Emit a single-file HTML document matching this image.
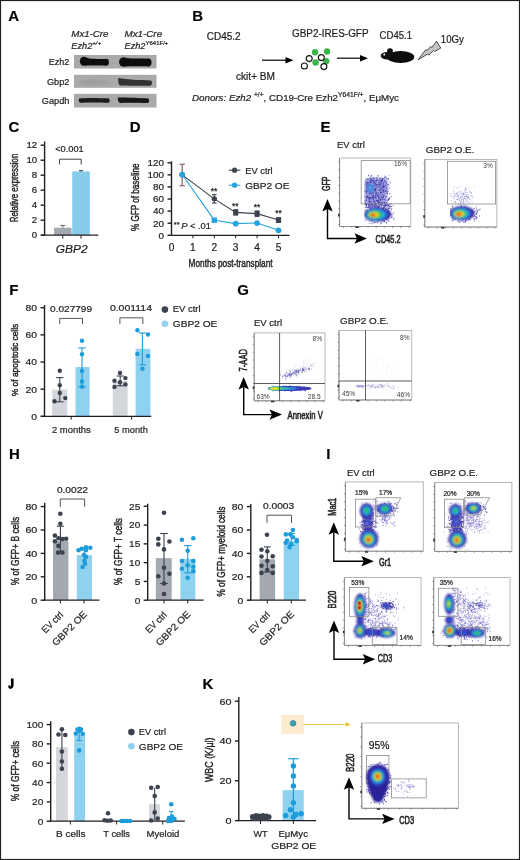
<!DOCTYPE html><html><head><meta charset="utf-8"><title>Figure</title><style>html,body{margin:0;padding:0;background:#fff;overflow:hidden}svg{display:block;font-family:"Liberation Sans", sans-serif;will-change:transform}text{stroke:#231f20;stroke-width:0.22px}text.c{stroke-width:0.42px}text.c2{stroke-width:0.6px}text.n{stroke:none}</style></head><body><svg width="520" height="860" viewBox="0 0 520 860" font-family='"Liberation Sans", sans-serif' fill="#231f20"><defs><clipPath id="cp0"><rect x="364.2" y="150" width="55.80000000000001" height="85"/></clipPath><clipPath id="cp1"><rect x="450" y="150" width="50" height="85"/></clipPath><clipPath id="cp2"><rect x="268.3" y="380" width="61.69999999999999" height="16"/></clipPath><filter id="bl1" x="-50%" y="-50%" width="200%" height="200%"><feGaussianBlur stdDeviation="0.1"/></filter><filter id="bl2" x="-50%" y="-50%" width="200%" height="200%"><feGaussianBlur stdDeviation="0.2"/></filter><filter id="bl3" x="-50%" y="-50%" width="200%" height="200%"><feGaussianBlur stdDeviation="0.3"/></filter><filter id="bl4" x="-50%" y="-50%" width="200%" height="200%"><feGaussianBlur stdDeviation="0.4"/></filter><filter id="bl5" x="-50%" y="-50%" width="200%" height="200%"><feGaussianBlur stdDeviation="0.5"/></filter><filter id="bl6" x="-50%" y="-50%" width="200%" height="200%"><feGaussianBlur stdDeviation="0.6"/></filter><filter id="bl7" x="-50%" y="-50%" width="200%" height="200%"><feGaussianBlur stdDeviation="0.7"/></filter><filter id="bl8" x="-50%" y="-50%" width="200%" height="200%"><feGaussianBlur stdDeviation="0.8"/></filter><filter id="bl9" x="-50%" y="-50%" width="200%" height="200%"><feGaussianBlur stdDeviation="0.9"/></filter><filter id="bl10" x="-50%" y="-50%" width="200%" height="200%"><feGaussianBlur stdDeviation="1.0"/></filter><filter id="bl11" x="-50%" y="-50%" width="200%" height="200%"><feGaussianBlur stdDeviation="1.1"/></filter><filter id="bl12" x="-50%" y="-50%" width="200%" height="200%"><feGaussianBlur stdDeviation="1.2"/></filter><filter id="bl13" x="-50%" y="-50%" width="200%" height="200%"><feGaussianBlur stdDeviation="1.3"/></filter><filter id="bl14" x="-50%" y="-50%" width="200%" height="200%"><feGaussianBlur stdDeviation="1.4"/></filter><filter id="bl15" x="-50%" y="-50%" width="200%" height="200%"><feGaussianBlur stdDeviation="1.5"/></filter><filter id="bl16" x="-50%" y="-50%" width="200%" height="200%"><feGaussianBlur stdDeviation="1.6"/></filter><filter id="bl17" x="-50%" y="-50%" width="200%" height="200%"><feGaussianBlur stdDeviation="1.7"/></filter><filter id="bl18" x="-50%" y="-50%" width="200%" height="200%"><feGaussianBlur stdDeviation="1.8"/></filter><filter id="bl19" x="-50%" y="-50%" width="200%" height="200%"><feGaussianBlur stdDeviation="1.9"/></filter><filter id="bl20" x="-50%" y="-50%" width="200%" height="200%"><feGaussianBlur stdDeviation="2.0"/></filter></defs><filter id="soft" x="0" y="0" width="520" height="860" filterUnits="userSpaceOnUse"><feGaussianBlur stdDeviation="0.25"/></filter><g filter="url(#soft)"><rect x="0" y="0" width="520" height="860" fill="#fff"/>
<text x="8.30" y="20.80" font-size="15" font-weight="bold" fill="#000">A</text>
<text x="71.30" y="37.00" font-size="9.4" font-style="italic" textLength="37.2" lengthAdjust="spacingAndGlyphs">Mx1-Cre</text>
<text x="71.3" y="48.5" font-size="9.2" font-style="italic" fill="#231f20">Ezh2<tspan font-size="6" dy="-3.6">+/+</tspan></text>
<text x="124.50" y="37.00" font-size="9.4" font-style="italic" textLength="37.6" lengthAdjust="spacingAndGlyphs">Mx1-Cre</text>
<text x="124.5" y="48.5" font-size="9.2" font-style="italic" fill="#231f20">Ezh2<tspan font-size="6" font-style="normal" dy="-3.6">Y641F/+</tspan></text>
<text x="69.40" y="64.80" font-size="9.2" text-anchor="end" textLength="20.6" lengthAdjust="spacingAndGlyphs">Ezh2</text>
<text x="69.40" y="84.50" font-size="9.2" text-anchor="end">Gbp2</text>
<text x="69.40" y="104.00" font-size="9.2" text-anchor="end">Gapdh</text>
<rect x="74.00" y="55.00" width="82.50" height="13.50" fill="#a9a9a9"/>
<rect x="74.00" y="74.80" width="82.50" height="13.00" fill="#a9a9a9"/>
<rect x="74.00" y="93.80" width="82.50" height="13.70" fill="#a9a9a9"/>
<g filter="url(#bl6)">
<g fill="#0e0e0e"><ellipse cx="84" cy="61.3" rx="4.2" ry="4.5"/><path d="M84,57.2 C89,58.6 92,59 106,59 L106,65.4 C95,65.4 90,65.5 84,65.6 Z"/><ellipse cx="106.3" cy="62.2" rx="2.6" ry="3.4"/></g>
<g fill="#0a0a0a"><ellipse cx="123.3" cy="62" rx="4.3" ry="4.6"/><path d="M123,57.6 C128,58.6 132,58.7 148,58.7 L148,66.2 C135,66.2 130,66 123,66.5 Z"/><ellipse cx="148.3" cy="62.5" rx="3.2" ry="4.1"/></g>
<ellipse cx="94" cy="82.5" rx="15" ry="3" fill="#a0a0a0"/>
<path d="M118.5,78 C125,79.5 140,80 151,80.5 C152.5,82 152.5,85 150,85.8 C140,86 128,85.5 120,85.5 C118,84 118,80 118.5,78 Z" fill="#333"/>
<path d="M79,98.5 C88,97.5 100,98 109,98.5 C110,100 110,102 108.5,102.8 C100,102.5 88,102.5 80,102.8 C78.5,101.5 78.5,99.5 79,98.5 Z" fill="#1a1a1a"/>
<path d="M118,97.5 C128,97.5 140,98 148.5,98.5 C149.5,100 149.5,102 148,103 C140,103 128,102.5 120,103 C118,102 117.5,99 118,97.5 Z" fill="#151515"/>
</g>
<text x="192.20" y="21.00" font-size="15" font-weight="bold" fill="#000">B</text>
<text x="206.70" y="40.00" font-size="10" textLength="34" lengthAdjust="spacingAndGlyphs">CD45.2</text>
<text x="292.00" y="36.60" font-size="10" textLength="76.5" lengthAdjust="spacingAndGlyphs">GBP2-IRES-GFP</text>
<text x="379.60" y="38.80" font-size="10" textLength="32.4" lengthAdjust="spacingAndGlyphs">CD45.1</text>
<text x="440.80" y="43.00" font-size="10" textLength="23" lengthAdjust="spacingAndGlyphs">10Gy</text>
<text x="236.00" y="80.00" font-size="10" textLength="39" lengthAdjust="spacingAndGlyphs">ckit+ BM</text>
<text x="192" y="100.6" font-size="9.5" fill="#231f20" textLength="207" lengthAdjust="spacingAndGlyphs"><tspan font-style="italic">Donors: Ezh2 </tspan><tspan font-size="6.5" dy="-3.8">+/+</tspan><tspan dy="3.8">, CD19-Cre Ezh2</tspan><tspan font-size="6.5" dy="-3.8">Y641F/+</tspan><tspan dy="3.8">, E&#956;Myc</tspan></text>
<line x1="262.00" y1="60.20" x2="286.50" y2="60.20" stroke="#000" stroke-width="1.2"/>
<polygon points="293.50,60.20 285.50,57.00 285.50,63.40" fill="#000"/>
<line x1="337.00" y1="58.20" x2="361.00" y2="58.20" stroke="#000" stroke-width="1.2"/>
<polygon points="368.00,58.20 360.00,55.00 360.00,61.40" fill="#000"/>
<circle cx="315.10" cy="52.30" r="3.2" fill="#3cb44a"/>
<circle cx="327.00" cy="51.50" r="3.2" fill="#3cb44a"/>
<circle cx="315.60" cy="62.50" r="3.2" fill="#3cb44a"/>
<circle cx="326.20" cy="61.20" r="3.2" fill="#3cb44a"/>
<circle cx="309.20" cy="58.60" r="3.0" fill="#fff" stroke="#111" stroke-width="1.1"/>
<circle cx="321.30" cy="57.60" r="3.0" fill="#fff" stroke="#111" stroke-width="1.1"/>
<circle cx="304.40" cy="66.00" r="3.0" fill="#fff" stroke="#111" stroke-width="1.1"/>
<circle cx="323.90" cy="66.60" r="3.0" fill="#fff" stroke="#111" stroke-width="1.1"/>
<g fill="#0a0a0a"><ellipse cx="400.6" cy="57" rx="13.7" ry="6.1"/><ellipse cx="387.2" cy="55.7" rx="6.5" ry="3.8"/><ellipse cx="390" cy="51" rx="2.9" ry="2.8"/></g>
<circle cx="384.30" cy="54.50" r="1.0" fill="#fff"/>
<polygon points="418.10,59.80 425.80,49.60 427.00,50.60 430.60,46.50 431.80,47.50 436.50,41.20 440.80,48.10 434.50,51.50 433.50,50.50 428.80,55.20 427.80,54.00" fill="#c4c4c4" stroke="#2a2a2a" stroke-width="0.8"/>
<text x="8.60" y="132.20" font-size="15" font-weight="bold" fill="#000">C</text>
<line x1="44.60" y1="141.50" x2="44.60" y2="235.20" stroke="#231f20" stroke-width="1.4"/>
<line x1="40.60" y1="235.20" x2="44.60" y2="235.20" stroke="#231f20" stroke-width="1.4"/>
<text x="37.20" y="238.46" font-size="8.8" text-anchor="end" textLength="5.4" lengthAdjust="spacingAndGlyphs">0</text>
<line x1="40.60" y1="220.20" x2="44.60" y2="220.20" stroke="#231f20" stroke-width="1.4"/>
<text x="37.20" y="223.46" font-size="8.8" text-anchor="end" textLength="5.4" lengthAdjust="spacingAndGlyphs">2</text>
<line x1="40.60" y1="205.20" x2="44.60" y2="205.20" stroke="#231f20" stroke-width="1.4"/>
<text x="37.20" y="208.46" font-size="8.8" text-anchor="end" textLength="5.4" lengthAdjust="spacingAndGlyphs">4</text>
<line x1="40.60" y1="190.20" x2="44.60" y2="190.20" stroke="#231f20" stroke-width="1.4"/>
<text x="37.20" y="193.46" font-size="8.8" text-anchor="end" textLength="5.4" lengthAdjust="spacingAndGlyphs">6</text>
<line x1="40.60" y1="175.20" x2="44.60" y2="175.20" stroke="#231f20" stroke-width="1.4"/>
<text x="37.20" y="178.46" font-size="8.8" text-anchor="end" textLength="5.4" lengthAdjust="spacingAndGlyphs">8</text>
<line x1="40.60" y1="160.20" x2="44.60" y2="160.20" stroke="#231f20" stroke-width="1.4"/>
<text x="37.20" y="163.46" font-size="8.8" text-anchor="end" textLength="10.8" lengthAdjust="spacingAndGlyphs">10</text>
<line x1="40.60" y1="145.20" x2="44.60" y2="145.20" stroke="#231f20" stroke-width="1.4"/>
<text x="37.20" y="148.46" font-size="8.8" text-anchor="end" textLength="10.8" lengthAdjust="spacingAndGlyphs">12</text>
<rect x="54.00" y="227.70" width="17.60" height="7.50" fill="#a3a8b1"/>
<rect x="72.20" y="171.45" width="17.60" height="63.75" fill="#86cbea"/>
<line x1="41.20" y1="235.20" x2="98.30" y2="235.20" stroke="#231f20" stroke-width="1.2"/>
<line x1="62.80" y1="235.20" x2="62.80" y2="238.60" stroke="#231f20" stroke-width="1"/>
<line x1="81.00" y1="235.20" x2="81.00" y2="238.60" stroke="#231f20" stroke-width="1"/>
<line x1="62.80" y1="225.45" x2="62.80" y2="227.70" stroke="#666" stroke-width="1"/>
<line x1="60.40" y1="225.45" x2="65.20" y2="225.45" stroke="#666" stroke-width="1"/>
<line x1="81.00" y1="170.70" x2="81.00" y2="171.45" stroke="#245" stroke-width="1"/>
<line x1="78.90" y1="170.70" x2="83.10" y2="170.70" stroke="#245" stroke-width="1"/>
<polyline points="59.50,164.40 59.50,159.20 81.20,159.20 81.20,164.40" fill="none" stroke="#444" stroke-width="1"/>
<text x="55.20" y="152.30" font-size="9.3" textLength="28.5" lengthAdjust="spacingAndGlyphs">&lt;0.001</text>
<text x="17.80" y="222.20" font-size="10.3" class="c" textLength="68.5" lengthAdjust="spacingAndGlyphs" transform="rotate(-90 17.80 222.20)">Relative expression</text>
<text x="55.80" y="252.50" font-size="11.2" font-style="italic" textLength="31.7" lengthAdjust="spacingAndGlyphs">GBP2</text>
<text x="129.70" y="132.00" font-size="15" font-weight="bold" fill="#000">D</text>
<line x1="171.50" y1="161.30" x2="171.50" y2="235.30" stroke="#231f20" stroke-width="1.4"/>
<line x1="167.50" y1="235.30" x2="171.50" y2="235.30" stroke="#231f20" stroke-width="1.4"/>
<text x="164.10" y="238.59" font-size="8.9" text-anchor="end" textLength="5.5" lengthAdjust="spacingAndGlyphs">0</text>
<line x1="167.50" y1="223.21" x2="171.50" y2="223.21" stroke="#231f20" stroke-width="1.4"/>
<text x="164.10" y="226.50" font-size="8.9" text-anchor="end" textLength="11.0" lengthAdjust="spacingAndGlyphs">20</text>
<line x1="167.50" y1="211.12" x2="171.50" y2="211.12" stroke="#231f20" stroke-width="1.4"/>
<text x="164.10" y="214.41" font-size="8.9" text-anchor="end" textLength="11.0" lengthAdjust="spacingAndGlyphs">40</text>
<line x1="167.50" y1="199.03" x2="171.50" y2="199.03" stroke="#231f20" stroke-width="1.4"/>
<text x="164.10" y="202.32" font-size="8.9" text-anchor="end" textLength="11.0" lengthAdjust="spacingAndGlyphs">60</text>
<line x1="167.50" y1="186.94" x2="171.50" y2="186.94" stroke="#231f20" stroke-width="1.4"/>
<text x="164.10" y="190.23" font-size="8.9" text-anchor="end" textLength="11.0" lengthAdjust="spacingAndGlyphs">80</text>
<line x1="167.50" y1="174.85" x2="171.50" y2="174.85" stroke="#231f20" stroke-width="1.4"/>
<text x="164.10" y="178.14" font-size="8.9" text-anchor="end" textLength="16.5" lengthAdjust="spacingAndGlyphs">100</text>
<line x1="167.50" y1="162.76" x2="171.50" y2="162.76" stroke="#231f20" stroke-width="1.4"/>
<text x="164.10" y="166.05" font-size="8.9" text-anchor="end" textLength="16.5" lengthAdjust="spacingAndGlyphs">120</text>
<line x1="171.50" y1="235.30" x2="289.50" y2="235.30" stroke="#231f20" stroke-width="1.2"/>
<line x1="192.90" y1="235.30" x2="192.90" y2="238.30" stroke="#231f20" stroke-width="1"/>
<line x1="214.30" y1="235.30" x2="214.30" y2="238.30" stroke="#231f20" stroke-width="1"/>
<line x1="235.70" y1="235.30" x2="235.70" y2="238.30" stroke="#231f20" stroke-width="1"/>
<line x1="257.10" y1="235.30" x2="257.10" y2="238.30" stroke="#231f20" stroke-width="1"/>
<line x1="278.50" y1="235.30" x2="278.50" y2="238.30" stroke="#231f20" stroke-width="1"/>
<text x="171.50" y="251.40" font-size="10.2" text-anchor="middle">0</text>
<text x="192.90" y="251.40" font-size="10.2" text-anchor="middle">1</text>
<text x="214.30" y="251.40" font-size="10.2" text-anchor="middle">2</text>
<text x="235.70" y="251.40" font-size="10.2" text-anchor="middle">3</text>
<text x="257.10" y="251.40" font-size="10.2" text-anchor="middle">4</text>
<text x="278.50" y="251.40" font-size="10.2" text-anchor="middle">5</text>
<text x="138.80" y="231.00" font-size="10.5" class="c" textLength="67.6" lengthAdjust="spacingAndGlyphs" transform="rotate(-90 138.80 231.00)">% GFP of baseline</text>
<text x="188.60" y="267.20" font-size="10.7" class="c" textLength="84" lengthAdjust="spacingAndGlyphs">Months post-transplant</text>
<line x1="182.20" y1="164.27" x2="182.20" y2="185.73" stroke="#8a6466" stroke-width="1.2"/>
<line x1="179.55" y1="164.27" x2="184.85" y2="164.27" stroke="#8a6466" stroke-width="1.2"/>
<line x1="179.55" y1="185.73" x2="184.85" y2="185.73" stroke="#8a6466" stroke-width="1.2"/>
<line x1="214.30" y1="194.62" x2="214.30" y2="203.08" stroke="#3c4350" stroke-width="1.1"/>
<line x1="212.00" y1="194.62" x2="216.60" y2="194.62" stroke="#3c4350" stroke-width="1.1"/>
<line x1="212.00" y1="203.08" x2="216.60" y2="203.08" stroke="#3c4350" stroke-width="1.1"/>
<line x1="235.70" y1="209.67" x2="235.70" y2="215.11" stroke="#3c4350" stroke-width="1.1"/>
<line x1="233.40" y1="209.67" x2="238.00" y2="209.67" stroke="#3c4350" stroke-width="1.1"/>
<line x1="233.40" y1="215.11" x2="238.00" y2="215.11" stroke="#3c4350" stroke-width="1.1"/>
<line x1="257.10" y1="210.94" x2="257.10" y2="216.38" stroke="#3c4350" stroke-width="1.1"/>
<line x1="254.80" y1="210.94" x2="259.40" y2="210.94" stroke="#3c4350" stroke-width="1.1"/>
<line x1="254.80" y1="216.38" x2="259.40" y2="216.38" stroke="#3c4350" stroke-width="1.1"/>
<line x1="278.50" y1="217.65" x2="278.50" y2="222.48" stroke="#3c4350" stroke-width="1.1"/>
<line x1="276.20" y1="217.65" x2="280.80" y2="217.65" stroke="#3c4350" stroke-width="1.1"/>
<line x1="276.20" y1="222.48" x2="280.80" y2="222.48" stroke="#3c4350" stroke-width="1.1"/>
<polyline points="182.20,174.85 214.30,198.85 235.70,212.39 257.10,213.66 278.50,220.07" fill="none" stroke="#3c4350" stroke-width="1.1"/>
<circle cx="182.20" cy="174.85" r="2.7" fill="#3c4350"/>
<circle cx="214.30" cy="198.85" r="2.7" fill="#3c4350"/>
<rect x="233.10" y="209.79" width="5.20" height="5.20" fill="#3c4350"/>
<rect x="254.50" y="211.06" width="5.20" height="5.20" fill="#3c4350"/>
<rect x="275.90" y="217.47" width="5.20" height="5.20" fill="#3c4350"/>
<polyline points="182.20,174.55 214.30,220.19 235.70,223.63 257.10,223.03 278.50,230.34" fill="none" stroke="#27a2dc" stroke-width="1.1"/>
<circle cx="182.20" cy="174.55" r="2.9" fill="#27a2dc"/>
<rect x="211.60" y="217.49" width="5.40" height="5.40" fill="#27a2dc"/>
<circle cx="235.70" cy="223.63" r="2.9" fill="#27a2dc"/>
<circle cx="257.10" cy="223.03" r="2.9" fill="#27a2dc"/>
<circle cx="278.50" cy="230.34" r="2.9" fill="#27a2dc"/>
<text x="214.00" y="193.70" font-size="8.5" text-anchor="middle">**</text>
<text x="235.20" y="209.10" font-size="8.5" text-anchor="middle">**</text>
<text x="257.10" y="210.10" font-size="8.5" text-anchor="middle">**</text>
<text x="278.50" y="216.30" font-size="8.5" text-anchor="middle">**</text>
<text x="173.8" y="229.4" font-size="9.3" fill="#231f20"><tspan font-size="7.5" dy="-2">**</tspan><tspan dy="2" dx="1.5" font-style="italic">P</tspan> &lt; .01</text>
<line x1="228.80" y1="170.20" x2="240.40" y2="170.20" stroke="#3c4350" stroke-width="1.1"/>
<circle cx="234.60" cy="170.20" r="2.6" fill="#3c4350"/>
<text x="245.20" y="173.60" font-size="9.5" textLength="27.5" lengthAdjust="spacingAndGlyphs">EV ctrl</text>
<line x1="228.80" y1="185.20" x2="240.40" y2="185.20" stroke="#27a2dc" stroke-width="1.1"/>
<circle cx="234.60" cy="185.20" r="2.6" fill="#27a2dc"/>
<text x="245.20" y="188.70" font-size="9.5" textLength="44.2" lengthAdjust="spacingAndGlyphs">GBP2 OE</text>
<text x="320.40" y="132.30" font-size="15" font-weight="bold" fill="#000">E</text>
<text x="337.00" y="148.10" font-size="9.7" textLength="27.8" lengthAdjust="spacingAndGlyphs">EV ctrl</text>
<text x="425.80" y="153.10" font-size="9.7" textLength="48.6" lengthAdjust="spacingAndGlyphs">GBP2 O.E.</text>
<rect x="339.60" y="158.00" width="71.20" height="68.50" fill="none" stroke="#b0b0b0" stroke-width="0.9"/>
<line x1="339.60" y1="158.00" x2="339.60" y2="226.50" stroke="#888" stroke-width="0.9"/>
<line x1="339.60" y1="226.50" x2="410.80" y2="226.50" stroke="#888" stroke-width="0.9"/>
<rect x="338.10" y="213.60" width="1.60" height="2.80" fill="#333"/>
<rect x="355.40" y="226.40" width="3.20" height="1.60" fill="#333"/>
<line x1="338.10" y1="162.00" x2="339.60" y2="162.00" stroke="#666" stroke-width="0.6"/>
<line x1="338.10" y1="169.81" x2="339.60" y2="169.81" stroke="#666" stroke-width="0.6"/>
<line x1="338.10" y1="177.62" x2="339.60" y2="177.62" stroke="#666" stroke-width="0.6"/>
<line x1="338.10" y1="185.44" x2="339.60" y2="185.44" stroke="#666" stroke-width="0.6"/>
<line x1="338.10" y1="193.25" x2="339.60" y2="193.25" stroke="#666" stroke-width="0.6"/>
<line x1="338.10" y1="201.06" x2="339.60" y2="201.06" stroke="#666" stroke-width="0.6"/>
<line x1="338.10" y1="208.88" x2="339.60" y2="208.88" stroke="#666" stroke-width="0.6"/>
<line x1="338.10" y1="216.69" x2="339.60" y2="216.69" stroke="#666" stroke-width="0.6"/>
<line x1="338.10" y1="224.50" x2="339.60" y2="224.50" stroke="#666" stroke-width="0.6"/>
<line x1="343.60" y1="226.50" x2="343.60" y2="228.00" stroke="#666" stroke-width="0.6"/>
<line x1="351.75" y1="226.50" x2="351.75" y2="228.00" stroke="#666" stroke-width="0.6"/>
<line x1="359.90" y1="226.50" x2="359.90" y2="228.00" stroke="#666" stroke-width="0.6"/>
<line x1="368.05" y1="226.50" x2="368.05" y2="228.00" stroke="#666" stroke-width="0.6"/>
<line x1="376.20" y1="226.50" x2="376.20" y2="228.00" stroke="#666" stroke-width="0.6"/>
<line x1="384.35" y1="226.50" x2="384.35" y2="228.00" stroke="#666" stroke-width="0.6"/>
<line x1="392.50" y1="226.50" x2="392.50" y2="228.00" stroke="#666" stroke-width="0.6"/>
<line x1="400.65" y1="226.50" x2="400.65" y2="228.00" stroke="#666" stroke-width="0.6"/>
<line x1="408.80" y1="226.50" x2="408.80" y2="228.00" stroke="#666" stroke-width="0.6"/>
<g clip-path="url(#cp0)"><g filter="url(#bl15)" opacity="0.55"><rect x="364" y="178" width="23" height="27" rx="6" fill="#5256cc"/></g></g>
<path d="M371.1 188.5h1.0M375.2 190.7h1.0M379.1 184.7h1.0M368.0 175.6h1.0M389.2 193.7h1.0M370.7 178.9h1.0M369.2 190.4h1.0M375.9 193.1h1.0M375.0 183.1h1.0M390.4 196.7h1.0M372.1 180.4h1.0M379.0 189.9h1.0M386.1 182.8h1.0M380.1 189.1h1.0M364.6 202.3h1.0M367.6 179.5h1.0M383.5 191.6h1.0M369.1 194.1h1.0M366.5 185.1h1.0M386.9 200.3h1.0M366.9 197.1h1.0M368.5 184.1h1.0M381.3 180.4h1.0M365.8 193.2h1.0M368.8 191.9h1.0M378.4 180.5h1.0M385.5 181.1h1.0M382.4 203.2h1.0M382.9 178.8h1.0M367.1 196.4h1.0M371.7 183.0h1.0M368.7 182.7h1.0M378.8 182.9h1.0M385.3 184.9h1.0M375.8 187.7h1.0M378.7 203.2h1.0M385.0 191.1h1.0M368.4 202.6h1.0M380.8 194.7h1.0M375.4 203.4h1.0M380.3 199.6h1.0M371.2 197.8h1.0M375.1 189.6h1.0M377.0 195.7h1.0M378.8 195.2h1.0M375.1 197.4h1.0M377.9 202.8h1.0M372.1 196.1h1.0M371.3 198.9h1.0M376.0 194.6h1.0M366.4 204.0h1.0M382.6 187.4h1.0M364.6 200.8h1.0M382.0 181.3h1.0M374.7 189.8h1.0M377.2 200.6h1.0M385.9 178.1h1.0M386.9 193.7h1.0M371.9 180.5h1.0M378.4 184.2h1.0M370.5 190.2h1.0M377.0 201.1h1.0M380.7 183.9h1.0M369.4 193.9h1.0M378.6 197.4h1.0M388.5 199.4h1.0M365.4 203.2h1.0M369.9 197.8h1.0M383.2 183.3h1.0M382.0 194.8h1.0M373.8 201.4h1.0M377.2 200.9h1.0M383.4 190.0h1.0M377.3 175.7h1.0M385.8 183.1h1.0M372.6 180.2h1.0M375.8 192.9h1.0M381.4 179.6h1.0M368.4 197.2h1.0M375.6 192.2h1.0M369.3 204.6h1.0M372.4 187.9h1.0M378.3 193.2h1.0M383.0 192.3h1.0M374.5 188.6h1.0M382.3 189.5h1.0M387.3 189.6h1.0M364.8 203.6h1.0M375.0 195.4h1.0M387.5 179.9h1.0M369.7 188.7h1.0M372.2 196.9h1.0M366.3 182.4h1.0M375.1 189.3h1.0M377.3 195.7h1.0M375.6 193.5h1.0M384.2 202.6h1.0M384.2 204.3h1.0M373.6 180.7h1.0M370.1 178.3h1.0M380.5 182.0h1.0M373.7 182.3h1.0M384.0 177.7h1.0M376.2 194.1h1.0M369.9 178.4h1.0M374.8 180.9h1.0M385.9 204.0h1.0M375.3 188.5h1.0M374.1 178.4h1.0M381.1 188.8h1.0M380.3 182.3h1.0M380.1 199.8h1.0M382.1 186.4h1.0M373.1 199.4h1.0M373.2 197.2h1.0M379.7 203.8h1.0M380.6 185.3h1.0M382.4 190.8h1.0M372.6 185.6h1.0M377.5 187.0h1.0M385.2 196.1h1.0M389.0 198.0h1.0M370.2 182.8h1.0M374.4 203.2h1.0M372.4 192.7h1.0M384.8 176.6h1.0M378.2 202.5h1.0M367.4 191.1h1.0M382.5 190.3h1.0M375.2 184.0h1.0M378.0 196.5h1.0M372.9 178.3h1.0M368.5 200.3h1.0M386.6 205.1h1.0M368.2 189.3h1.0M386.5 205.4h1.0M376.0 200.9h1.0M380.2 191.4h1.0M371.6 181.2h1.0M373.8 182.6h1.0M375.1 193.4h1.0M389.7 182.8h1.0M370.0 192.5h1.0M372.5 195.5h1.0M376.0 180.1h1.0M374.4 201.1h1.0M367.2 189.4h1.0M380.5 180.4h1.0M365.9 192.6h1.0M372.0 186.8h1.0M381.8 179.8h1.0M380.6 180.8h1.0M374.2 190.6h1.0M381.0 192.3h1.0M383.1 186.4h1.0M367.6 178.8h1.0M374.7 185.6h1.0M383.2 196.1h1.0M365.8 199.2h1.0M372.3 198.7h1.0M375.2 194.8h1.0M388.9 187.8h1.0M382.1 189.7h1.0M386.6 186.3h1.0M371.9 189.2h1.0M366.3 190.9h1.0M382.4 197.8h1.0M384.3 191.8h1.0M372.7 193.3h1.0M384.8 200.0h1.0M369.4 203.6h1.0M366.2 197.1h1.0M379.3 199.7h1.0M376.6 184.7h1.0M385.3 190.2h1.0M379.8 184.6h1.0M381.4 196.5h1.0M386.8 192.0h1.0M375.7 185.7h1.0M373.9 190.0h1.0M372.0 185.5h1.0M365.7 179.5h1.0M366.7 183.8h1.0M369.7 180.9h1.0M368.9 199.3h1.0M368.7 189.4h1.0M373.8 184.0h1.0M379.0 182.6h1.0M369.2 186.7h1.0M375.2 204.6h1.0M379.5 190.5h1.0M374.0 191.2h1.0M369.3 185.6h1.0M381.6 204.5h1.0M369.9 198.3h1.0M366.5 196.9h1.0M366.5 182.6h1.0M371.2 194.3h1.0M382.8 191.7h1.0M388.0 184.7h1.0M375.9 200.1h1.0M371.6 186.2h1.0M374.9 194.6h1.0M365.7 205.3h1.0M383.1 187.3h1.0M380.8 192.1h1.0M368.5 182.6h1.0M378.1 193.8h1.0M370.6 197.2h1.0M371.5 189.0h1.0M383.1 185.2h1.0M384.0 180.2h1.0M379.6 187.2h1.0M382.8 182.9h1.0M369.8 180.3h1.0M383.3 196.1h1.0M382.6 184.7h1.0M375.9 196.8h1.0M387.3 191.5h1.0M364.6 196.7h1.0M365.8 200.6h1.0M382.3 197.8h1.0M383.3 190.5h1.0M366.9 186.3h1.0M381.3 202.4h1.0M379.0 184.6h1.0M377.2 201.5h1.0M372.0 204.5h1.0M369.8 191.4h1.0M382.2 199.5h1.0M372.4 192.3h1.0M384.2 181.2h1.0M378.5 200.2h1.0M370.7 175.7h1.0M368.4 188.0h1.0M378.5 186.3h1.0M376.2 180.3h1.0M382.6 197.4h1.0M373.2 197.6h1.0M381.7 202.8h1.0M384.6 187.7h1.0M379.3 190.5h1.0M375.8 177.6h1.0M383.3 192.0h1.0M380.7 181.2h1.0M365.7 188.8h1.0M365.4 181.6h1.0M370.7 179.7h1.0M387.7 200.7h1.0M374.7 196.7h1.0M378.1 198.7h1.0M369.9 180.3h1.0M385.4 185.3h1.0M378.3 202.3h1.0M367.6 204.4h1.0M375.8 204.3h1.0M385.9 190.2h1.0M368.7 200.8h1.0M368.4 187.6h1.0M386.7 178.7h1.0M382.1 178.5h1.0M368.9 185.2h1.0M369.2 201.8h1.0M371.2 190.3h1.0M368.7 199.6h1.0M370.6 203.9h1.0M372.5 177.9h1.0M377.9 200.8h1.0M366.3 186.8h1.0M370.0 201.8h1.0M388.7 198.4h1.0M375.4 181.1h1.0M376.2 194.1h1.0M380.1 200.4h1.0M375.7 181.3h1.0M383.4 185.7h1.0M375.1 196.0h1.0M368.9 193.3h1.0M378.3 197.5h1.0M378.4 180.4h1.0M371.0 201.7h1.0M374.4 182.8h1.0M368.0 186.3h1.0M377.3 193.3h1.0M367.4 183.1h1.0M367.3 195.9h1.0M364.9 184.0h1.0M388.4 198.9h1.0M387.9 199.4h1.0M366.1 184.7h1.0M373.1 180.9h1.0M368.8 197.5h1.0M370.0 186.0h1.0M376.7 185.7h1.0M386.2 188.0h1.0M380.8 197.0h1.0M380.9 187.9h1.0M374.6 197.4h1.0M369.1 193.3h1.0M369.0 191.3h1.0M366.4 197.9h1.0M384.5 180.7h1.0M379.3 178.6h1.0M368.9 204.7h1.0M380.5 183.0h1.0M383.7 199.6h1.0M386.5 188.0h1.0M368.0 197.5h1.0M378.1 184.3h1.0M367.3 179.9h1.0M369.9 181.8h1.0M380.4 198.5h1.0M368.6 198.4h1.0M371.2 185.7h1.0M370.7 179.2h1.0M385.7 205.3h1.0M368.8 201.3h1.0M384.4 182.1h1.0M373.9 188.1h1.0M370.8 181.5h1.0M372.8 195.8h1.0M371.6 189.7h1.0M365.9 191.1h1.0M382.2 187.5h1.0M365.9 191.2h1.0M376.3 184.4h1.0M370.2 189.1h1.0M380.2 192.7h1.0M386.1 191.9h1.0M372.8 201.0h1.0M381.4 180.7h1.0M366.4 187.0h1.0M387.2 184.3h1.0M380.0 192.3h1.0M373.8 197.3h1.0M375.4 198.6h1.0M385.5 203.3h1.0M371.3 193.5h1.0M386.7 193.5h1.0M374.2 184.3h1.0M380.2 183.7h1.0M373.1 182.5h1.0M367.2 197.1h1.0M364.5 191.4h1.0M371.0 175.8h1.0M367.4 187.8h1.0M380.7 189.0h1.0M372.5 196.7h1.0M375.0 195.8h1.0M383.6 186.7h1.0M379.9 178.5h1.0M382.3 179.0h1.0M377.9 189.3h1.0M386.1 196.9h1.0M369.0 197.9h1.0M388.0 178.8h1.0M375.2 185.8h1.0M383.4 186.7h1.0M379.1 182.9h1.0M377.2 180.2h1.0M372.1 186.7h1.0M376.9 178.6h1.0M379.0 186.7h1.0M368.3 184.5h1.0" stroke="#2c2396" stroke-width="1.0" opacity="0.75" fill="none"/>
<path d="M389.2 181.6h1.0M390.4 196.5h1.0M385.2 186.5h1.0M380.3 184.8h1.0M386.1 181.0h1.0M384.0 189.7h1.0M376.3 188.2h1.0M379.9 187.2h1.0M386.1 203.4h1.0M366.1 204.1h1.0M379.9 189.4h1.0M385.2 178.9h1.0M376.5 186.3h1.0M377.9 190.9h1.0M368.9 189.0h1.0M383.9 180.7h1.0M385.5 178.3h1.0M373.4 205.4h1.0M381.2 202.5h1.0M386.9 192.2h1.0M387.1 200.8h1.0M374.5 194.3h1.0M380.2 178.0h1.0M371.3 185.3h1.0M377.9 183.4h1.0M384.3 198.4h1.0M364.5 186.4h1.0M377.2 205.7h1.0M374.6 184.4h1.0M369.8 184.8h1.0M368.0 200.6h1.0M368.6 184.3h1.0M385.2 187.2h1.0M379.3 201.8h1.0M373.7 198.8h1.0M366.5 192.5h1.0M374.9 186.4h1.0M368.1 179.5h1.0M375.6 197.0h1.0M378.4 181.4h1.0M371.6 202.6h1.0M380.5 194.3h1.0M368.1 194.3h1.0M377.7 180.5h1.0M385.8 189.4h1.0M382.7 192.7h1.0M373.5 194.0h1.0M370.8 186.2h1.0M378.0 189.7h1.0M375.6 197.8h1.0M371.9 179.4h1.0M384.0 204.9h1.0M376.3 183.0h1.0M379.1 196.4h1.0M378.4 192.8h1.0M371.5 177.5h1.0M383.9 191.8h1.0M386.8 185.9h1.0M373.9 193.5h1.0M380.9 195.4h1.0M382.3 192.6h1.0M375.2 195.3h1.0M368.4 191.0h1.0M380.4 183.9h1.0M380.2 181.6h1.0M379.8 182.4h1.0M369.4 183.6h1.0M383.7 191.1h1.0M381.7 191.2h1.0M382.7 191.7h1.0M385.8 184.0h1.0M371.1 194.9h1.0M377.2 196.9h1.0M385.3 201.1h1.0M385.9 186.5h1.0M368.1 179.5h1.0M380.5 194.4h1.0M381.9 187.5h1.0M383.9 187.3h1.0M389.4 175.2h1.0M377.5 201.1h1.0M374.6 188.7h1.0M389.4 193.8h1.0M378.2 184.4h1.0M386.4 201.2h1.0M382.0 183.8h1.0M369.7 188.9h1.0M379.5 196.0h1.0M375.8 196.5h1.0M380.3 201.9h1.0M387.1 183.3h1.0M366.2 179.8h1.0M375.3 194.2h1.0M382.8 195.9h1.0M374.6 182.5h1.0M382.2 199.1h1.0M377.8 193.7h1.0M368.8 192.1h1.0M379.7 198.6h1.0M374.4 202.9h1.0M370.8 205.5h1.0M371.1 179.0h1.0M380.4 195.6h1.0M366.1 195.6h1.0M373.1 188.9h1.0M369.2 189.6h1.0M379.7 187.0h1.0M385.1 190.5h1.0M371.0 202.0h1.0M378.4 181.9h1.0M371.2 188.4h1.0M375.0 187.3h1.0M371.3 185.4h1.0M379.0 204.4h1.0M366.5 184.9h1.0M379.0 183.5h1.0M365.2 200.1h1.0M366.7 199.4h1.0M384.0 175.8h1.0M383.7 178.9h1.0M379.9 191.1h1.0M385.5 184.3h1.0M383.8 200.8h1.0M379.0 201.1h1.0M387.3 200.0h1.0M369.3 203.7h1.0M367.0 178.5h1.0M369.2 199.9h1.0M370.1 194.6h1.0M384.8 202.6h1.0M367.3 197.9h1.0M375.8 193.0h1.0M365.5 196.3h1.0M372.1 185.1h1.0M367.3 203.2h1.0M379.4 190.0h1.0M372.1 190.1h1.0M380.0 187.6h1.0M374.6 181.4h1.0M371.9 181.6h1.0M375.4 181.8h1.0M374.7 195.6h1.0M383.4 184.7h1.0M378.0 180.7h1.0M383.6 201.5h1.0M380.6 191.5h1.0M377.8 203.8h1.0M367.6 196.4h1.0M384.8 201.1h1.0M369.6 205.8h1.0M369.3 193.4h1.0M384.0 181.1h1.0M368.5 185.6h1.0M385.6 200.6h1.0M385.4 177.6h1.0M379.3 196.5h1.0M381.9 189.9h1.0M384.6 194.0h1.0M381.0 202.6h1.0M387.6 175.6h1.0M375.2 191.6h1.0M380.7 182.9h1.0M368.2 187.6h1.0M369.2 187.1h1.0M377.5 176.9h1.0M372.2 178.8h1.0M368.4 205.4h1.0M368.4 180.2h1.0M368.1 187.3h1.0M386.2 199.8h1.0M373.0 194.6h1.0M380.4 196.2h1.0M382.2 182.1h1.0M376.6 199.3h1.0M370.4 176.3h1.0M369.1 197.9h1.0M375.2 197.0h1.0M373.3 184.6h1.0M369.2 178.1h1.0M386.4 201.9h1.0M369.4 178.7h1.0M370.5 193.2h1.0M372.1 196.6h1.0M378.7 192.9h1.0M376.1 194.7h1.0M388.7 184.7h1.0M375.3 201.3h1.0M385.1 197.9h1.0M375.4 193.4h1.0M375.2 204.5h1.0M371.7 191.0h1.0M383.9 179.6h1.0M376.5 193.7h1.0M380.3 197.5h1.0" stroke="#8a8fe0" stroke-width="1.0" opacity="0.6" fill="none"/>
<g>
<g filter="url(#bl10)" opacity="0.9">
<ellipse cx="370.50" cy="188.30" rx="3.80" ry="4.30" fill="#3d7fdc"/>
<ellipse cx="370.41" cy="188.17" rx="2.09" ry="2.37" fill="#58a6e6"/>
</g></g>
<path d="M378.8 202.5h1.0M383.8 202.4h1.0M364.7 205.1h1.0M376.9 209.1h1.0M375.3 207.1h1.0M387.6 206.8h1.0M389.1 208.4h1.0M380.8 208.0h1.0M377.3 207.1h1.0M385.5 204.8h1.0M366.3 207.0h1.0M374.6 202.6h1.0M379.9 204.5h1.0M371.8 205.5h1.0M378.5 206.2h1.0M387.6 208.2h1.0M379.4 206.9h1.0M373.1 206.3h1.0M383.1 208.2h1.0M388.8 206.6h1.0M374.8 203.9h1.0M375.0 204.3h1.0M368.1 207.2h1.0M386.4 202.5h1.0M389.3 208.0h1.0M381.2 203.6h1.0M381.0 205.3h1.0M368.7 206.7h1.0M373.8 205.7h1.0M377.4 203.9h1.0M373.2 203.8h1.0M382.8 207.1h1.0M371.6 204.9h1.0M378.4 208.9h1.0M371.9 206.4h1.0M378.5 207.5h1.0M383.3 205.8h1.0M378.3 204.3h1.0M390.1 206.0h1.0M370.2 207.5h1.0M391.3 208.2h1.0M382.1 204.0h1.0M366.0 205.6h1.0M371.2 207.9h1.0M389.3 206.8h1.0M373.6 201.7h1.0M383.1 205.4h1.0M378.5 205.4h1.0M368.1 205.8h1.0M369.6 208.3h1.0M385.1 205.7h1.0M377.5 207.4h1.0M368.4 205.5h1.0M373.5 206.2h1.0M374.8 206.2h1.0M383.8 207.1h1.0M384.0 203.6h1.0M371.3 203.7h1.0M375.8 205.6h1.0M369.5 204.6h1.0M383.2 208.6h1.0M373.9 204.2h1.0M369.8 208.3h1.0M381.6 202.8h1.0M371.4 204.1h1.0M372.5 207.9h1.0M370.0 206.0h1.0M366.1 204.3h1.0M370.9 209.3h1.0M383.9 205.3h1.0M387.4 206.0h1.0M374.0 206.8h1.0M385.4 204.9h1.0M382.3 208.0h1.0M369.9 207.8h1.0M382.5 209.6h1.0M385.5 205.1h1.0M387.4 204.2h1.0M365.2 204.4h1.0M366.5 204.0h1.0M371.9 204.2h1.0M374.4 207.9h1.0M364.8 207.4h1.0M382.4 208.6h1.0M388.8 204.5h1.0M376.3 206.6h1.0M390.9 203.6h1.0M378.4 206.7h1.0M389.7 203.8h1.0M383.9 207.5h1.0M366.7 207.6h1.0M368.4 205.1h1.0M380.9 203.8h1.0M368.1 207.4h1.0M378.0 207.6h1.0M387.7 205.1h1.0M388.1 205.3h1.0M384.7 203.5h1.0M369.8 203.5h1.0M372.1 207.2h1.0M375.4 205.4h1.0M384.0 206.1h1.0M376.0 208.3h1.0M385.3 206.2h1.0M370.7 206.0h1.0M368.9 206.7h1.0M370.0 203.3h1.0M371.2 203.5h1.0M381.4 206.0h1.0M385.0 206.5h1.0M379.1 206.2h1.0M379.6 202.9h1.0M367.2 207.5h1.0M366.0 206.3h1.0M374.9 207.1h1.0M380.8 205.2h1.0M388.9 206.1h1.0" stroke="#3a2ea8" stroke-width="1.0" opacity="0.8" fill="none"/>
<path d="M365.4 215.9h0.9M374.8 213.1h0.9M384.7 215.3h0.9M374.8 222.2h0.9M373.0 209.9h0.9M366.0 212.9h0.9M382.3 218.4h0.9M386.1 222.4h0.9M390.8 217.7h0.9M387.9 217.8h0.9M372.8 218.5h0.9M377.9 214.4h0.9M393.5 218.3h0.9M373.5 214.9h0.9M383.4 217.7h0.9M381.6 217.6h0.9M373.5 213.3h0.9M376.1 213.8h0.9M384.0 221.5h0.9M370.2 217.4h0.9M369.5 212.4h0.9M375.5 215.7h0.9M388.7 214.1h0.9M372.3 218.0h0.9M372.6 209.4h0.9M381.4 216.9h0.9M370.7 218.6h0.9M380.5 210.6h0.9M391.6 216.3h0.9M368.2 217.1h0.9M378.5 219.2h0.9M366.5 219.4h0.9M385.1 218.0h0.9M382.4 220.6h0.9M383.3 215.7h0.9M370.6 219.7h0.9M385.4 216.4h0.9M378.7 218.1h0.9M386.0 222.9h0.9M373.6 217.0h0.9M376.8 206.2h0.9M383.3 215.1h0.9M377.9 211.4h0.9M377.1 215.5h0.9M387.8 216.4h0.9M375.2 215.0h0.9M370.8 221.3h0.9M382.6 210.0h0.9M378.3 219.9h0.9M365.9 215.8h0.9M380.7 213.5h0.9M372.8 222.9h0.9M364.7 214.4h0.9M375.4 212.3h0.9M375.7 218.0h0.9M372.0 209.4h0.9M388.3 221.1h0.9M371.8 216.4h0.9M366.6 212.9h0.9M377.5 210.8h0.9M379.6 209.9h0.9M372.6 218.1h0.9M376.1 209.9h0.9M389.5 215.7h0.9M388.8 210.9h0.9M391.1 209.7h0.9M374.4 216.2h0.9M372.8 217.8h0.9M388.2 212.5h0.9M366.2 213.6h0.9M384.0 218.5h0.9M374.6 211.2h0.9M377.2 219.1h0.9M371.6 220.4h0.9M379.2 216.4h0.9M372.3 220.7h0.9M377.7 209.1h0.9M384.0 213.5h0.9M386.1 215.9h0.9M372.3 215.9h0.9M373.4 211.8h0.9M377.5 218.6h0.9M377.9 214.8h0.9M372.9 217.5h0.9M379.6 219.1h0.9M380.3 223.8h0.9M364.6 215.0h0.9M381.7 218.8h0.9M364.9 210.2h0.9M377.0 219.4h0.9M386.2 209.0h0.9M378.4 219.9h0.9M377.6 211.0h0.9M371.5 209.8h0.9M387.0 214.1h0.9M373.9 211.6h0.9M376.2 211.5h0.9M369.4 215.0h0.9M375.5 217.0h0.9M378.5 220.0h0.9M377.0 216.2h0.9M379.2 211.9h0.9M387.0 212.9h0.9M364.5 220.2h0.9M382.6 212.9h0.9M385.1 219.1h0.9M383.0 210.4h0.9M378.8 211.0h0.9M372.4 212.9h0.9M370.5 217.2h0.9M371.0 217.7h0.9M378.7 212.7h0.9M378.7 217.9h0.9M386.6 214.1h0.9M391.4 217.5h0.9M387.4 209.7h0.9M368.8 220.1h0.9M375.5 217.0h0.9M387.0 209.3h0.9M381.0 223.0h0.9M383.8 215.5h0.9M381.9 215.2h0.9M383.6 220.4h0.9M375.5 217.5h0.9M379.8 218.2h0.9M384.1 210.8h0.9M386.7 218.6h0.9M368.5 214.0h0.9M365.6 214.0h0.9M380.0 210.5h0.9M371.1 211.6h0.9M371.7 212.0h0.9M368.7 217.5h0.9M375.6 211.8h0.9M385.3 212.9h0.9M384.5 210.2h0.9M388.7 213.4h0.9M369.7 216.8h0.9M366.6 210.8h0.9M379.2 213.2h0.9M380.5 215.7h0.9M379.4 215.7h0.9M383.1 215.2h0.9M386.2 219.0h0.9M389.9 213.4h0.9M378.8 214.7h0.9M371.6 215.4h0.9M377.4 210.8h0.9M370.3 214.1h0.9M377.2 216.7h0.9M390.6 214.4h0.9M383.9 213.5h0.9M371.6 223.7h0.9M367.4 211.5h0.9M382.7 215.2h0.9M383.2 209.0h0.9M372.8 218.3h0.9M392.7 205.8h0.9M371.8 215.2h0.9M370.0 211.5h0.9M373.3 217.2h0.9M368.7 218.6h0.9M384.0 218.6h0.9M389.6 213.0h0.9M376.9 219.2h0.9M387.5 218.9h0.9M373.7 213.2h0.9M366.7 213.4h0.9M370.1 213.2h0.9M374.2 218.5h0.9M384.2 214.9h0.9M368.1 214.9h0.9M380.8 218.6h0.9M379.0 218.4h0.9M372.0 217.8h0.9M383.2 213.7h0.9M371.2 220.1h0.9M369.3 217.9h0.9M375.1 213.7h0.9M375.3 213.4h0.9M377.0 222.3h0.9M388.9 214.6h0.9M381.1 218.8h0.9M373.9 222.5h0.9M377.6 217.6h0.9M369.6 210.7h0.9M369.3 212.6h0.9M385.6 213.9h0.9M384.4 213.5h0.9M369.6 215.8h0.9M374.1 208.5h0.9M377.7 219.9h0.9M375.6 210.3h0.9M371.2 210.3h0.9M375.3 211.3h0.9M376.4 215.8h0.9M387.9 210.5h0.9M380.8 213.7h0.9M381.3 211.4h0.9M374.6 217.8h0.9M374.8 215.7h0.9M380.8 215.6h0.9M375.3 217.2h0.9M387.9 220.2h0.9M370.2 218.2h0.9M380.5 217.3h0.9M388.2 208.3h0.9M385.9 213.0h0.9M373.5 216.9h0.9M388.5 211.4h0.9M376.3 219.9h0.9M380.2 213.9h0.9M373.2 213.3h0.9M385.0 208.5h0.9M371.7 211.6h0.9M386.3 215.6h0.9M371.9 218.1h0.9M392.9 219.2h0.9M366.8 214.3h0.9M386.3 207.9h0.9M367.5 213.5h0.9M381.4 211.8h0.9M378.4 214.5h0.9M379.8 210.3h0.9M378.5 219.0h0.9M381.1 208.7h0.9M369.9 207.8h0.9M372.5 211.9h0.9M376.2 216.6h0.9M378.7 215.8h0.9M381.4 214.7h0.9M373.6 213.7h0.9M386.6 214.0h0.9M383.6 221.7h0.9M391.1 206.5h0.9M378.4 219.0h0.9M373.5 212.2h0.9M365.7 212.4h0.9M377.1 207.5h0.9M377.0 211.7h0.9M377.3 210.7h0.9M377.8 215.7h0.9M371.6 212.4h0.9M384.7 217.6h0.9M370.9 216.8h0.9M367.9 213.0h0.9M382.6 213.1h0.9M381.8 212.5h0.9M379.5 214.5h0.9M369.3 223.4h0.9M370.4 209.7h0.9M378.2 217.0h0.9M379.9 214.6h0.9M380.8 218.8h0.9M382.1 209.5h0.9M390.9 214.9h0.9M375.9 216.2h0.9M393.0 212.9h0.9M372.1 211.1h0.9M378.6 217.7h0.9M380.2 215.7h0.9M385.8 213.0h0.9M372.8 211.0h0.9M379.1 208.8h0.9M392.4 214.3h0.9M372.3 210.2h0.9M381.4 218.9h0.9M372.6 215.7h0.9M379.5 218.9h0.9M382.0 220.0h0.9M373.1 210.6h0.9M369.7 216.6h0.9M386.9 212.0h0.9M374.4 213.2h0.9M372.3 214.4h0.9" stroke="#3a30aa" stroke-width="0.9" opacity="0.85" fill="none"/>
<g clip-path="url(#cp0)">
<g filter="url(#bl9)">
<ellipse cx="377.50" cy="214.50" rx="13.50" ry="7.30" fill="#3a2a9c"/>
<ellipse cx="376.70" cy="214.57" rx="11.61" ry="6.28" fill="#2f55d2"/>
<ellipse cx="375.85" cy="214.65" rx="9.58" ry="5.18" fill="#22aee0"/>
<ellipse cx="374.88" cy="214.73" rx="7.29" ry="3.94" fill="#2fbf55"/>
<ellipse cx="373.91" cy="214.81" rx="5.00" ry="2.70" fill="#d8e42a"/>
<ellipse cx="373.23" cy="214.88" rx="3.38" ry="1.82" fill="#f08a1c"/>
<ellipse cx="372.54" cy="214.94" rx="1.76" ry="0.95" fill="#e2231c"/>
</g></g>
<rect x="361.20" y="160.60" width="49.00" height="43.20" fill="none" stroke="#8c8c8c" stroke-width="0.8"/>
<text x="407.00" y="166.00" font-size="6.5" class="n" text-anchor="end" fill="#3a3a3a">16%</text>
<rect x="424.80" y="159.40" width="72.10" height="67.60" fill="none" stroke="#b0b0b0" stroke-width="0.9"/>
<line x1="424.80" y1="159.40" x2="424.80" y2="227.00" stroke="#888" stroke-width="0.9"/>
<line x1="424.80" y1="227.00" x2="496.90" y2="227.00" stroke="#888" stroke-width="0.9"/>
<rect x="423.30" y="215.10" width="1.60" height="2.80" fill="#333"/>
<rect x="441.10" y="226.90" width="3.20" height="1.60" fill="#333"/>
<line x1="423.30" y1="163.40" x2="424.80" y2="163.40" stroke="#666" stroke-width="0.6"/>
<line x1="423.30" y1="171.10" x2="424.80" y2="171.10" stroke="#666" stroke-width="0.6"/>
<line x1="423.30" y1="178.80" x2="424.80" y2="178.80" stroke="#666" stroke-width="0.6"/>
<line x1="423.30" y1="186.50" x2="424.80" y2="186.50" stroke="#666" stroke-width="0.6"/>
<line x1="423.30" y1="194.20" x2="424.80" y2="194.20" stroke="#666" stroke-width="0.6"/>
<line x1="423.30" y1="201.90" x2="424.80" y2="201.90" stroke="#666" stroke-width="0.6"/>
<line x1="423.30" y1="209.60" x2="424.80" y2="209.60" stroke="#666" stroke-width="0.6"/>
<line x1="423.30" y1="217.30" x2="424.80" y2="217.30" stroke="#666" stroke-width="0.6"/>
<line x1="423.30" y1="225.00" x2="424.80" y2="225.00" stroke="#666" stroke-width="0.6"/>
<line x1="428.80" y1="227.00" x2="428.80" y2="228.50" stroke="#666" stroke-width="0.6"/>
<line x1="437.06" y1="227.00" x2="437.06" y2="228.50" stroke="#666" stroke-width="0.6"/>
<line x1="445.32" y1="227.00" x2="445.32" y2="228.50" stroke="#666" stroke-width="0.6"/>
<line x1="453.59" y1="227.00" x2="453.59" y2="228.50" stroke="#666" stroke-width="0.6"/>
<line x1="461.85" y1="227.00" x2="461.85" y2="228.50" stroke="#666" stroke-width="0.6"/>
<line x1="470.11" y1="227.00" x2="470.11" y2="228.50" stroke="#666" stroke-width="0.6"/>
<line x1="478.38" y1="227.00" x2="478.38" y2="228.50" stroke="#666" stroke-width="0.6"/>
<line x1="486.64" y1="227.00" x2="486.64" y2="228.50" stroke="#666" stroke-width="0.6"/>
<line x1="494.90" y1="227.00" x2="494.90" y2="228.50" stroke="#666" stroke-width="0.6"/>
<path d="M460.5 202.8h0.9M456.3 188.0h0.9M462.7 199.0h0.9M463.6 198.6h0.9M460.7 193.6h0.9M456.9 195.4h0.9M459.2 200.6h0.9M465.3 190.7h0.9M465.8 196.3h0.9M468.3 203.3h0.9M465.0 188.4h0.9M465.6 189.4h0.9M471.1 193.5h0.9M460.5 204.8h0.9M451.0 196.6h0.9M455.2 194.1h0.9M456.8 199.6h0.9M459.8 198.1h0.9M465.5 188.7h0.9M470.2 195.4h0.9M451.6 193.5h0.9M467.0 201.1h0.9M457.5 197.0h0.9M463.1 201.2h0.9M460.9 201.0h0.9M456.3 193.2h0.9M465.7 199.8h0.9M461.4 199.3h0.9M463.0 200.0h0.9M468.8 198.9h0.9M466.7 194.7h0.9M464.2 196.7h0.9M465.0 187.9h0.9M458.7 194.0h0.9M450.7 200.7h0.9M469.2 190.7h0.9M464.4 204.4h0.9M454.3 201.1h0.9M453.4 191.6h0.9M463.0 202.1h0.9M454.0 193.1h0.9M454.9 201.6h0.9M458.3 199.2h0.9M465.7 201.9h0.9M464.3 198.1h0.9M468.8 198.7h0.9M454.0 194.1h0.9M467.3 197.2h0.9M459.5 197.7h0.9M464.7 198.6h0.9M460.0 202.0h0.9M467.0 198.4h0.9M453.4 202.3h0.9M466.4 196.1h0.9M454.2 195.5h0.9M458.6 192.7h0.9M467.9 197.1h0.9M469.3 192.1h0.9M460.5 202.8h0.9M463.7 193.2h0.9M456.2 193.8h0.9M461.2 199.7h0.9M462.6 200.0h0.9M466.9 197.1h0.9M469.6 199.9h0.9M460.6 195.8h0.9M461.6 193.1h0.9M453.4 196.7h0.9M458.5 199.2h0.9M458.0 197.0h0.9M462.9 194.3h0.9M462.9 193.2h0.9M459.0 200.2h0.9M464.1 196.5h0.9M456.8 199.7h0.9M474.0 186.4h0.9M468.1 197.5h0.9M468.4 201.9h0.9M455.4 204.5h0.9M458.0 195.3h0.9M465.5 196.1h0.9M463.3 194.1h0.9M455.3 196.6h0.9M454.9 202.7h0.9M463.2 203.0h0.9M454.0 186.9h0.9M453.7 198.1h0.9M452.7 190.1h0.9M463.4 194.7h0.9M465.8 200.2h0.9M463.8 190.9h0.9M460.2 197.8h0.9M462.4 196.4h0.9M460.6 193.9h0.9M458.5 187.2h0.9M471.9 196.0h0.9M453.6 198.9h0.9M465.8 189.8h0.9M458.4 203.4h0.9M465.0 198.5h0.9M467.8 195.9h0.9M459.8 203.8h0.9M460.5 196.1h0.9M465.6 196.6h0.9M461.2 204.8h0.9M464.8 192.3h0.9M471.2 195.7h0.9M456.4 196.4h0.9M457.2 195.3h0.9M456.2 199.6h0.9M463.8 201.5h0.9M471.9 197.8h0.9M462.2 197.9h0.9M456.6 194.0h0.9M466.3 192.5h0.9M449.7 194.9h0.9M463.2 203.3h0.9M457.2 192.2h0.9M462.2 195.8h0.9M463.2 194.1h0.9M462.9 193.8h0.9M467.7 197.8h0.9M465.1 194.4h0.9M452.8 196.5h0.9M461.3 201.5h0.9M467.5 196.3h0.9M461.3 191.9h0.9M461.4 197.4h0.9M459.1 191.5h0.9M469.5 192.2h0.9M471.7 201.9h0.9M471.1 192.6h0.9" stroke="#6260c4" stroke-width="0.9" opacity="0.55" fill="none"/>
<path d="M472.8 217.2h0.9M452.0 206.1h0.9M462.2 216.4h0.9M461.8 208.0h0.9M459.0 219.0h0.9M452.0 217.5h0.9M467.2 215.3h0.9M469.1 211.4h0.9M462.1 220.3h0.9M459.9 211.9h0.9M451.8 211.7h0.9M468.9 218.2h0.9M468.2 215.9h0.9M467.7 214.8h0.9M471.1 213.0h0.9M471.6 213.3h0.9M450.3 208.7h0.9M461.5 211.8h0.9M453.4 210.6h0.9M464.5 215.0h0.9M469.8 210.3h0.9M466.0 217.4h0.9M465.8 220.2h0.9M459.3 213.5h0.9M464.4 212.0h0.9M462.6 214.4h0.9M462.8 211.6h0.9M459.5 213.2h0.9M450.9 214.2h0.9M454.4 212.6h0.9M454.5 213.9h0.9M460.1 212.5h0.9M457.2 213.9h0.9M475.6 206.8h0.9M467.1 214.4h0.9M460.0 208.8h0.9M475.4 214.2h0.9M470.9 212.1h0.9M457.0 217.5h0.9M468.8 212.4h0.9M461.3 215.8h0.9M456.8 210.4h0.9M462.7 217.3h0.9M469.8 214.2h0.9M473.6 213.0h0.9M459.2 222.2h0.9M459.2 215.7h0.9M467.4 214.0h0.9M464.8 216.1h0.9M467.4 211.4h0.9M463.1 218.7h0.9M468.8 211.9h0.9M463.6 209.9h0.9M453.0 211.6h0.9M475.6 211.2h0.9M457.7 216.3h0.9M472.7 212.3h0.9M464.0 210.2h0.9M472.5 210.8h0.9M463.3 222.3h0.9M455.9 214.2h0.9M462.7 215.3h0.9M466.7 219.1h0.9M466.9 215.8h0.9M453.5 215.0h0.9M452.7 218.0h0.9M462.7 217.1h0.9M459.3 214.4h0.9M463.8 215.6h0.9M462.3 211.4h0.9M460.2 211.2h0.9M455.9 209.1h0.9M451.7 220.5h0.9M457.4 209.5h0.9M470.8 214.6h0.9M462.1 217.8h0.9M477.6 210.4h0.9M474.2 215.7h0.9M472.2 211.6h0.9M476.2 217.9h0.9M473.6 208.4h0.9M465.7 212.9h0.9M464.9 210.4h0.9M468.2 216.3h0.9M462.3 213.3h0.9M453.2 213.6h0.9M463.1 219.2h0.9M462.8 213.4h0.9M468.9 213.4h0.9M475.8 209.1h0.9M456.0 216.0h0.9M452.4 220.8h0.9M467.3 213.9h0.9M477.0 211.6h0.9M470.8 215.2h0.9M450.4 210.4h0.9M452.3 216.2h0.9M471.2 212.7h0.9M463.6 214.4h0.9M468.9 210.2h0.9M455.6 216.5h0.9M467.1 215.3h0.9M463.5 216.4h0.9M466.8 211.3h0.9M476.5 217.6h0.9M461.2 213.2h0.9M457.5 208.3h0.9M454.9 208.2h0.9M457.9 214.7h0.9M462.6 208.2h0.9M461.5 211.2h0.9M454.5 217.7h0.9M454.9 216.9h0.9M457.6 217.1h0.9M466.3 210.6h0.9M468.1 218.3h0.9M473.6 219.1h0.9M460.3 221.6h0.9M458.5 213.0h0.9M451.0 212.7h0.9M451.7 214.0h0.9M469.5 219.5h0.9M472.4 214.2h0.9M466.9 214.3h0.9M460.0 217.1h0.9M452.2 214.3h0.9M458.6 216.4h0.9M469.2 209.6h0.9M454.1 219.1h0.9M471.5 213.5h0.9M469.8 213.8h0.9M466.9 212.1h0.9M467.5 219.9h0.9M474.7 218.4h0.9M464.2 217.2h0.9M459.8 212.5h0.9M464.3 209.5h0.9M464.7 207.1h0.9M476.2 216.8h0.9M465.6 210.9h0.9M458.4 212.1h0.9M450.0 212.0h0.9M455.9 216.8h0.9M473.8 219.1h0.9M452.4 208.4h0.9M474.6 216.6h0.9M471.6 216.1h0.9M465.1 221.6h0.9M470.1 216.2h0.9M455.2 214.2h0.9M473.9 215.7h0.9M470.5 212.9h0.9M468.9 211.4h0.9M461.7 217.6h0.9M476.7 212.4h0.9M461.5 212.7h0.9M461.7 213.7h0.9M470.2 214.9h0.9M463.1 215.3h0.9M478.9 209.7h0.9M458.5 214.6h0.9M471.2 212.6h0.9M454.8 219.4h0.9M474.0 221.0h0.9M451.1 212.0h0.9M461.1 216.2h0.9M461.6 215.7h0.9M466.9 213.0h0.9M463.5 218.9h0.9M464.6 216.0h0.9M462.9 216.3h0.9M476.1 213.9h0.9M459.3 210.7h0.9M471.3 210.6h0.9M464.9 220.4h0.9M463.2 213.2h0.9M467.8 210.2h0.9M457.3 214.3h0.9M478.9 215.9h0.9M450.9 215.2h0.9M461.6 215.3h0.9M461.8 212.8h0.9M470.0 212.9h0.9M457.1 214.9h0.9M458.6 217.7h0.9M463.4 212.9h0.9M459.7 215.9h0.9M471.3 212.4h0.9M457.0 215.9h0.9M458.3 215.2h0.9M461.1 210.5h0.9M452.6 213.2h0.9M464.4 207.3h0.9M461.0 209.4h0.9M452.9 219.3h0.9M457.2 215.9h0.9M475.9 214.2h0.9M460.7 217.8h0.9M460.7 206.4h0.9M474.1 211.6h0.9M465.0 222.2h0.9M470.8 214.8h0.9M476.8 210.2h0.9M464.0 214.5h0.9M457.7 221.9h0.9M469.9 214.3h0.9M457.6 213.4h0.9M465.6 212.2h0.9M468.7 213.7h0.9M457.7 217.7h0.9M466.7 208.5h0.9M463.7 212.9h0.9M461.4 213.3h0.9M464.1 212.8h0.9M470.0 215.8h0.9M462.0 213.1h0.9M460.6 212.1h0.9M462.0 214.5h0.9M460.8 206.4h0.9M463.9 210.2h0.9M456.8 207.5h0.9M456.6 213.5h0.9M460.7 213.7h0.9M459.7 210.5h0.9M469.0 219.6h0.9M456.1 213.0h0.9M479.7 209.3h0.9M454.0 215.7h0.9M470.5 213.5h0.9M472.5 213.1h0.9M464.9 213.5h0.9M465.8 213.6h0.9M474.9 216.4h0.9M476.5 213.0h0.9M456.8 211.2h0.9M459.9 214.9h0.9M459.7 214.7h0.9M466.6 209.1h0.9M451.8 218.7h0.9M458.0 220.8h0.9M460.7 208.3h0.9M453.6 210.5h0.9M463.6 222.2h0.9M471.5 209.9h0.9M475.9 218.6h0.9M457.8 215.9h0.9M466.3 213.0h0.9M459.5 211.3h0.9M466.8 211.6h0.9M470.3 216.2h0.9M450.1 215.2h0.9M461.7 216.6h0.9M460.3 218.1h0.9M469.9 217.1h0.9M468.2 208.3h0.9M462.7 217.8h0.9M470.5 215.9h0.9M463.0 213.4h0.9M452.1 206.7h0.9M461.7 216.8h0.9M461.0 211.5h0.9M461.7 218.7h0.9M458.2 213.2h0.9M466.0 217.7h0.9M466.6 211.6h0.9M459.1 209.2h0.9M461.6 217.4h0.9M464.6 211.9h0.9" stroke="#3a30aa" stroke-width="0.9" opacity="0.85" fill="none"/>
<g clip-path="url(#cp1)">
<g filter="url(#bl9)">
<ellipse cx="462.00" cy="213.30" rx="12.50" ry="7.20" fill="#3a2a9c"/>
<ellipse cx="461.33" cy="213.51" rx="10.50" ry="6.05" fill="#2f55d2"/>
<ellipse cx="460.66" cy="213.72" rx="8.50" ry="4.90" fill="#22aee0"/>
<ellipse cx="460.03" cy="213.91" rx="6.62" ry="3.82" fill="#2fbf55"/>
<ellipse cx="459.48" cy="214.08" rx="5.00" ry="2.88" fill="#d8e42a"/>
<ellipse cx="458.93" cy="214.25" rx="3.38" ry="1.94" fill="#f08a1c"/>
<ellipse cx="458.43" cy="214.41" rx="1.88" ry="1.08" fill="#e2231c"/>
</g></g>
<rect x="447.50" y="161.30" width="48.10" height="42.70" fill="none" stroke="#8c8c8c" stroke-width="0.8"/>
<text x="492.70" y="167.50" font-size="6.5" class="n" text-anchor="end" fill="#3a3a3a">3%</text>
<polyline points="327.50,208.50 327.50,238.50 357.50,238.50" fill="none" stroke="#000" stroke-width="1.4"/>
<polygon points="327.50,199.00 322.30,211.50 327.50,209.00 332.70,211.50" fill="#000"/>
<polygon points="367.00,238.50 354.50,233.30 357.00,238.50 354.50,243.70" fill="#000"/>
<text x="329.70" y="191.00" font-size="11.6" class="c2" textLength="14.6" lengthAdjust="spacingAndGlyphs" transform="rotate(-90 329.70 191.00)">GFP</text>
<text x="375.60" y="242.60" font-size="11.5" class="c2" textLength="25" lengthAdjust="spacingAndGlyphs">CD45.2</text>
<text x="9.30" y="294.50" font-size="15" font-weight="bold" fill="#000">F</text>
<line x1="44.50" y1="305.00" x2="44.50" y2="416.30" stroke="#231f20" stroke-width="1.4"/>
<line x1="40.50" y1="416.30" x2="44.50" y2="416.30" stroke="#231f20" stroke-width="1.4"/>
<text x="37.10" y="419.70" font-size="9.2" text-anchor="end" textLength="5.75" lengthAdjust="spacingAndGlyphs">0</text>
<line x1="40.50" y1="389.16" x2="44.50" y2="389.16" stroke="#231f20" stroke-width="1.4"/>
<text x="37.10" y="392.56" font-size="9.2" text-anchor="end" textLength="11.5" lengthAdjust="spacingAndGlyphs">20</text>
<line x1="40.50" y1="362.02" x2="44.50" y2="362.02" stroke="#231f20" stroke-width="1.4"/>
<text x="37.10" y="365.42" font-size="9.2" text-anchor="end" textLength="11.5" lengthAdjust="spacingAndGlyphs">40</text>
<line x1="40.50" y1="334.88" x2="44.50" y2="334.88" stroke="#231f20" stroke-width="1.4"/>
<text x="37.10" y="338.28" font-size="9.2" text-anchor="end" textLength="11.5" lengthAdjust="spacingAndGlyphs">60</text>
<line x1="40.50" y1="307.74" x2="44.50" y2="307.74" stroke="#231f20" stroke-width="1.4"/>
<text x="37.10" y="311.14" font-size="9.2" text-anchor="end" textLength="11.5" lengthAdjust="spacingAndGlyphs">80</text>
<rect x="52.20" y="389.57" width="15.00" height="26.73" fill="#d3d6da"/>
<rect x="75.50" y="367.04" width="14.10" height="49.26" fill="#8fd2ef"/>
<rect x="112.80" y="381.02" width="14.80" height="35.28" fill="#d3d6da"/>
<rect x="135.60" y="348.86" width="14.80" height="67.44" fill="#8fd2ef"/>
<line x1="41.00" y1="416.30" x2="151.20" y2="416.30" stroke="#231f20" stroke-width="1.3"/>
<line x1="71.20" y1="416.30" x2="71.20" y2="419.60" stroke="#231f20" stroke-width="1"/>
<line x1="131.60" y1="416.30" x2="131.60" y2="419.60" stroke="#231f20" stroke-width="1"/>
<line x1="59.80" y1="377.60" x2="59.80" y2="401.80" stroke="#3c4350" stroke-width="1.1"/>
<line x1="56.10" y1="377.60" x2="63.50" y2="377.60" stroke="#3c4350" stroke-width="1.1"/>
<line x1="56.10" y1="401.80" x2="63.50" y2="401.80" stroke="#3c4350" stroke-width="1.1"/>
<line x1="82.00" y1="347.90" x2="82.00" y2="386.80" stroke="#1e9cd8" stroke-width="1.1"/>
<line x1="78.30" y1="347.90" x2="85.70" y2="347.90" stroke="#1e9cd8" stroke-width="1.1"/>
<line x1="78.30" y1="386.80" x2="85.70" y2="386.80" stroke="#1e9cd8" stroke-width="1.1"/>
<line x1="120.20" y1="376.00" x2="120.20" y2="385.80" stroke="#3c4350" stroke-width="1.1"/>
<line x1="116.70" y1="376.00" x2="123.70" y2="376.00" stroke="#3c4350" stroke-width="1.1"/>
<line x1="116.70" y1="385.80" x2="123.70" y2="385.80" stroke="#3c4350" stroke-width="1.1"/>
<line x1="142.40" y1="333.00" x2="142.40" y2="364.80" stroke="#1e9cd8" stroke-width="1.1"/>
<line x1="138.90" y1="333.00" x2="145.90" y2="333.00" stroke="#1e9cd8" stroke-width="1.1"/>
<line x1="138.90" y1="364.80" x2="145.90" y2="364.80" stroke="#1e9cd8" stroke-width="1.1"/>
<circle cx="59.80" cy="370.70" r="2.2" fill="#3c4350"/>
<circle cx="59.80" cy="385.20" r="2.2" fill="#3c4350"/>
<circle cx="59.80" cy="393.00" r="2.2" fill="#3c4350"/>
<circle cx="65.30" cy="398.10" r="2.2" fill="#3c4350"/>
<circle cx="54.50" cy="401.30" r="2.2" fill="#3c4350"/>
<circle cx="82.00" cy="340.80" r="2.2" fill="#1e9cd8"/>
<circle cx="82.00" cy="354.20" r="2.2" fill="#1e9cd8"/>
<circle cx="82.00" cy="371.00" r="2.2" fill="#1e9cd8"/>
<circle cx="82.00" cy="381.50" r="2.2" fill="#1e9cd8"/>
<circle cx="82.00" cy="386.80" r="2.2" fill="#1e9cd8"/>
<circle cx="120.00" cy="373.00" r="2.2" fill="#3c4350"/>
<circle cx="114.50" cy="380.80" r="2.2" fill="#3c4350"/>
<circle cx="125.40" cy="378.10" r="2.2" fill="#3c4350"/>
<circle cx="120.00" cy="382.20" r="2.2" fill="#3c4350"/>
<circle cx="125.40" cy="384.40" r="2.2" fill="#3c4350"/>
<circle cx="114.50" cy="386.90" r="2.2" fill="#3c4350"/>
<circle cx="137.40" cy="330.30" r="2.2" fill="#1e9cd8"/>
<circle cx="148.00" cy="334.50" r="2.2" fill="#1e9cd8"/>
<circle cx="137.40" cy="353.90" r="2.2" fill="#1e9cd8"/>
<circle cx="148.00" cy="356.00" r="2.2" fill="#1e9cd8"/>
<circle cx="142.40" cy="368.70" r="2.2" fill="#1e9cd8"/>
<polyline points="59.70,324.00 59.70,318.40 82.50,318.40 82.50,324.00" fill="none" stroke="#555" stroke-width="1"/>
<polyline points="119.90,324.00 119.90,317.80 142.90,317.80 142.90,324.00" fill="none" stroke="#555" stroke-width="1"/>
<text x="50.10" y="312.00" font-size="9.3" textLength="41.9" lengthAdjust="spacingAndGlyphs">0.027799</text>
<text x="109.90" y="311.40" font-size="9.3" textLength="42.1" lengthAdjust="spacingAndGlyphs">0.001114</text>
<text x="52.00" y="433.40" font-size="9.6" textLength="38.8" lengthAdjust="spacingAndGlyphs">2 months</text>
<text x="114.30" y="433.40" font-size="9.6" textLength="33.5" lengthAdjust="spacingAndGlyphs">5 month</text>
<text x="18.00" y="396.30" font-size="9.7" class="c" textLength="72.6" lengthAdjust="spacingAndGlyphs" transform="rotate(-90 18.00 396.30)">% of apoptotic cells</text>
<circle cx="164.90" cy="309.60" r="3.3" fill="#3c4350"/>
<circle cx="164.90" cy="323.80" r="3.3" fill="#8fd2ef"/>
<text x="172.80" y="312.40" font-size="9.5" textLength="27.7" lengthAdjust="spacingAndGlyphs">EV ctrl</text>
<text x="172.80" y="326.80" font-size="9.5" textLength="44.6" lengthAdjust="spacingAndGlyphs">GBP2 OE</text>
<text x="237.20" y="295.40" font-size="15" font-weight="bold" fill="#000">G</text>
<text x="254.00" y="326.20" font-size="9.7" textLength="28" lengthAdjust="spacingAndGlyphs">EV ctrl</text>
<text x="340.00" y="324.20" font-size="9.7" textLength="48.8" lengthAdjust="spacingAndGlyphs">GBP2 O.E.</text>
<rect x="254.20" y="332.90" width="70.80" height="67.90" fill="none" stroke="#b0b0b0" stroke-width="0.9"/>
<line x1="254.20" y1="332.90" x2="254.20" y2="400.80" stroke="#888" stroke-width="0.9"/>
<line x1="254.20" y1="400.80" x2="325.00" y2="400.80" stroke="#888" stroke-width="0.9"/>
<rect x="252.70" y="386.30" width="1.60" height="2.80" fill="#333"/>
<rect x="270.90" y="400.70" width="3.20" height="1.60" fill="#333"/>
<line x1="252.70" y1="336.90" x2="254.20" y2="336.90" stroke="#666" stroke-width="0.6"/>
<line x1="252.70" y1="344.64" x2="254.20" y2="344.64" stroke="#666" stroke-width="0.6"/>
<line x1="252.70" y1="352.38" x2="254.20" y2="352.38" stroke="#666" stroke-width="0.6"/>
<line x1="252.70" y1="360.11" x2="254.20" y2="360.11" stroke="#666" stroke-width="0.6"/>
<line x1="252.70" y1="367.85" x2="254.20" y2="367.85" stroke="#666" stroke-width="0.6"/>
<line x1="252.70" y1="375.59" x2="254.20" y2="375.59" stroke="#666" stroke-width="0.6"/>
<line x1="252.70" y1="383.32" x2="254.20" y2="383.32" stroke="#666" stroke-width="0.6"/>
<line x1="252.70" y1="391.06" x2="254.20" y2="391.06" stroke="#666" stroke-width="0.6"/>
<line x1="252.70" y1="398.80" x2="254.20" y2="398.80" stroke="#666" stroke-width="0.6"/>
<line x1="258.20" y1="400.80" x2="258.20" y2="402.30" stroke="#666" stroke-width="0.6"/>
<line x1="266.30" y1="400.80" x2="266.30" y2="402.30" stroke="#666" stroke-width="0.6"/>
<line x1="274.40" y1="400.80" x2="274.40" y2="402.30" stroke="#666" stroke-width="0.6"/>
<line x1="282.50" y1="400.80" x2="282.50" y2="402.30" stroke="#666" stroke-width="0.6"/>
<line x1="290.60" y1="400.80" x2="290.60" y2="402.30" stroke="#666" stroke-width="0.6"/>
<line x1="298.70" y1="400.80" x2="298.70" y2="402.30" stroke="#666" stroke-width="0.6"/>
<line x1="306.80" y1="400.80" x2="306.80" y2="402.30" stroke="#666" stroke-width="0.6"/>
<line x1="314.90" y1="400.80" x2="314.90" y2="402.30" stroke="#666" stroke-width="0.6"/>
<line x1="323.00" y1="400.80" x2="323.00" y2="402.30" stroke="#666" stroke-width="0.6"/>
<path d="M301.9 372.1h0.9M288.5 373.5h0.9M298.8 373.8h0.9M297.9 369.8h0.9M289.1 374.5h0.9M302.7 369.9h0.9M292.3 373.1h0.9M296.3 371.0h0.9M295.4 372.8h0.9M308.2 367.9h0.9M302.4 368.5h0.9M302.1 370.3h0.9M291.0 373.9h0.9M302.2 369.6h0.9M304.0 371.6h0.9M308.8 370.2h0.9M285.4 376.3h0.9M290.3 375.5h0.9M296.0 372.5h0.9M298.7 370.4h0.9M295.7 371.3h0.9M311.5 366.2h0.9M294.6 370.1h0.9M283.3 375.4h0.9M301.9 371.3h0.9M297.2 370.9h0.9M309.4 366.1h0.9M288.8 375.4h0.9M287.6 375.5h0.9M302.9 369.7h0.9M298.5 371.4h0.9M288.6 370.2h0.9M285.7 375.8h0.9M282.1 376.2h0.9M297.5 373.6h0.9M284.3 375.5h0.9M297.3 372.5h0.9M285.2 378.6h0.9M289.3 376.1h0.9M293.9 373.5h0.9M308.8 368.8h0.9M295.9 370.8h0.9M289.5 372.4h0.9M310.6 364.9h0.9M305.3 368.5h0.9M301.6 369.1h0.9M290.9 374.7h0.9M298.2 370.8h0.9M308.5 369.0h0.9M295.9 370.5h0.9M296.2 371.7h0.9M295.0 373.7h0.9M290.8 374.4h0.9M301.8 370.7h0.9M312.8 363.9h0.9M294.2 371.1h0.9M295.9 375.9h0.9M282.1 376.6h0.9M300.5 370.8h0.9M301.8 367.9h0.9M302.6 368.5h0.9M285.8 376.5h0.9M298.7 370.2h0.9M288.6 374.4h0.9M295.1 372.3h0.9M286.1 372.2h0.9M305.8 369.1h0.9M284.6 373.8h0.9M289.5 373.8h0.9M298.4 370.9h0.9M298.1 371.8h0.9M303.7 369.8h0.9M305.9 371.0h0.9M292.5 372.7h0.9M288.0 374.6h0.9M289.4 374.5h0.9M297.8 372.3h0.9M286.4 377.1h0.9M292.6 373.2h0.9M290.1 371.3h0.9M296.4 369.4h0.9M304.0 369.5h0.9M307.9 369.0h0.9M301.4 372.4h0.9M295.5 374.6h0.9M294.2 373.2h0.9M290.0 375.1h0.9M300.2 370.0h0.9M284.8 376.0h0.9M298.4 371.1h0.9M287.0 374.2h0.9M291.8 369.8h0.9M291.1 376.0h0.9M284.7 375.7h0.9M308.9 368.8h0.9M302.4 369.8h0.9M285.8 379.9h0.9M297.6 372.0h0.9M308.6 369.0h0.9M295.0 370.9h0.9M293.8 372.7h0.9M289.3 373.2h0.9M287.0 375.1h0.9M290.5 374.7h0.9M303.3 370.1h0.9M295.9 374.5h0.9M299.6 368.7h0.9M289.4 374.7h0.9M288.4 375.9h0.9M280.2 374.8h0.9M303.2 370.6h0.9M282.3 377.0h0.9M305.3 367.3h0.9M285.0 374.2h0.9M286.4 372.9h0.9M290.5 371.9h0.9M296.5 375.3h0.9M287.0 376.6h0.9M303.3 366.2h0.9M295.9 372.2h0.9M292.7 374.5h0.9M291.7 374.2h0.9M291.8 373.4h0.9M289.8 377.7h0.9M294.1 371.2h0.9M311.3 369.2h0.9M293.1 372.2h0.9M289.7 376.2h0.9" stroke="#3d3aa8" stroke-width="0.9" opacity="0.6" fill="none"/>
<path d="M292.0 376.1h0.9M304.1 363.0h0.9M308.0 359.7h0.9M302.9 368.9h0.9M294.0 371.5h0.9M311.4 366.2h0.9M305.0 360.8h0.9M303.1 360.5h0.9M303.4 363.3h0.9M297.9 371.0h0.9M299.3 365.8h0.9M294.7 367.0h0.9M304.4 367.1h0.9M299.4 367.4h0.9M293.2 367.8h0.9M314.5 366.5h0.9M306.6 364.7h0.9M303.3 363.0h0.9M294.3 371.3h0.9M294.6 370.7h0.9M293.4 369.3h0.9M315.6 363.0h0.9M301.9 367.2h0.9M291.9 373.9h0.9M295.3 365.7h0.9M297.0 368.4h0.9M296.1 366.0h0.9M305.9 365.2h0.9M312.5 364.9h0.9M309.7 358.6h0.9M303.5 367.5h0.9M308.4 362.3h0.9M308.3 367.7h0.9" stroke="#9a9ad4" stroke-width="0.9" opacity="0.35" fill="none"/>
<path d="M297.3 388.3h0.9M294.0 389.1h0.9M286.7 387.6h0.9M297.6 387.9h0.9M300.5 388.2h0.9M273.3 386.8h0.9M283.0 386.0h0.9M291.2 388.1h0.9M301.8 387.4h0.9M289.6 389.2h0.9M299.8 387.2h0.9M308.0 387.7h0.9M304.5 388.1h0.9M287.6 386.9h0.9M290.7 391.5h0.9M285.3 390.4h0.9M305.9 388.0h0.9M303.7 390.2h0.9M288.8 387.8h0.9M303.7 388.9h0.9M279.9 388.4h0.9M279.6 389.5h0.9M299.4 388.0h0.9M282.7 389.6h0.9M288.1 390.0h0.9M281.7 388.2h0.9M286.3 387.2h0.9M285.4 389.5h0.9M273.1 390.1h0.9M303.4 388.1h0.9M288.3 388.8h0.9M296.9 388.1h0.9M283.1 388.2h0.9M287.6 389.5h0.9M293.0 388.8h0.9M274.6 388.0h0.9M288.0 387.9h0.9M290.9 388.1h0.9M276.1 389.7h0.9M301.8 387.9h0.9M298.7 387.3h0.9M278.9 388.3h0.9M308.5 388.4h0.9M276.1 388.8h0.9M286.2 387.6h0.9M295.9 386.3h0.9M273.4 386.7h0.9M303.7 388.7h0.9M285.9 387.7h0.9M299.3 390.1h0.9M284.7 388.9h0.9M289.0 389.0h0.9M293.6 389.4h0.9M296.2 387.9h0.9M291.3 389.0h0.9M285.3 388.7h0.9M282.9 390.1h0.9M308.9 387.5h0.9M301.5 388.8h0.9M293.5 388.2h0.9M295.4 389.8h0.9M279.7 389.8h0.9M289.8 387.2h0.9M292.0 389.4h0.9M291.6 388.9h0.9M289.0 387.9h0.9M303.1 387.4h0.9M303.0 389.0h0.9M289.7 388.3h0.9M289.5 388.5h0.9M292.1 388.4h0.9M272.3 385.9h0.9M296.1 387.8h0.9M286.6 388.4h0.9M281.1 390.5h0.9M292.6 388.4h0.9M281.6 389.7h0.9M300.1 390.4h0.9M301.9 387.6h0.9M279.4 390.3h0.9M285.6 388.4h0.9M291.0 389.2h0.9M298.3 387.3h0.9M285.9 386.4h0.9M298.4 388.4h0.9M275.1 389.9h0.9M292.7 387.3h0.9M288.3 387.8h0.9M293.7 388.8h0.9M286.7 389.1h0.9M299.3 389.8h0.9M300.9 387.3h0.9M275.2 388.2h0.9M285.0 386.5h0.9M294.1 388.0h0.9M297.7 388.8h0.9M268.4 388.4h0.9M300.7 387.8h0.9M280.2 387.1h0.9M278.9 391.3h0.9M307.0 387.8h0.9M306.6 387.2h0.9M286.9 387.6h0.9M290.6 389.4h0.9M291.3 388.8h0.9M290.1 389.0h0.9M283.5 388.9h0.9M297.1 389.7h0.9M284.0 389.1h0.9M295.3 387.6h0.9M272.2 387.9h0.9M301.4 388.2h0.9M285.0 388.4h0.9M297.1 389.1h0.9M290.0 389.1h0.9M294.1 388.0h0.9M274.2 388.8h0.9M288.2 388.5h0.9M286.8 389.5h0.9M303.4 387.7h0.9M278.4 388.9h0.9M306.5 389.0h0.9M297.3 386.8h0.9M286.7 389.3h0.9M296.1 388.5h0.9M298.2 389.6h0.9M293.2 387.7h0.9M278.0 388.8h0.9M290.6 388.3h0.9M303.6 387.7h0.9M289.6 389.3h0.9M283.3 385.9h0.9M286.7 389.5h0.9M286.2 388.2h0.9M273.5 390.0h0.9M274.5 387.7h0.9M290.5 390.9h0.9M293.5 387.7h0.9M277.1 388.2h0.9M279.8 387.8h0.9M292.8 390.0h0.9M281.1 390.2h0.9M272.6 390.9h0.9M285.7 388.1h0.9M287.5 388.8h0.9M291.7 388.1h0.9M285.2 387.9h0.9M292.9 387.9h0.9M285.3 386.8h0.9M292.6 389.1h0.9M281.9 389.7h0.9M291.9 388.7h0.9M275.0 389.3h0.9M305.0 390.9h0.9M286.1 388.5h0.9M299.8 389.2h0.9M285.9 388.6h0.9M302.2 389.2h0.9M291.7 389.8h0.9M277.3 389.1h0.9M285.6 388.1h0.9M300.5 390.6h0.9M296.9 388.7h0.9M308.9 389.5h0.9M270.1 387.8h0.9M285.7 387.7h0.9M277.3 389.3h0.9M294.1 390.6h0.9M289.5 388.7h0.9M284.9 389.8h0.9M305.1 390.6h0.9M302.7 387.9h0.9M304.6 387.5h0.9M286.3 388.3h0.9M282.6 388.9h0.9M304.4 389.2h0.9M298.1 387.6h0.9M288.7 390.1h0.9M293.6 387.8h0.9M289.1 390.2h0.9M309.8 389.1h0.9M284.4 390.6h0.9M286.2 388.7h0.9M296.9 388.6h0.9M290.9 390.5h0.9M295.9 386.9h0.9M286.8 390.2h0.9M291.0 387.4h0.9M301.8 389.2h0.9M293.1 389.3h0.9M289.0 388.8h0.9M298.5 387.9h0.9M305.1 387.3h0.9M296.5 387.1h0.9M300.5 387.6h0.9M297.6 388.6h0.9M284.7 390.7h0.9M294.4 388.0h0.9M289.1 389.0h0.9M293.3 389.6h0.9M287.1 388.9h0.9M287.9 387.8h0.9M300.8 387.6h0.9M276.6 389.4h0.9M287.7 389.3h0.9M298.0 389.2h0.9M293.6 390.4h0.9M282.4 390.0h0.9M291.4 389.0h0.9M288.6 389.6h0.9M297.6 388.1h0.9M293.4 389.2h0.9M291.5 391.5h0.9M298.5 388.1h0.9M303.0 388.9h0.9M287.8 388.2h0.9M277.1 389.5h0.9M307.9 388.5h0.9M285.0 386.6h0.9M280.9 388.6h0.9M286.6 388.4h0.9M284.6 388.4h0.9M290.7 388.8h0.9M293.8 388.8h0.9M284.9 388.3h0.9M280.9 388.0h0.9M292.6 389.1h0.9M279.6 387.5h0.9M287.6 387.2h0.9M290.0 388.4h0.9M285.8 390.5h0.9M288.6 388.9h0.9M275.3 389.6h0.9M296.0 388.8h0.9M271.7 388.5h0.9M286.2 389.1h0.9M292.5 388.0h0.9M288.2 390.1h0.9M303.6 386.6h0.9M288.4 389.3h0.9M288.7 389.0h0.9M289.6 390.5h0.9M299.9 388.4h0.9M306.7 389.4h0.9M309.4 388.0h0.9M277.9 389.5h0.9M293.1 386.5h0.9M293.4 387.6h0.9M288.1 388.7h0.9M279.0 390.1h0.9M279.9 388.6h0.9M292.8 388.0h0.9M285.0 389.6h0.9M276.8 388.6h0.9M308.6 387.7h0.9M277.4 388.0h0.9M281.0 387.6h0.9M283.7 389.3h0.9M292.8 387.3h0.9M305.3 387.4h0.9M307.0 388.0h0.9M283.3 388.0h0.9M306.6 388.7h0.9M292.1 386.6h0.9M292.2 388.2h0.9M288.7 387.6h0.9M276.6 390.1h0.9M282.7 389.3h0.9M298.0 388.7h0.9M293.7 389.3h0.9M288.9 388.4h0.9M295.6 388.8h0.9M289.3 385.3h0.9M292.0 387.1h0.9M303.9 390.0h0.9M294.7 388.8h0.9M272.1 388.3h0.9M284.6 390.7h0.9M279.1 391.2h0.9M290.6 386.1h0.9M310.3 388.3h0.9M296.0 389.9h0.9M276.6 388.0h0.9M293.7 390.1h0.9M290.6 389.2h0.9M274.9 389.2h0.9M283.2 388.1h0.9M293.4 389.6h0.9M285.6 389.1h0.9M289.3 389.3h0.9M287.9 390.2h0.9M282.1 387.3h0.9M305.1 387.7h0.9M299.0 389.4h0.9M275.6 388.2h0.9M287.7 388.4h0.9M277.6 388.8h0.9M294.4 387.2h0.9M292.6 388.8h0.9M275.4 388.5h0.9M301.4 389.4h0.9M281.5 387.6h0.9M292.5 389.0h0.9M300.5 388.6h0.9M300.3 387.7h0.9M310.6 388.3h0.9M282.7 387.9h0.9M274.3 387.6h0.9M289.1 389.1h0.9M303.4 387.5h0.9M284.7 389.3h0.9M302.4 389.4h0.9M294.6 387.1h0.9M286.7 386.6h0.9M285.1 390.0h0.9M307.6 388.2h0.9M298.0 390.1h0.9M281.4 386.9h0.9M285.4 386.0h0.9M298.8 388.4h0.9M289.0 388.5h0.9M296.7 388.5h0.9M279.6 389.2h0.9M286.5 388.8h0.9M284.9 388.5h0.9M276.2 388.6h0.9M288.7 389.7h0.9M283.7 387.4h0.9M298.6 386.1h0.9M297.9 388.4h0.9M287.0 388.6h0.9M288.8 387.4h0.9M298.7 387.4h0.9M292.7 388.2h0.9M284.2 387.7h0.9M294.3 388.0h0.9M304.9 389.5h0.9" stroke="#3430a8" stroke-width="0.9" opacity="0.8" fill="none"/>
<g clip-path="url(#cp2)">
<g filter="url(#bl7)">
<ellipse cx="289.00" cy="388.50" rx="22.00" ry="2.60" fill="#3a3cb8"/>
<ellipse cx="283.30" cy="388.50" rx="13.64" ry="1.61" fill="#2a8fd4"/>
<ellipse cx="280.00" cy="388.50" rx="8.80" ry="1.04" fill="#3cc0b0"/>
</g></g>
<g clip-path="url(#cp2)">
<g filter="url(#bl6)">
<ellipse cx="276.00" cy="388.50" rx="8.00" ry="2.20" fill="#38c0a0"/>
<ellipse cx="275.25" cy="388.50" rx="5.60" ry="1.54" fill="#9cd43a"/>
<ellipse cx="274.62" cy="388.50" rx="3.60" ry="0.99" fill="#e4e030"/>
</g></g>
<line x1="279.60" y1="332.90" x2="279.60" y2="400.80" stroke="#333" stroke-width="0.8"/>
<line x1="254.20" y1="383.50" x2="325.00" y2="383.50" stroke="#333" stroke-width="0.8"/>
<text x="322.00" y="341.20" font-size="6.6" class="n" text-anchor="end" fill="#3a3a3a">8%</text>
<text x="256.50" y="398.80" font-size="6.6" class="n" fill="#3a3a3a">63%</text>
<text x="320.60" y="398.80" font-size="6.6" class="n" text-anchor="end" fill="#3a3a3a">28.5</text>
<rect x="339.00" y="330.40" width="72.70" height="69.60" fill="none" stroke="#b0b0b0" stroke-width="0.9"/>
<line x1="339.00" y1="330.40" x2="339.00" y2="400.00" stroke="#888" stroke-width="0.9"/>
<line x1="339.00" y1="400.00" x2="411.70" y2="400.00" stroke="#888" stroke-width="0.9"/>
<rect x="337.50" y="384.60" width="1.60" height="2.80" fill="#333"/>
<rect x="356.10" y="399.90" width="3.20" height="1.60" fill="#333"/>
<line x1="337.50" y1="334.40" x2="339.00" y2="334.40" stroke="#666" stroke-width="0.6"/>
<line x1="337.50" y1="342.35" x2="339.00" y2="342.35" stroke="#666" stroke-width="0.6"/>
<line x1="337.50" y1="350.30" x2="339.00" y2="350.30" stroke="#666" stroke-width="0.6"/>
<line x1="337.50" y1="358.25" x2="339.00" y2="358.25" stroke="#666" stroke-width="0.6"/>
<line x1="337.50" y1="366.20" x2="339.00" y2="366.20" stroke="#666" stroke-width="0.6"/>
<line x1="337.50" y1="374.15" x2="339.00" y2="374.15" stroke="#666" stroke-width="0.6"/>
<line x1="337.50" y1="382.10" x2="339.00" y2="382.10" stroke="#666" stroke-width="0.6"/>
<line x1="337.50" y1="390.05" x2="339.00" y2="390.05" stroke="#666" stroke-width="0.6"/>
<line x1="337.50" y1="398.00" x2="339.00" y2="398.00" stroke="#666" stroke-width="0.6"/>
<line x1="343.00" y1="400.00" x2="343.00" y2="401.50" stroke="#666" stroke-width="0.6"/>
<line x1="351.34" y1="400.00" x2="351.34" y2="401.50" stroke="#666" stroke-width="0.6"/>
<line x1="359.68" y1="400.00" x2="359.68" y2="401.50" stroke="#666" stroke-width="0.6"/>
<line x1="368.01" y1="400.00" x2="368.01" y2="401.50" stroke="#666" stroke-width="0.6"/>
<line x1="376.35" y1="400.00" x2="376.35" y2="401.50" stroke="#666" stroke-width="0.6"/>
<line x1="384.69" y1="400.00" x2="384.69" y2="401.50" stroke="#666" stroke-width="0.6"/>
<line x1="393.02" y1="400.00" x2="393.02" y2="401.50" stroke="#666" stroke-width="0.6"/>
<line x1="401.36" y1="400.00" x2="401.36" y2="401.50" stroke="#666" stroke-width="0.6"/>
<line x1="409.70" y1="400.00" x2="409.70" y2="401.50" stroke="#666" stroke-width="0.6"/>
<path d="M380.9 385.9h0.9M366.4 385.5h0.9M370.8 386.1h0.9M381.6 387.4h0.9M379.4 387.5h0.9M382.0 386.3h0.9M373.9 385.0h0.9M357.5 386.0h0.9M374.4 386.5h0.9M380.3 384.6h0.9M367.9 384.8h0.9M388.2 386.0h0.9M377.7 385.1h0.9M361.1 385.4h0.9M375.0 386.7h0.9M358.2 386.5h0.9M366.0 385.5h0.9M372.2 385.6h0.9M381.6 387.2h0.9M380.2 385.5h0.9M381.1 386.6h0.9M386.3 386.4h0.9M357.0 385.2h0.9M371.4 387.2h0.9M374.5 387.2h0.9M379.6 384.7h0.9M376.7 386.8h0.9M381.0 384.4h0.9M381.2 385.4h0.9M393.2 389.0h0.9M388.7 386.6h0.9M364.6 383.2h0.9M386.9 383.4h0.9M376.9 385.1h0.9M388.5 386.0h0.9M378.7 386.6h0.9M369.2 386.4h0.9M378.2 386.7h0.9M369.8 386.1h0.9M355.9 385.6h0.9M376.8 387.5h0.9M387.6 385.4h0.9M363.1 388.3h0.9M386.9 383.9h0.9M372.3 385.1h0.9M369.1 384.1h0.9M371.3 385.5h0.9M373.5 387.4h0.9M379.1 384.7h0.9M355.6 385.5h0.9M390.2 387.3h0.9M369.4 387.5h0.9M381.6 385.4h0.9M381.6 386.1h0.9M363.1 385.6h0.9M378.4 387.7h0.9M364.1 386.4h0.9M376.8 386.1h0.9M361.9 387.7h0.9M392.2 388.1h0.9M382.2 387.9h0.9M383.1 387.4h0.9M372.6 386.4h0.9M372.7 384.9h0.9M371.4 384.8h0.9M363.2 385.7h0.9M369.4 388.7h0.9M386.2 385.1h0.9M380.0 384.4h0.9M369.1 385.6h0.9M372.3 387.2h0.9M367.2 389.1h0.9M370.6 387.2h0.9M357.7 387.3h0.9M361.9 386.4h0.9M376.7 387.2h0.9M384.1 386.6h0.9M375.0 388.5h0.9M371.2 386.2h0.9M371.1 386.3h0.9M365.1 385.7h0.9M382.8 385.5h0.9M382.4 385.5h0.9M393.9 386.0h0.9M398.0 386.8h0.9M375.2 387.3h0.9M390.8 388.0h0.9M393.6 387.3h0.9M362.6 387.3h0.9M375.7 386.7h0.9M392.1 385.3h0.9M392.9 389.1h0.9M383.5 385.8h0.9M393.4 386.4h0.9M389.5 387.7h0.9M358.5 386.6h0.9M358.4 385.3h0.9M384.1 384.7h0.9M368.0 385.6h0.9M380.5 386.6h0.9M382.1 385.6h0.9M367.6 386.7h0.9M366.2 385.2h0.9" stroke="#7a78cc" stroke-width="0.9" opacity="0.45" fill="none"/>
<g>
<g filter="url(#bl6)" opacity="0.7">
<ellipse cx="360.00" cy="386.20" rx="4.00" ry="1.20" fill="#8c8ad8"/>
</g></g>
<path d="M379.4 358.7h0.9M387.1 375.0h0.9M394.3 372.6h0.9M390.3 374.4h0.9M380.8 359.6h0.9M368.0 371.6h0.9M387.0 367.8h0.9M382.4 362.6h0.9M394.6 372.3h0.9M385.6 365.6h0.9M379.8 371.8h0.9M375.6 366.8h0.9M397.3 361.0h0.9M376.1 377.7h0.9M386.3 369.0h0.9M375.7 360.3h0.9M387.0 365.0h0.9M390.8 371.2h0.9M385.5 370.3h0.9M371.2 369.0h0.9" stroke="#b0b0e0" stroke-width="0.9" opacity="0.35" fill="none"/>
<line x1="365.50" y1="330.40" x2="365.50" y2="400.00" stroke="#333" stroke-width="0.8"/>
<line x1="339.00" y1="381.00" x2="411.70" y2="381.00" stroke="#333" stroke-width="0.8"/>
<text x="409.60" y="339.80" font-size="6.6" class="n" text-anchor="end" fill="#3a3a3a">8%</text>
<text x="342.00" y="396.00" font-size="6.6" class="n" fill="#3a3a3a">45%</text>
<text x="410.00" y="396.50" font-size="6.6" class="n" text-anchor="end" fill="#3a3a3a">46%</text>
<polyline points="243.70,386.50 243.70,414.60 272.50,414.60" fill="none" stroke="#000" stroke-width="1.4"/>
<polygon points="243.70,377.00 238.50,389.50 243.70,387.00 248.90,389.50" fill="#000"/>
<polygon points="282.00,414.60 269.50,409.40 272.00,414.60 269.50,419.80" fill="#000"/>
<text x="247.30" y="371.40" font-size="11.2" class="c2" textLength="22.3" lengthAdjust="spacingAndGlyphs" transform="rotate(-90 247.30 371.40)">7-AAD</text>
<text x="287.50" y="418.70" font-size="11" class="c2" textLength="35.3" lengthAdjust="spacingAndGlyphs">Annexin V</text>
<text x="8.90" y="459.40" font-size="15" font-weight="bold" fill="#000">H</text>
<line x1="44.70" y1="502.80" x2="44.70" y2="600.20" stroke="#231f20" stroke-width="1.4"/>
<line x1="40.70" y1="600.20" x2="44.70" y2="600.20" stroke="#231f20" stroke-width="1.4"/>
<text x="37.30" y="603.60" font-size="9.2" text-anchor="end" textLength="5.95" lengthAdjust="spacingAndGlyphs">0</text>
<line x1="40.70" y1="576.80" x2="44.70" y2="576.80" stroke="#231f20" stroke-width="1.4"/>
<text x="37.30" y="580.20" font-size="9.2" text-anchor="end" textLength="11.9" lengthAdjust="spacingAndGlyphs">20</text>
<line x1="40.70" y1="553.40" x2="44.70" y2="553.40" stroke="#231f20" stroke-width="1.4"/>
<text x="37.30" y="556.80" font-size="9.2" text-anchor="end" textLength="11.9" lengthAdjust="spacingAndGlyphs">40</text>
<line x1="40.70" y1="530.00" x2="44.70" y2="530.00" stroke="#231f20" stroke-width="1.4"/>
<text x="37.30" y="533.40" font-size="9.2" text-anchor="end" textLength="11.9" lengthAdjust="spacingAndGlyphs">60</text>
<line x1="40.70" y1="506.60" x2="44.70" y2="506.60" stroke="#231f20" stroke-width="1.4"/>
<text x="37.30" y="510.00" font-size="9.2" text-anchor="end" textLength="11.9" lengthAdjust="spacingAndGlyphs">80</text>
<rect x="53.00" y="541.12" width="15.40" height="59.09" fill="#a3a8b1"/>
<rect x="76.80" y="555.16" width="15.20" height="45.04" fill="#8fd2ef"/>
<line x1="43.50" y1="600.20" x2="99.40" y2="600.20" stroke="#231f20" stroke-width="1.3"/>
<line x1="60.40" y1="600.20" x2="60.40" y2="603.50" stroke="#231f20" stroke-width="1"/>
<line x1="84.00" y1="600.20" x2="84.00" y2="603.50" stroke="#231f20" stroke-width="1"/>
<line x1="60.40" y1="526.20" x2="60.40" y2="552.00" stroke="#3c4350" stroke-width="1.1"/>
<line x1="56.80" y1="526.20" x2="64.00" y2="526.20" stroke="#3c4350" stroke-width="1.1"/>
<circle cx="60.30" cy="513.80" r="2.3" fill="#3c4350"/>
<circle cx="60.30" cy="523.80" r="2.3" fill="#3c4350"/>
<circle cx="54.90" cy="535.60" r="2.3" fill="#3c4350"/>
<circle cx="66.10" cy="538.70" r="2.3" fill="#3c4350"/>
<circle cx="54.90" cy="541.30" r="2.3" fill="#3c4350"/>
<circle cx="58.40" cy="538.20" r="2.3" fill="#3c4350"/>
<circle cx="62.40" cy="539.10" r="2.3" fill="#3c4350"/>
<circle cx="58.40" cy="545.90" r="2.3" fill="#3c4350"/>
<circle cx="58.10" cy="552.60" r="2.3" fill="#3c4350"/>
<circle cx="62.40" cy="552.60" r="2.3" fill="#3c4350"/>
<line x1="84.30" y1="548.80" x2="84.30" y2="562.00" stroke="#1e9cd8" stroke-width="1.1"/>
<line x1="80.80" y1="548.80" x2="87.80" y2="548.80" stroke="#1e9cd8" stroke-width="1.1"/>
<circle cx="78.60" cy="550.20" r="2.3" fill="#1e9cd8"/>
<circle cx="81.70" cy="548.80" r="2.3" fill="#1e9cd8"/>
<circle cx="86.00" cy="547.30" r="2.3" fill="#1e9cd8"/>
<circle cx="90.30" cy="547.80" r="2.3" fill="#1e9cd8"/>
<circle cx="86.00" cy="550.20" r="2.3" fill="#1e9cd8"/>
<circle cx="84.00" cy="555.00" r="2.3" fill="#1e9cd8"/>
<circle cx="86.00" cy="556.90" r="2.3" fill="#1e9cd8"/>
<circle cx="84.50" cy="560.80" r="2.3" fill="#1e9cd8"/>
<circle cx="85.00" cy="563.80" r="2.3" fill="#1e9cd8"/>
<circle cx="82.60" cy="567.00" r="2.3" fill="#1e9cd8"/>
<polyline points="60.30,506.80 60.30,499.00 84.60,499.00 84.60,506.80" fill="none" stroke="#555" stroke-width="1"/>
<text x="56.90" y="493.30" font-size="9.3" textLength="31.1" lengthAdjust="spacingAndGlyphs">0.0022</text>
<text x="18.80" y="585.30" font-size="10" class="c" textLength="68.6" lengthAdjust="spacingAndGlyphs" transform="rotate(-90 18.80 585.30)">% of GFP+ B cells</text>
<text x="63.80" y="615.50" font-size="9.6" text-anchor="end" textLength="25.8" lengthAdjust="spacingAndGlyphs" transform="rotate(-45 63.80 615.50)">EV ctrl</text>
<text x="87.50" y="615.00" font-size="9.6" text-anchor="end" textLength="44.5" lengthAdjust="spacingAndGlyphs" transform="rotate(-45 87.50 615.00)">GBP2 OE</text>
<line x1="147.70" y1="503.70" x2="147.70" y2="600.20" stroke="#231f20" stroke-width="1.4"/>
<line x1="143.70" y1="600.20" x2="147.70" y2="600.20" stroke="#231f20" stroke-width="1.4"/>
<text x="140.30" y="603.60" font-size="9.2" text-anchor="end" textLength="5.6" lengthAdjust="spacingAndGlyphs">0</text>
<line x1="143.70" y1="581.42" x2="147.70" y2="581.42" stroke="#231f20" stroke-width="1.4"/>
<text x="140.30" y="584.82" font-size="9.2" text-anchor="end" textLength="5.6" lengthAdjust="spacingAndGlyphs">5</text>
<line x1="143.70" y1="562.64" x2="147.70" y2="562.64" stroke="#231f20" stroke-width="1.4"/>
<text x="140.30" y="566.04" font-size="9.2" text-anchor="end" textLength="11.2" lengthAdjust="spacingAndGlyphs">10</text>
<line x1="143.70" y1="543.86" x2="147.70" y2="543.86" stroke="#231f20" stroke-width="1.4"/>
<text x="140.30" y="547.26" font-size="9.2" text-anchor="end" textLength="11.2" lengthAdjust="spacingAndGlyphs">15</text>
<line x1="143.70" y1="525.08" x2="147.70" y2="525.08" stroke="#231f20" stroke-width="1.4"/>
<text x="140.30" y="528.48" font-size="9.2" text-anchor="end" textLength="11.2" lengthAdjust="spacingAndGlyphs">20</text>
<line x1="143.70" y1="506.30" x2="147.70" y2="506.30" stroke="#231f20" stroke-width="1.4"/>
<text x="140.30" y="509.70" font-size="9.2" text-anchor="end" textLength="11.2" lengthAdjust="spacingAndGlyphs">25</text>
<rect x="155.80" y="558.13" width="15.90" height="42.07" fill="#a3a8b1"/>
<rect x="180.40" y="558.88" width="15.00" height="41.32" fill="#8fd2ef"/>
<line x1="146.50" y1="600.20" x2="203.50" y2="600.20" stroke="#231f20" stroke-width="1.3"/>
<line x1="164.00" y1="600.20" x2="164.00" y2="603.50" stroke="#231f20" stroke-width="1"/>
<line x1="187.70" y1="600.20" x2="187.70" y2="603.50" stroke="#231f20" stroke-width="1"/>
<line x1="164.00" y1="533.50" x2="164.00" y2="583.50" stroke="#3c4350" stroke-width="1.1"/>
<line x1="160.15" y1="533.50" x2="167.85" y2="533.50" stroke="#3c4350" stroke-width="1.1"/>
<line x1="160.15" y1="583.50" x2="167.85" y2="583.50" stroke="#3c4350" stroke-width="1.1"/>
<circle cx="164.00" cy="512.70" r="2.3" fill="#3c4350"/>
<circle cx="158.30" cy="538.80" r="2.3" fill="#3c4350"/>
<circle cx="169.40" cy="541.50" r="2.3" fill="#3c4350"/>
<circle cx="158.30" cy="544.40" r="2.3" fill="#3c4350"/>
<circle cx="164.00" cy="549.40" r="2.3" fill="#3c4350"/>
<circle cx="164.00" cy="567.70" r="2.3" fill="#3c4350"/>
<circle cx="169.40" cy="573.80" r="2.3" fill="#3c4350"/>
<circle cx="158.30" cy="576.20" r="2.3" fill="#3c4350"/>
<circle cx="164.00" cy="583.50" r="2.3" fill="#3c4350"/>
<circle cx="164.00" cy="594.00" r="2.3" fill="#3c4350"/>
<line x1="187.70" y1="545.60" x2="187.70" y2="572.90" stroke="#1e9cd8" stroke-width="1.1"/>
<line x1="183.85" y1="545.60" x2="191.55" y2="545.60" stroke="#1e9cd8" stroke-width="1.1"/>
<line x1="183.85" y1="572.90" x2="191.55" y2="572.90" stroke="#1e9cd8" stroke-width="1.1"/>
<circle cx="181.90" cy="539.80" r="2.3" fill="#1e9cd8"/>
<circle cx="193.30" cy="538.30" r="2.3" fill="#1e9cd8"/>
<circle cx="187.70" cy="550.80" r="2.3" fill="#1e9cd8"/>
<circle cx="181.90" cy="561.00" r="2.3" fill="#1e9cd8"/>
<circle cx="193.30" cy="561.00" r="2.3" fill="#1e9cd8"/>
<circle cx="187.70" cy="565.20" r="2.3" fill="#1e9cd8"/>
<circle cx="181.90" cy="568.70" r="2.3" fill="#1e9cd8"/>
<circle cx="193.30" cy="566.70" r="2.3" fill="#1e9cd8"/>
<circle cx="193.30" cy="571.30" r="2.3" fill="#1e9cd8"/>
<circle cx="187.70" cy="577.70" r="2.3" fill="#1e9cd8"/>
<text x="122.00" y="585.00" font-size="10" class="c" textLength="67" lengthAdjust="spacingAndGlyphs" transform="rotate(-90 122.00 585.00)">% of GFP+ T cells</text>
<text x="167.40" y="615.50" font-size="9.6" text-anchor="end" textLength="25.8" lengthAdjust="spacingAndGlyphs" transform="rotate(-45 167.40 615.50)">EV ctrl</text>
<text x="191.10" y="615.00" font-size="9.6" text-anchor="end" textLength="44.5" lengthAdjust="spacingAndGlyphs" transform="rotate(-45 191.10 615.00)">GBP2 OE</text>
<line x1="250.80" y1="504.00" x2="250.80" y2="600.20" stroke="#231f20" stroke-width="1.4"/>
<line x1="246.80" y1="600.20" x2="250.80" y2="600.20" stroke="#231f20" stroke-width="1.4"/>
<text x="243.40" y="603.60" font-size="9.2" text-anchor="end" textLength="5.8" lengthAdjust="spacingAndGlyphs">0</text>
<line x1="246.80" y1="576.80" x2="250.80" y2="576.80" stroke="#231f20" stroke-width="1.4"/>
<text x="243.40" y="580.20" font-size="9.2" text-anchor="end" textLength="11.6" lengthAdjust="spacingAndGlyphs">20</text>
<line x1="246.80" y1="553.40" x2="250.80" y2="553.40" stroke="#231f20" stroke-width="1.4"/>
<text x="243.40" y="556.80" font-size="9.2" text-anchor="end" textLength="11.6" lengthAdjust="spacingAndGlyphs">40</text>
<line x1="246.80" y1="530.00" x2="250.80" y2="530.00" stroke="#231f20" stroke-width="1.4"/>
<text x="243.40" y="533.40" font-size="9.2" text-anchor="end" textLength="11.6" lengthAdjust="spacingAndGlyphs">60</text>
<line x1="246.80" y1="506.60" x2="250.80" y2="506.60" stroke="#231f20" stroke-width="1.4"/>
<text x="243.40" y="510.00" font-size="9.2" text-anchor="end" textLength="11.6" lengthAdjust="spacingAndGlyphs">80</text>
<rect x="259.60" y="559.25" width="15.60" height="40.95" fill="#a3a8b1"/>
<rect x="283.70" y="541.23" width="15.30" height="58.97" fill="#8fd2ef"/>
<line x1="248.80" y1="600.20" x2="306.00" y2="600.20" stroke="#231f20" stroke-width="1.3"/>
<line x1="267.30" y1="600.20" x2="267.30" y2="603.50" stroke="#231f20" stroke-width="1"/>
<line x1="291.30" y1="600.20" x2="291.30" y2="603.50" stroke="#231f20" stroke-width="1"/>
<line x1="267.30" y1="546.90" x2="267.30" y2="572.00" stroke="#3c4350" stroke-width="1.1"/>
<line x1="263.90" y1="546.90" x2="270.70" y2="546.90" stroke="#3c4350" stroke-width="1.1"/>
<line x1="263.90" y1="572.00" x2="270.70" y2="572.00" stroke="#3c4350" stroke-width="1.1"/>
<circle cx="267.00" cy="534.80" r="2.3" fill="#3c4350"/>
<circle cx="261.50" cy="549.80" r="2.3" fill="#3c4350"/>
<circle cx="267.30" cy="551.30" r="2.3" fill="#3c4350"/>
<circle cx="272.70" cy="556.20" r="2.3" fill="#3c4350"/>
<circle cx="261.50" cy="556.50" r="2.3" fill="#3c4350"/>
<circle cx="267.30" cy="560.80" r="2.3" fill="#3c4350"/>
<circle cx="261.50" cy="565.80" r="2.3" fill="#3c4350"/>
<circle cx="272.70" cy="566.20" r="2.3" fill="#3c4350"/>
<circle cx="267.30" cy="570.00" r="2.3" fill="#3c4350"/>
<circle cx="261.50" cy="572.90" r="2.3" fill="#3c4350"/>
<circle cx="272.70" cy="572.90" r="2.3" fill="#3c4350"/>
<line x1="291.30" y1="533.50" x2="291.30" y2="545.40" stroke="#1e9cd8" stroke-width="1.1"/>
<line x1="287.80" y1="533.50" x2="294.80" y2="533.50" stroke="#1e9cd8" stroke-width="1.1"/>
<line x1="287.80" y1="545.40" x2="294.80" y2="545.40" stroke="#1e9cd8" stroke-width="1.1"/>
<circle cx="292.90" cy="530.00" r="2.3" fill="#1e9cd8"/>
<circle cx="285.80" cy="534.40" r="2.3" fill="#1e9cd8"/>
<circle cx="290.40" cy="534.40" r="2.3" fill="#1e9cd8"/>
<circle cx="292.90" cy="537.30" r="2.3" fill="#1e9cd8"/>
<circle cx="287.10" cy="540.60" r="2.3" fill="#1e9cd8"/>
<circle cx="296.70" cy="541.20" r="2.3" fill="#1e9cd8"/>
<circle cx="285.80" cy="542.70" r="2.3" fill="#1e9cd8"/>
<circle cx="291.00" cy="544.00" r="2.3" fill="#1e9cd8"/>
<circle cx="289.60" cy="547.30" r="2.3" fill="#1e9cd8"/>
<circle cx="296.70" cy="540.00" r="2.3" fill="#1e9cd8"/>
<polyline points="267.00,522.90 267.00,515.20 291.50,515.20 291.50,522.90" fill="none" stroke="#555" stroke-width="1"/>
<text x="263.00" y="509.40" font-size="9.3" textLength="31.2" lengthAdjust="spacingAndGlyphs">0.0003</text>
<text x="225.00" y="596.50" font-size="10" class="c" textLength="90" lengthAdjust="spacingAndGlyphs" transform="rotate(-90 225.00 596.50)">% of GFP+ myeloid cells</text>
<text x="270.70" y="615.50" font-size="9.6" text-anchor="end" textLength="25.8" lengthAdjust="spacingAndGlyphs" transform="rotate(-45 270.70 615.50)">EV ctrl</text>
<text x="294.70" y="615.00" font-size="9.6" text-anchor="end" textLength="44.5" lengthAdjust="spacingAndGlyphs" transform="rotate(-45 294.70 615.00)">GBP2 OE</text>
<text x="326.30" y="459.20" font-size="15" font-weight="bold" fill="#000">I</text>
<text x="347.00" y="475.60" font-size="9.7" textLength="27.6" lengthAdjust="spacingAndGlyphs">EV ctrl</text>
<text x="429.50" y="475.60" font-size="9.7" textLength="48.5" lengthAdjust="spacingAndGlyphs">GBP2 O.E.</text>
<rect x="345.40" y="481.90" width="77.90" height="69.30" fill="none" stroke="#b0b0b0" stroke-width="0.9"/>
<line x1="345.40" y1="481.90" x2="345.40" y2="551.20" stroke="#888" stroke-width="0.9"/>
<line x1="345.40" y1="551.20" x2="423.30" y2="551.20" stroke="#888" stroke-width="0.9"/>
<rect x="343.90" y="537.80" width="1.60" height="2.80" fill="#333"/>
<rect x="364.90" y="551.10" width="3.20" height="1.60" fill="#333"/>
<line x1="343.90" y1="485.90" x2="345.40" y2="485.90" stroke="#666" stroke-width="0.6"/>
<line x1="343.90" y1="493.81" x2="345.40" y2="493.81" stroke="#666" stroke-width="0.6"/>
<line x1="343.90" y1="501.73" x2="345.40" y2="501.73" stroke="#666" stroke-width="0.6"/>
<line x1="343.90" y1="509.64" x2="345.40" y2="509.64" stroke="#666" stroke-width="0.6"/>
<line x1="343.90" y1="517.55" x2="345.40" y2="517.55" stroke="#666" stroke-width="0.6"/>
<line x1="343.90" y1="525.46" x2="345.40" y2="525.46" stroke="#666" stroke-width="0.6"/>
<line x1="343.90" y1="533.38" x2="345.40" y2="533.38" stroke="#666" stroke-width="0.6"/>
<line x1="343.90" y1="541.29" x2="345.40" y2="541.29" stroke="#666" stroke-width="0.6"/>
<line x1="343.90" y1="549.20" x2="345.40" y2="549.20" stroke="#666" stroke-width="0.6"/>
<line x1="349.40" y1="551.20" x2="349.40" y2="552.70" stroke="#666" stroke-width="0.6"/>
<line x1="358.39" y1="551.20" x2="358.39" y2="552.70" stroke="#666" stroke-width="0.6"/>
<line x1="367.38" y1="551.20" x2="367.38" y2="552.70" stroke="#666" stroke-width="0.6"/>
<line x1="376.36" y1="551.20" x2="376.36" y2="552.70" stroke="#666" stroke-width="0.6"/>
<line x1="385.35" y1="551.20" x2="385.35" y2="552.70" stroke="#666" stroke-width="0.6"/>
<line x1="394.34" y1="551.20" x2="394.34" y2="552.70" stroke="#666" stroke-width="0.6"/>
<line x1="403.32" y1="551.20" x2="403.32" y2="552.70" stroke="#666" stroke-width="0.6"/>
<line x1="412.31" y1="551.20" x2="412.31" y2="552.70" stroke="#666" stroke-width="0.6"/>
<line x1="421.30" y1="551.20" x2="421.30" y2="552.70" stroke="#666" stroke-width="0.6"/>
<path d="M363.0 526.8h1.0M364.2 528.0h1.0M363.5 513.8h1.0M366.7 532.3h1.0M365.8 521.0h1.0M363.6 532.1h1.0M364.6 525.0h1.0M373.1 515.9h1.0M371.5 526.9h1.0M371.1 527.5h1.0M370.6 518.8h1.0M361.9 521.5h1.0M370.7 528.9h1.0M373.2 515.4h1.0M367.1 514.3h1.0M365.6 525.4h1.0M360.9 526.9h1.0M373.3 529.5h1.0M367.3 513.7h1.0M363.7 516.6h1.0M365.2 519.7h1.0M367.7 519.1h1.0M368.5 514.9h1.0M363.2 529.7h1.0M370.4 533.8h1.0M367.0 518.4h1.0M364.5 529.6h1.0M361.9 516.1h1.0M370.8 522.4h1.0M367.3 520.3h1.0M367.5 525.3h1.0M367.5 528.3h1.0M371.9 523.4h1.0M364.2 520.6h1.0M362.8 521.8h1.0M369.0 527.6h1.0M370.2 524.4h1.0M371.8 529.3h1.0M364.2 521.6h1.0M364.4 527.3h1.0M366.1 517.3h1.0M367.5 531.0h1.0M365.2 522.5h1.0M365.1 513.0h1.0M366.2 529.3h1.0M366.7 518.6h1.0M369.5 517.8h1.0M362.4 519.7h1.0M369.6 522.2h1.0M371.0 527.0h1.0M368.3 529.9h1.0M364.6 530.8h1.0M368.0 531.2h1.0M362.7 533.4h1.0M364.5 514.2h1.0M365.2 515.4h1.0M362.7 520.9h1.0M366.2 526.3h1.0M369.6 515.3h1.0M372.9 530.8h1.0M364.6 531.7h1.0M369.7 526.6h1.0M365.2 528.3h1.0M371.8 518.5h1.0M368.4 514.3h1.0M370.1 513.6h1.0M366.3 532.3h1.0M366.3 522.2h1.0M368.9 517.9h1.0M365.5 526.9h1.0M363.4 526.9h1.0M367.2 528.5h1.0M366.8 526.2h1.0M368.8 519.6h1.0M369.3 514.7h1.0M368.0 528.3h1.0M366.4 516.9h1.0M368.4 521.7h1.0M372.3 514.3h1.0M370.6 524.6h1.0M368.9 513.5h1.0M367.6 516.7h1.0M370.9 531.0h1.0M370.3 526.8h1.0M365.6 517.9h1.0M369.7 518.0h1.0M371.5 529.6h1.0M368.8 515.6h1.0M371.6 515.5h1.0M361.9 514.5h1.0M365.5 520.3h1.0M367.8 514.7h1.0M365.9 526.0h1.0M371.5 530.3h1.0M369.7 520.3h1.0M370.4 517.5h1.0M359.6 522.8h1.0M363.0 513.4h1.0M371.3 518.4h1.0M362.6 517.7h1.0M367.5 528.9h1.0M366.9 520.1h1.0M368.6 521.8h1.0M366.7 519.2h1.0M361.6 525.0h1.0M369.1 527.9h1.0M362.4 533.4h1.0M371.7 521.4h1.0M367.9 521.8h1.0M370.1 525.3h1.0M368.6 531.2h1.0M369.3 529.7h1.0M364.9 521.8h1.0M370.7 528.1h1.0M372.8 532.0h1.0M366.9 517.0h1.0M366.4 523.0h1.0M364.5 526.8h1.0M368.6 515.5h1.0M368.6 524.1h1.0M363.5 520.4h1.0M371.0 528.2h1.0M371.4 516.1h1.0M368.3 529.7h1.0M362.7 517.6h1.0M368.7 524.3h1.0M372.8 517.7h1.0M367.0 524.8h1.0M369.9 519.1h1.0M369.2 520.0h1.0M369.9 519.1h1.0M365.6 520.1h1.0M372.4 521.6h1.0M370.5 525.2h1.0M364.3 529.6h1.0M368.6 530.1h1.0M370.1 515.8h1.0M368.0 526.9h1.0M366.1 531.5h1.0M369.1 528.7h1.0M362.1 528.0h1.0M365.8 530.1h1.0M365.4 527.7h1.0M368.5 524.9h1.0M363.3 529.6h1.0M367.9 519.9h1.0M370.2 524.1h1.0M363.8 523.0h1.0M368.6 512.7h1.0M371.1 513.7h1.0M365.4 532.7h1.0M367.2 532.2h1.0M368.2 523.6h1.0M371.9 516.5h1.0M362.6 525.9h1.0M370.1 527.5h1.0M368.5 519.0h1.0M361.1 526.4h1.0M366.7 527.7h1.0M367.3 515.4h1.0M363.6 521.0h1.0M372.9 524.3h1.0M363.3 516.8h1.0M370.2 522.4h1.0M372.9 521.2h1.0M366.2 515.2h1.0M369.0 524.6h1.0M372.1 530.7h1.0M371.2 523.1h1.0M368.4 526.6h1.0M369.6 529.6h1.0M366.4 521.1h1.0M362.5 517.0h1.0M364.0 512.9h1.0M371.7 514.4h1.0M368.1 512.9h1.0M366.9 521.3h1.0M364.5 517.0h1.0M365.7 524.0h1.0M364.6 525.9h1.0M363.2 517.8h1.0M369.9 522.1h1.0M360.0 531.4h1.0M368.3 515.8h1.0M370.8 533.2h1.0M371.2 527.4h1.0M370.1 528.8h1.0M371.6 523.4h1.0M365.2 517.2h1.0M371.5 530.3h1.0M372.0 523.5h1.0M364.8 527.5h1.0M363.9 523.8h1.0M363.7 514.1h1.0M368.6 522.2h1.0M370.4 530.0h1.0M367.6 530.8h1.0M362.0 528.3h1.0M372.8 513.5h1.0M373.3 526.4h1.0M369.8 519.5h1.0M365.7 530.1h1.0M367.6 521.9h1.0M368.4 516.5h1.0M369.6 512.8h1.0M368.5 526.5h1.0M364.0 511.5h1.0M370.5 517.8h1.0M371.7 522.8h1.0M366.0 526.3h1.0M375.2 520.9h1.0M373.1 519.1h1.0M364.9 522.3h1.0M374.2 521.2h1.0M374.9 526.8h1.0M365.9 527.6h1.0M368.4 521.2h1.0M365.1 512.5h1.0M362.1 531.6h1.0M369.4 516.8h1.0M363.6 524.2h1.0M371.1 522.8h1.0M369.0 518.7h1.0M366.8 527.5h1.0M363.5 528.3h1.0M367.1 528.2h1.0M376.2 522.5h1.0M365.1 528.6h1.0M366.6 529.4h1.0M364.2 520.3h1.0M370.6 528.4h1.0M366.3 525.1h1.0M372.2 519.9h1.0M367.7 530.9h1.0M362.2 524.6h1.0M365.6 527.3h1.0M368.2 514.6h1.0M373.0 512.6h1.0M361.6 524.8h1.0M365.5 521.8h1.0M366.6 517.7h1.0M364.2 526.0h1.0M370.9 522.7h1.0M363.8 518.2h1.0M371.2 513.1h1.0M364.2 525.8h1.0M363.8 514.9h1.0M364.4 522.0h1.0M371.9 525.4h1.0M365.5 515.8h1.0M368.3 522.5h1.0M367.4 530.2h1.0M370.9 524.2h1.0M368.9 524.2h1.0M367.7 520.2h1.0M370.8 523.3h1.0M370.4 516.7h1.0M364.9 515.9h1.0M366.7 525.5h1.0M373.6 526.5h1.0" stroke="#3228a0" stroke-width="1.0" opacity="0.85" fill="none"/>
<path d="M366.2 545.3h0.9M368.3 517.9h0.9M368.6 531.2h0.9M372.4 510.2h0.9M373.0 533.5h0.9M361.1 541.5h0.9M374.1 539.1h0.9M361.5 543.2h0.9M371.7 517.2h0.9M368.9 542.2h0.9M373.2 534.1h0.9M365.3 518.8h0.9M361.8 537.4h0.9M366.7 540.1h0.9M370.0 506.9h0.9M363.3 533.7h0.9M361.2 542.1h0.9M370.5 519.1h0.9M375.0 522.3h0.9M370.9 521.4h0.9M375.3 535.2h0.9M365.9 543.5h0.9M368.6 533.7h0.9M363.7 511.6h0.9M372.0 529.1h0.9M361.8 534.7h0.9M364.6 535.0h0.9M363.5 543.3h0.9M375.8 545.9h0.9M367.3 510.7h0.9M371.8 525.2h0.9M367.7 546.9h0.9M374.1 542.5h0.9M371.7 512.0h0.9M368.2 537.5h0.9M361.1 513.5h0.9M362.2 525.4h0.9M375.3 539.6h0.9M371.3 536.7h0.9M363.7 517.8h0.9M363.7 541.2h0.9M370.0 529.2h0.9M361.1 502.7h0.9M372.0 509.4h0.9M365.8 523.5h0.9M368.8 509.9h0.9M367.8 537.8h0.9M366.8 519.6h0.9M365.3 526.1h0.9M369.6 509.4h0.9M363.6 514.0h0.9M365.8 519.2h0.9M373.0 515.3h0.9M378.5 533.5h0.9M378.8 512.8h0.9M373.9 508.8h0.9M372.0 543.3h0.9M367.7 530.0h0.9M362.8 510.0h0.9M373.1 509.3h0.9M370.3 542.9h0.9M367.6 549.9h0.9M362.8 538.3h0.9M359.3 543.6h0.9M368.7 531.7h0.9M361.1 521.2h0.9M362.0 528.9h0.9M377.1 545.0h0.9M370.2 505.1h0.9M377.2 531.8h0.9M378.2 536.3h0.9M362.7 522.5h0.9M366.8 531.3h0.9M373.8 546.0h0.9M371.9 523.7h0.9M370.2 542.2h0.9M365.3 515.8h0.9M364.5 515.0h0.9M369.9 511.5h0.9M376.4 516.9h0.9M374.2 506.1h0.9M376.9 504.8h0.9M370.1 546.2h0.9M372.0 546.7h0.9M366.9 516.1h0.9M375.1 522.3h0.9M368.7 508.2h0.9M366.5 525.5h0.9M363.0 511.9h0.9M360.0 524.9h0.9M377.2 543.2h0.9M363.1 516.8h0.9M364.3 547.1h0.9M370.2 535.3h0.9M366.9 527.2h0.9M368.2 523.2h0.9M369.9 507.4h0.9M367.1 542.7h0.9M372.9 545.0h0.9M362.9 541.9h0.9M365.9 532.9h0.9M371.8 541.0h0.9M368.5 528.1h0.9M363.4 535.4h0.9M363.9 514.8h0.9M367.8 508.8h0.9M359.1 529.6h0.9M371.8 524.2h0.9M365.4 515.2h0.9M360.7 522.3h0.9M367.6 520.7h0.9M359.3 528.6h0.9M373.8 527.1h0.9M360.9 532.4h0.9M369.3 533.9h0.9M378.5 509.8h0.9M374.9 509.5h0.9M359.6 546.3h0.9M374.6 522.8h0.9M376.5 526.4h0.9M363.7 504.7h0.9M362.0 522.6h0.9M365.3 544.6h0.9M370.9 537.4h0.9M366.4 545.9h0.9M373.0 534.0h0.9M372.9 506.0h0.9M360.7 515.6h0.9M371.1 525.2h0.9M376.1 537.4h0.9M374.1 541.7h0.9M365.4 542.5h0.9M368.5 535.0h0.9M374.7 539.0h0.9M372.4 502.4h0.9M371.2 547.7h0.9M362.9 514.5h0.9M372.0 516.0h0.9M375.2 538.1h0.9M375.3 536.2h0.9M366.4 536.6h0.9M366.1 543.7h0.9M368.8 513.4h0.9M368.6 543.2h0.9M372.3 532.5h0.9M370.1 528.3h0.9M369.1 527.0h0.9M361.2 508.4h0.9M365.5 529.9h0.9M375.7 527.2h0.9M360.9 515.2h0.9M362.4 529.5h0.9M369.5 508.6h0.9M368.3 527.8h0.9M362.5 545.8h0.9M372.7 543.8h0.9M373.1 504.7h0.9M374.9 531.5h0.9M362.9 515.3h0.9M370.3 521.3h0.9M370.3 514.5h0.9M366.9 512.0h0.9M364.8 510.9h0.9M370.3 518.2h0.9M373.6 509.0h0.9M374.5 542.8h0.9M361.7 504.1h0.9M373.9 526.3h0.9M366.7 534.1h0.9M375.8 527.6h0.9M365.4 502.8h0.9M363.2 522.6h0.9M364.9 513.0h0.9M373.5 521.9h0.9M371.7 507.8h0.9M376.6 544.9h0.9M360.8 524.7h0.9M373.6 501.2h0.9M367.5 535.8h0.9M364.1 532.4h0.9M363.8 542.9h0.9M373.2 541.6h0.9M365.4 545.1h0.9M364.4 507.5h0.9M367.5 542.7h0.9M367.1 544.5h0.9M370.8 515.2h0.9M361.2 539.6h0.9M369.0 539.2h0.9M374.4 528.2h0.9M365.9 522.4h0.9M366.0 550.0h0.9M361.1 521.2h0.9M365.6 519.8h0.9M372.2 542.1h0.9M361.0 527.0h0.9M363.8 525.7h0.9M373.3 531.8h0.9M371.9 510.3h0.9M367.5 518.2h0.9" stroke="#6a5cc8" stroke-width="0.9" opacity="0.6" fill="none"/>
<path d="M386.1 521.5h0.9M377.4 523.4h0.9M377.0 515.1h0.9M386.9 523.5h0.9M388.7 517.6h0.9M393.6 521.7h0.9M383.8 519.0h0.9M385.0 517.5h0.9M390.8 523.3h0.9M391.3 516.8h0.9M387.1 520.0h0.9M385.5 520.9h0.9M386.2 520.0h0.9M384.2 519.8h0.9M385.0 519.9h0.9M381.6 519.5h0.9M376.6 523.4h0.9M385.1 526.1h0.9M385.9 514.8h0.9M378.8 512.8h0.9M382.0 516.3h0.9M381.3 520.1h0.9M382.2 518.7h0.9M375.7 515.3h0.9M376.7 516.9h0.9M385.0 520.3h0.9M383.8 517.8h0.9M381.0 521.0h0.9M384.0 520.0h0.9M394.5 525.5h0.9M389.7 518.1h0.9M379.2 515.5h0.9M383.0 522.3h0.9M384.7 516.8h0.9M388.7 517.8h0.9M383.3 516.9h0.9M383.9 519.1h0.9M393.8 526.3h0.9M386.2 516.8h0.9M394.4 523.1h0.9M382.1 518.3h0.9M382.0 520.0h0.9M382.3 519.3h0.9M382.9 525.2h0.9M380.7 514.8h0.9M388.5 519.4h0.9M384.9 518.6h0.9M386.9 520.1h0.9M392.9 524.3h0.9M385.4 513.9h0.9M386.1 516.3h0.9M385.8 522.4h0.9M382.7 522.6h0.9M392.0 523.9h0.9M381.7 522.8h0.9M384.7 520.6h0.9M389.2 518.8h0.9M393.1 522.9h0.9M384.7 517.8h0.9M382.4 518.1h0.9M387.4 520.5h0.9M378.6 521.7h0.9M381.3 517.3h0.9M390.2 522.1h0.9M383.1 519.1h0.9M377.0 514.5h0.9M384.1 520.6h0.9M379.1 519.4h0.9M382.2 514.2h0.9M385.4 522.1h0.9M383.7 521.4h0.9M386.8 522.7h0.9M382.3 525.7h0.9M375.1 523.2h0.9M386.6 517.5h0.9M385.3 524.1h0.9M378.4 516.6h0.9M386.3 523.8h0.9M386.2 515.9h0.9" stroke="#5a4cc0" stroke-width="0.9" opacity="0.6" fill="none"/>
<path d="M384.1 507.9h0.9M384.3 511.0h0.9M384.2 503.3h0.9M387.2 507.6h0.9M383.6 508.9h0.9M386.5 512.6h0.9M389.3 508.9h0.9M380.2 504.9h0.9M386.6 513.1h0.9M385.3 508.1h0.9M388.5 503.4h0.9M383.0 510.2h0.9M390.7 507.7h0.9M387.4 509.4h0.9M390.1 504.6h0.9M388.7 503.2h0.9M379.0 511.6h0.9M389.3 504.2h0.9M390.5 505.0h0.9M384.4 507.5h0.9M385.7 511.4h0.9M389.1 509.7h0.9M389.2 510.2h0.9M380.9 506.0h0.9M381.9 510.2h0.9M383.4 516.7h0.9M379.7 504.7h0.9M390.0 513.5h0.9M388.3 511.4h0.9M394.3 508.2h0.9M375.8 506.6h0.9M391.2 503.4h0.9M385.2 509.4h0.9M382.9 511.0h0.9M388.8 516.6h0.9M389.0 506.4h0.9M381.3 505.6h0.9M391.2 506.5h0.9M384.5 511.1h0.9M380.3 507.5h0.9M381.3 510.0h0.9M392.8 508.4h0.9M386.7 509.1h0.9M392.1 511.6h0.9M386.8 505.0h0.9M390.9 509.8h0.9M393.0 508.4h0.9M397.7 507.2h0.9M395.4 508.9h0.9M381.6 504.6h0.9M384.0 513.5h0.9M390.3 510.9h0.9M388.6 506.6h0.9M380.9 508.5h0.9M396.2 504.8h0.9M382.2 513.3h0.9M382.1 507.2h0.9M385.6 504.2h0.9M386.4 504.3h0.9M390.8 508.5h0.9M393.9 503.9h0.9M384.2 509.6h0.9M396.3 502.6h0.9M391.4 510.6h0.9M395.0 511.0h0.9M385.3 506.7h0.9M376.9 509.2h0.9M383.8 515.6h0.9M381.0 509.6h0.9M374.8 507.1h0.9M386.7 511.4h0.9M394.4 508.3h0.9M377.7 510.1h0.9M388.4 510.2h0.9M380.4 512.5h0.9M385.6 510.9h0.9M393.3 510.6h0.9M386.9 516.0h0.9M386.6 507.5h0.9M385.7 513.7h0.9M385.8 510.3h0.9M392.8 506.7h0.9M386.5 506.4h0.9M390.7 510.6h0.9M378.5 510.3h0.9M383.7 503.3h0.9M387.9 508.3h0.9M380.2 510.3h0.9M388.2 506.5h0.9M387.6 512.1h0.9M380.4 509.8h0.9M385.0 516.4h0.9M383.0 508.1h0.9M397.4 508.5h0.9M387.3 506.8h0.9M380.5 508.7h0.9M383.2 509.2h0.9M383.9 514.6h0.9M378.5 509.5h0.9M375.3 506.6h0.9M388.1 510.9h0.9M393.4 507.6h0.9M374.6 507.0h0.9M393.1 510.1h0.9M394.1 515.9h0.9M388.7 509.6h0.9M376.9 505.5h0.9M385.3 510.3h0.9M388.8 506.8h0.9M377.5 505.8h0.9M377.5 510.8h0.9M387.9 513.8h0.9M385.5 512.0h0.9M382.4 505.9h0.9M380.6 513.8h0.9M391.5 510.2h0.9M389.0 509.6h0.9M383.6 516.6h0.9M394.8 503.6h0.9M382.4 510.0h0.9M390.1 503.8h0.9M384.5 508.1h0.9M387.2 505.8h0.9M377.0 501.4h0.9M387.1 509.8h0.9M391.5 511.3h0.9M383.8 513.2h0.9M384.1 506.2h0.9M381.6 506.5h0.9M386.6 507.2h0.9M380.4 509.8h0.9M396.2 508.6h0.9M381.7 506.4h0.9M384.5 504.1h0.9M384.2 508.7h0.9M397.0 511.8h0.9M391.7 506.0h0.9M389.4 504.5h0.9M387.0 510.0h0.9M380.0 515.5h0.9M388.7 501.8h0.9M388.6 507.1h0.9M385.0 510.1h0.9M387.5 501.4h0.9M377.5 511.2h0.9M393.5 515.2h0.9" stroke="#3228a0" stroke-width="0.9" opacity="0.8" fill="none"/>
<g>
<g filter="url(#bl10)" opacity="0.75">
<ellipse cx="367.50" cy="522.00" rx="4.50" ry="9.00" fill="#3a2fae"/>
<ellipse cx="367.50" cy="522.00" rx="2.48" ry="4.95" fill="#3a5ad0"/>
</g></g>
<g>
<g filter="url(#bl9)">
<ellipse cx="366.60" cy="510.80" rx="6.80" ry="7.50" fill="#3a2a9c"/>
<ellipse cx="366.58" cy="510.80" rx="5.17" ry="5.70" fill="#2f55d2"/>
<ellipse cx="366.56" cy="510.80" rx="3.74" ry="4.12" fill="#22aee0"/>
<ellipse cx="366.53" cy="510.80" rx="2.24" ry="2.48" fill="#2fbf55"/>
</g></g>
<g>
<g filter="url(#bl9)">
<ellipse cx="384.50" cy="508.80" rx="8.00" ry="5.60" fill="#3a2a9c"/>
<ellipse cx="384.66" cy="508.82" rx="6.40" ry="4.48" fill="#2f55d2"/>
<ellipse cx="384.82" cy="508.84" rx="4.80" ry="3.36" fill="#22aee0"/>
<ellipse cx="384.98" cy="508.86" rx="3.20" ry="2.24" fill="#2fbf55"/>
</g></g>
<g>
<g filter="url(#bl9)" transform="rotate(-25 369.00 538.50)">
<ellipse cx="369.00" cy="538.50" rx="9.30" ry="9.60" fill="#3a2a9c"/>
<ellipse cx="368.75" cy="538.70" rx="7.63" ry="7.87" fill="#2f55d2"/>
<ellipse cx="368.52" cy="538.87" rx="6.14" ry="6.34" fill="#22aee0"/>
<ellipse cx="368.33" cy="539.03" rx="4.84" ry="4.99" fill="#2fbf55"/>
<ellipse cx="368.15" cy="539.17" rx="3.63" ry="3.74" fill="#d8e42a"/>
<ellipse cx="367.98" cy="539.30" rx="2.51" ry="2.59" fill="#f08a1c"/>
<ellipse cx="367.81" cy="539.44" rx="1.40" ry="1.44" fill="#e2231c"/>
</g></g>
<rect x="355.50" y="499.20" width="20.30" height="27.80" fill="none" stroke="#8c8c8c" stroke-width="0.8"/>
<polyline points="375.8,515.1 375.8,497.7 400.7,497.7 392.7,515.1 376,516.5" fill="none" stroke="#8c8c8c" stroke-width="0.8"/>
<text x="355.00" y="494.80" font-size="6.6" fill="#2a2a2a">15%</text>
<text x="379.00" y="494.80" font-size="6.6" fill="#2a2a2a">17%</text>
<rect x="434.70" y="482.50" width="77.20" height="68.90" fill="none" stroke="#b0b0b0" stroke-width="0.9"/>
<line x1="434.70" y1="482.50" x2="434.70" y2="551.40" stroke="#888" stroke-width="0.9"/>
<line x1="434.70" y1="551.40" x2="511.90" y2="551.40" stroke="#888" stroke-width="0.9"/>
<rect x="433.20" y="538.60" width="1.60" height="2.80" fill="#333"/>
<rect x="453.90" y="551.30" width="3.20" height="1.60" fill="#333"/>
<line x1="433.20" y1="486.50" x2="434.70" y2="486.50" stroke="#666" stroke-width="0.6"/>
<line x1="433.20" y1="494.36" x2="434.70" y2="494.36" stroke="#666" stroke-width="0.6"/>
<line x1="433.20" y1="502.23" x2="434.70" y2="502.23" stroke="#666" stroke-width="0.6"/>
<line x1="433.20" y1="510.09" x2="434.70" y2="510.09" stroke="#666" stroke-width="0.6"/>
<line x1="433.20" y1="517.95" x2="434.70" y2="517.95" stroke="#666" stroke-width="0.6"/>
<line x1="433.20" y1="525.81" x2="434.70" y2="525.81" stroke="#666" stroke-width="0.6"/>
<line x1="433.20" y1="533.67" x2="434.70" y2="533.67" stroke="#666" stroke-width="0.6"/>
<line x1="433.20" y1="541.54" x2="434.70" y2="541.54" stroke="#666" stroke-width="0.6"/>
<line x1="433.20" y1="549.40" x2="434.70" y2="549.40" stroke="#666" stroke-width="0.6"/>
<line x1="438.70" y1="551.40" x2="438.70" y2="552.90" stroke="#666" stroke-width="0.6"/>
<line x1="447.60" y1="551.40" x2="447.60" y2="552.90" stroke="#666" stroke-width="0.6"/>
<line x1="456.50" y1="551.40" x2="456.50" y2="552.90" stroke="#666" stroke-width="0.6"/>
<line x1="465.40" y1="551.40" x2="465.40" y2="552.90" stroke="#666" stroke-width="0.6"/>
<line x1="474.30" y1="551.40" x2="474.30" y2="552.90" stroke="#666" stroke-width="0.6"/>
<line x1="483.20" y1="551.40" x2="483.20" y2="552.90" stroke="#666" stroke-width="0.6"/>
<line x1="492.10" y1="551.40" x2="492.10" y2="552.90" stroke="#666" stroke-width="0.6"/>
<line x1="501.00" y1="551.40" x2="501.00" y2="552.90" stroke="#666" stroke-width="0.6"/>
<line x1="509.90" y1="551.40" x2="509.90" y2="552.90" stroke="#666" stroke-width="0.6"/>
<path d="M455.2 516.5h1.0M460.0 514.7h1.0M456.7 530.3h1.0M453.4 526.1h1.0M453.1 515.4h1.0M457.2 527.7h1.0M459.3 514.6h1.0M451.7 516.9h1.0M460.8 518.4h1.0M452.9 523.1h1.0M453.0 515.6h1.0M451.9 522.1h1.0M451.9 519.5h1.0M450.6 517.5h1.0M456.4 520.2h1.0M456.7 513.2h1.0M454.1 516.7h1.0M462.1 521.6h1.0M455.3 514.8h1.0M455.7 514.4h1.0M457.0 519.6h1.0M455.9 533.9h1.0M457.1 528.4h1.0M454.6 527.0h1.0M457.1 529.2h1.0M462.3 527.2h1.0M462.6 522.6h1.0M457.2 525.2h1.0M453.6 524.6h1.0M457.1 531.8h1.0M452.9 522.9h1.0M461.9 530.7h1.0M457.0 514.4h1.0M452.7 528.3h1.0M453.7 529.0h1.0M461.2 524.8h1.0M460.2 529.4h1.0M457.1 519.9h1.0M452.6 516.9h1.0M451.2 515.6h1.0M456.6 525.1h1.0M454.9 512.7h1.0M450.3 518.8h1.0M453.8 521.4h1.0M454.2 519.3h1.0M452.4 522.6h1.0M453.2 530.8h1.0M454.1 517.2h1.0M457.3 520.1h1.0M462.1 517.4h1.0M453.4 527.5h1.0M453.1 522.1h1.0M451.2 525.4h1.0M454.8 528.0h1.0M452.0 516.4h1.0M453.8 521.2h1.0M459.7 523.3h1.0M462.3 513.9h1.0M463.3 523.0h1.0M452.6 530.7h1.0M454.8 523.2h1.0M456.2 531.8h1.0M452.8 530.4h1.0M455.0 527.0h1.0M460.1 530.0h1.0M450.8 529.2h1.0M454.4 519.2h1.0M456.1 527.7h1.0M458.0 524.3h1.0M454.1 528.6h1.0M462.8 514.6h1.0M453.9 523.8h1.0M455.5 518.4h1.0M452.4 527.2h1.0M457.8 518.4h1.0M454.8 532.0h1.0M459.1 529.0h1.0M454.1 520.2h1.0M456.4 515.8h1.0M455.4 528.9h1.0M460.4 515.0h1.0M457.3 523.9h1.0M451.0 511.5h1.0M458.0 527.8h1.0M460.7 521.6h1.0M462.2 516.3h1.0M456.6 524.7h1.0M455.1 526.4h1.0M456.9 528.7h1.0M459.0 518.7h1.0M458.0 531.5h1.0M462.4 521.4h1.0M451.7 517.7h1.0M452.7 514.1h1.0M452.9 529.9h1.0M453.1 516.6h1.0M456.6 524.6h1.0M453.2 514.1h1.0M451.3 518.3h1.0M454.8 520.7h1.0M458.9 521.3h1.0M458.5 521.2h1.0M451.3 519.3h1.0M451.0 514.1h1.0M460.7 523.0h1.0M449.0 531.9h1.0M455.1 513.0h1.0M455.6 524.6h1.0M460.4 529.9h1.0M462.9 517.5h1.0M454.1 518.4h1.0M454.7 526.2h1.0M455.9 531.8h1.0M452.5 516.7h1.0M450.9 527.3h1.0M458.0 521.4h1.0M454.0 530.8h1.0M460.0 520.0h1.0M449.6 531.2h1.0M451.5 530.4h1.0M460.8 516.5h1.0M458.2 531.7h1.0M447.5 526.5h1.0M460.4 533.2h1.0M448.0 517.8h1.0M459.3 530.8h1.0M462.0 532.7h1.0M458.0 524.5h1.0M460.2 529.1h1.0M459.3 522.7h1.0M458.5 512.8h1.0M459.1 525.0h1.0M463.3 514.6h1.0M451.0 526.3h1.0M453.5 521.1h1.0M454.4 515.5h1.0M453.8 529.2h1.0M456.4 519.8h1.0M455.5 514.9h1.0M460.6 514.8h1.0M453.9 522.6h1.0M460.8 532.3h1.0M460.9 514.1h1.0M458.0 515.3h1.0M453.2 533.6h1.0M452.5 527.8h1.0M462.5 526.7h1.0M459.0 527.7h1.0M457.7 524.8h1.0M453.5 518.5h1.0M460.7 518.9h1.0M457.5 525.0h1.0M459.4 517.7h1.0M457.8 517.2h1.0M452.5 521.8h1.0M452.2 517.5h1.0M456.5 515.9h1.0M458.7 531.2h1.0M451.8 528.0h1.0M452.8 524.7h1.0M453.2 524.6h1.0M459.0 513.3h1.0M460.7 523.6h1.0M459.8 513.0h1.0M460.4 529.6h1.0M452.7 521.1h1.0M453.3 519.2h1.0M462.8 521.3h1.0M459.9 528.4h1.0M451.4 525.8h1.0M460.1 522.4h1.0M462.3 531.1h1.0M450.9 516.1h1.0M461.6 511.9h1.0M460.6 529.8h1.0M460.9 516.7h1.0M458.9 520.2h1.0M454.4 518.4h1.0M454.7 529.0h1.0M453.4 511.0h1.0M456.2 529.7h1.0M458.1 528.5h1.0M451.8 517.7h1.0M452.5 528.6h1.0M457.5 526.1h1.0M451.4 532.7h1.0M456.0 523.6h1.0M454.0 525.5h1.0M450.5 515.2h1.0M455.6 520.3h1.0M457.6 525.4h1.0M455.1 523.2h1.0M454.8 512.7h1.0M460.7 526.5h1.0M461.3 523.7h1.0M456.2 532.3h1.0M448.9 529.7h1.0M461.0 526.5h1.0M460.4 513.9h1.0M458.4 513.3h1.0M452.9 522.6h1.0M455.6 527.6h1.0M458.7 521.7h1.0M459.5 528.6h1.0M451.9 524.0h1.0M453.2 512.3h1.0M453.6 527.6h1.0M455.0 525.2h1.0M457.2 527.9h1.0M453.6 523.0h1.0M457.5 532.4h1.0M460.5 525.0h1.0M452.9 523.5h1.0M455.4 523.0h1.0M455.2 515.3h1.0M457.4 516.9h1.0M457.4 523.2h1.0M456.4 528.4h1.0M459.1 520.3h1.0M459.2 522.0h1.0M455.2 519.8h1.0M461.9 521.7h1.0M452.8 530.5h1.0M452.8 520.4h1.0M453.1 516.0h1.0M457.2 514.7h1.0M451.1 526.3h1.0M461.6 517.2h1.0M452.6 523.4h1.0M461.7 517.7h1.0M454.6 520.9h1.0M460.6 522.0h1.0M460.0 527.7h1.0M454.1 530.6h1.0M450.6 523.4h1.0M459.3 518.9h1.0M458.5 525.4h1.0M459.0 517.1h1.0M458.7 529.7h1.0M450.1 519.5h1.0M461.3 529.3h1.0M458.9 524.1h1.0M450.6 530.5h1.0M457.7 516.6h1.0M456.5 521.9h1.0M459.3 530.7h1.0M455.6 515.0h1.0M459.5 514.0h1.0M456.1 522.6h1.0M454.1 520.7h1.0M455.8 530.2h1.0M451.7 512.9h1.0M460.9 528.8h1.0M448.9 520.5h1.0M451.8 518.9h1.0M457.0 523.5h1.0M457.1 515.4h1.0M449.4 524.7h1.0M455.2 520.8h1.0M452.5 527.0h1.0M455.4 527.9h1.0M460.5 516.5h1.0M454.5 532.4h1.0M456.1 517.6h1.0M453.9 531.6h1.0M455.9 519.5h1.0M449.8 529.6h1.0M449.0 523.3h1.0M461.2 521.4h1.0M451.2 524.5h1.0M454.8 527.7h1.0M462.1 521.8h1.0M457.9 513.0h1.0M456.5 519.0h1.0M456.7 526.5h1.0M459.1 513.0h1.0M454.0 521.6h1.0M461.1 525.3h1.0M457.8 516.7h1.0M455.3 517.7h1.0" stroke="#3228a0" stroke-width="1.0" opacity="0.85" fill="none"/>
<path d="M448.3 522.8h0.9M460.7 523.3h0.9M446.6 542.1h0.9M457.9 508.8h0.9M464.1 505.6h0.9M453.8 530.0h0.9M455.4 504.3h0.9M452.7 515.0h0.9M463.1 541.4h0.9M461.3 506.0h0.9M460.2 513.7h0.9M457.2 540.0h0.9M464.6 520.4h0.9M447.2 524.6h0.9M446.6 546.1h0.9M465.9 531.4h0.9M450.1 533.5h0.9M451.1 526.2h0.9M456.1 543.7h0.9M467.9 549.8h0.9M465.6 534.1h0.9M459.8 539.8h0.9M461.1 509.3h0.9M453.6 533.0h0.9M458.2 546.7h0.9M453.2 512.1h0.9M461.5 528.2h0.9M465.5 514.0h0.9M456.3 523.5h0.9M451.6 531.0h0.9M460.6 543.8h0.9M458.3 538.4h0.9M453.9 508.7h0.9M459.8 505.7h0.9M454.0 510.4h0.9M457.9 503.7h0.9M452.3 530.6h0.9M449.0 512.0h0.9M458.3 516.3h0.9M459.3 525.2h0.9M464.5 538.5h0.9M458.6 526.5h0.9M454.4 538.7h0.9M459.9 542.8h0.9M464.1 511.0h0.9M463.2 524.2h0.9M450.4 516.6h0.9M452.7 509.8h0.9M461.3 539.7h0.9M458.9 539.4h0.9M450.4 548.2h0.9M450.3 503.8h0.9M453.9 510.3h0.9M453.7 534.2h0.9M464.2 546.5h0.9M451.2 545.0h0.9M459.8 519.7h0.9M461.6 535.3h0.9M453.5 525.2h0.9M455.9 532.6h0.9M457.4 531.5h0.9M450.7 524.6h0.9M458.4 506.1h0.9M458.0 541.7h0.9M450.4 540.5h0.9M458.1 507.8h0.9M466.6 512.8h0.9M462.9 516.9h0.9M451.4 537.2h0.9M460.1 532.0h0.9M461.0 537.7h0.9M452.7 530.1h0.9M455.1 521.9h0.9M462.6 539.7h0.9M453.4 538.1h0.9M447.9 509.3h0.9M459.3 528.7h0.9M457.8 506.9h0.9M454.3 504.0h0.9M458.3 522.9h0.9M461.1 530.9h0.9M466.9 513.3h0.9M463.2 523.6h0.9M448.3 529.7h0.9M447.7 546.2h0.9M452.3 510.0h0.9M459.1 518.6h0.9M454.7 507.2h0.9M452.5 507.2h0.9M458.6 522.0h0.9M457.2 538.1h0.9M452.0 516.5h0.9M454.0 523.3h0.9M453.7 513.9h0.9M463.5 519.2h0.9M468.1 511.0h0.9M449.8 519.7h0.9M452.8 528.7h0.9M451.2 514.8h0.9M466.9 542.6h0.9M448.8 546.5h0.9M456.1 530.9h0.9M449.0 509.2h0.9M455.3 510.5h0.9M451.9 508.2h0.9M458.9 524.4h0.9M455.5 545.4h0.9M458.7 523.7h0.9M452.9 533.2h0.9M454.3 523.9h0.9M467.5 517.1h0.9M462.9 539.5h0.9M465.6 534.6h0.9M460.2 521.1h0.9M463.1 522.0h0.9M457.3 532.6h0.9M452.9 517.4h0.9M448.3 520.2h0.9M449.9 503.4h0.9M461.0 544.7h0.9M445.3 514.3h0.9M453.3 538.4h0.9M452.4 518.9h0.9M463.2 536.3h0.9M456.6 529.2h0.9M461.3 515.3h0.9M456.8 516.3h0.9M461.3 530.2h0.9M451.1 502.8h0.9M449.1 541.1h0.9M462.2 522.8h0.9M447.6 506.8h0.9M454.1 517.8h0.9M457.7 510.5h0.9M463.3 541.1h0.9M457.3 522.0h0.9M451.7 541.5h0.9M452.3 518.4h0.9M467.0 516.6h0.9M465.7 508.2h0.9M455.5 530.6h0.9M445.5 526.6h0.9M444.0 531.9h0.9M456.3 524.5h0.9M466.9 528.8h0.9M449.7 508.6h0.9M450.5 531.7h0.9M454.6 504.3h0.9M451.9 537.1h0.9M464.8 527.9h0.9M459.6 540.8h0.9M455.9 519.1h0.9M460.2 514.6h0.9M453.6 506.3h0.9M463.9 520.8h0.9M454.2 539.8h0.9M465.0 531.3h0.9M448.0 540.9h0.9M456.6 534.2h0.9M460.7 536.0h0.9M455.7 541.0h0.9M450.1 503.1h0.9M460.7 516.1h0.9M460.2 507.1h0.9M447.9 516.5h0.9M460.1 511.3h0.9M465.6 514.7h0.9M448.8 548.9h0.9M462.4 528.0h0.9M447.9 528.2h0.9M459.1 549.7h0.9M454.3 519.9h0.9M454.1 536.5h0.9M449.7 527.1h0.9M461.4 529.9h0.9M449.5 535.7h0.9M447.9 540.6h0.9M450.7 547.0h0.9M452.9 525.4h0.9M461.4 530.5h0.9M450.5 518.8h0.9M453.9 536.6h0.9M460.1 504.0h0.9M448.9 538.6h0.9M466.2 532.9h0.9M467.9 533.3h0.9M464.7 526.8h0.9M464.9 549.6h0.9M455.6 502.2h0.9M459.0 506.5h0.9M453.3 532.2h0.9M462.6 527.2h0.9M450.6 527.5h0.9M456.9 542.9h0.9M459.7 508.7h0.9M460.7 506.7h0.9M462.2 518.6h0.9M450.9 542.6h0.9M456.2 521.2h0.9M449.4 506.3h0.9M467.2 521.1h0.9M446.9 538.9h0.9M450.0 550.8h0.9M456.2 549.3h0.9M448.9 529.9h0.9M461.2 506.9h0.9M450.4 534.1h0.9M447.9 519.1h0.9M457.7 514.7h0.9M462.9 509.9h0.9M449.4 516.8h0.9M452.8 518.5h0.9M454.5 520.0h0.9M448.8 531.4h0.9M451.2 546.4h0.9M452.3 528.9h0.9M458.0 536.7h0.9M463.8 538.8h0.9M451.2 536.2h0.9M462.2 526.4h0.9" stroke="#6a5cc8" stroke-width="0.9" opacity="0.6" fill="none"/>
<path d="M466.1 515.9h0.9M484.4 520.2h0.9M478.7 522.5h0.9M479.6 524.8h0.9M471.0 522.9h0.9M469.8 519.5h0.9M468.3 526.2h0.9M478.8 517.0h0.9M474.3 523.9h0.9M469.5 526.5h0.9M482.4 520.2h0.9M481.4 524.9h0.9M471.5 517.5h0.9M469.9 523.2h0.9M466.1 515.5h0.9M469.0 516.8h0.9M468.3 520.6h0.9M479.1 519.6h0.9M477.6 515.2h0.9M471.2 523.4h0.9M464.9 528.1h0.9M477.1 519.4h0.9M476.2 519.3h0.9M475.5 522.0h0.9M466.0 520.1h0.9M474.6 526.4h0.9M471.3 525.4h0.9M476.5 526.4h0.9M476.6 528.6h0.9M468.5 521.1h0.9M478.4 524.1h0.9M462.1 512.1h0.9M480.5 513.0h0.9M479.9 530.4h0.9M468.5 523.0h0.9M478.4 516.8h0.9M468.0 522.9h0.9M464.7 528.8h0.9M471.0 517.8h0.9M471.2 520.4h0.9M469.1 525.7h0.9M485.0 528.6h0.9M465.0 513.6h0.9M468.9 527.6h0.9M476.4 524.3h0.9M462.4 522.0h0.9M476.3 524.1h0.9M464.7 517.8h0.9M476.2 520.1h0.9M477.1 516.3h0.9M482.1 521.4h0.9M480.7 521.7h0.9M467.6 516.6h0.9M466.1 520.5h0.9M467.2 518.2h0.9M474.5 527.4h0.9M478.4 524.2h0.9M484.3 528.8h0.9M468.6 520.0h0.9M487.8 522.9h0.9M466.3 524.9h0.9M476.8 517.0h0.9M474.8 526.0h0.9M475.2 515.8h0.9M472.6 517.8h0.9M483.3 522.7h0.9M461.3 514.8h0.9M467.7 524.7h0.9M478.7 524.1h0.9M476.0 519.6h0.9M485.6 523.1h0.9M473.0 520.7h0.9M470.3 523.3h0.9M471.5 520.9h0.9M475.0 524.3h0.9M480.8 521.8h0.9M486.8 521.9h0.9M464.4 519.0h0.9M473.7 527.6h0.9M476.6 528.0h0.9M473.8 520.9h0.9M480.3 526.6h0.9M472.7 516.8h0.9M476.0 519.4h0.9M476.1 528.0h0.9M472.9 525.5h0.9M472.1 529.4h0.9M473.0 518.4h0.9M473.0 520.8h0.9M477.6 523.8h0.9M467.7 517.9h0.9M479.0 521.5h0.9M474.2 532.3h0.9M470.1 517.8h0.9M475.5 512.4h0.9M477.2 515.2h0.9M469.0 522.4h0.9M482.6 532.7h0.9M471.1 525.9h0.9M475.1 520.9h0.9M481.1 524.6h0.9M473.9 531.4h0.9M472.8 520.1h0.9M463.7 516.2h0.9M470.0 524.8h0.9M476.1 521.8h0.9M471.6 523.9h0.9M466.6 518.0h0.9M471.5 523.3h0.9M476.8 531.1h0.9M466.2 512.5h0.9M473.3 515.6h0.9M474.9 521.5h0.9M470.6 517.4h0.9M481.6 529.8h0.9M481.4 529.5h0.9M466.3 527.8h0.9M478.0 527.8h0.9M480.4 526.3h0.9M470.1 515.4h0.9M469.6 516.6h0.9M470.4 524.8h0.9M477.6 521.1h0.9M485.2 526.0h0.9M481.9 523.5h0.9M470.7 519.7h0.9M476.4 526.4h0.9M466.1 517.8h0.9M480.3 527.7h0.9M467.5 522.5h0.9M479.1 531.3h0.9M480.1 518.4h0.9M473.5 523.1h0.9M481.6 525.9h0.9M479.4 524.6h0.9M475.0 520.8h0.9M478.7 530.0h0.9M472.6 517.2h0.9M465.9 515.4h0.9M472.8 522.4h0.9M468.1 519.5h0.9M477.0 523.9h0.9M469.4 518.7h0.9M468.8 520.7h0.9M470.3 529.0h0.9M476.6 516.4h0.9M487.6 531.8h0.9M462.2 512.7h0.9M472.7 513.2h0.9M467.1 530.7h0.9M473.2 519.5h0.9M478.4 525.9h0.9M472.0 517.2h0.9M463.1 521.5h0.9M472.3 523.1h0.9M467.1 520.2h0.9M472.4 519.5h0.9M488.8 520.4h0.9M476.0 517.5h0.9M472.7 523.4h0.9M464.7 525.7h0.9M484.5 527.6h0.9M464.5 515.0h0.9M467.3 523.7h0.9M470.8 530.0h0.9M467.9 528.9h0.9M474.3 519.0h0.9M478.0 530.1h0.9M465.6 523.0h0.9M477.8 522.1h0.9M474.8 529.0h0.9M473.8 515.9h0.9M478.9 527.0h0.9M469.9 524.7h0.9M463.8 522.1h0.9M466.2 526.5h0.9M466.5 515.2h0.9M479.2 533.0h0.9M466.3 518.4h0.9M484.0 525.8h0.9M478.7 525.2h0.9M482.9 528.0h0.9M479.9 515.6h0.9M473.0 523.2h0.9M472.7 521.8h0.9M471.2 512.5h0.9M470.8 526.9h0.9M469.9 526.4h0.9M469.3 524.1h0.9M469.6 513.1h0.9M477.5 525.1h0.9M478.7 525.3h0.9M466.4 519.9h0.9M467.7 524.2h0.9M483.7 518.7h0.9M479.2 525.2h0.9M470.0 523.1h0.9M469.8 517.1h0.9M476.4 526.4h0.9M479.3 518.3h0.9M470.8 517.3h0.9M478.9 521.0h0.9M469.3 523.4h0.9M466.7 521.1h0.9M467.5 523.4h0.9M467.1 519.4h0.9M472.4 525.7h0.9" stroke="#6a5cc8" stroke-width="0.9" opacity="0.6" fill="none"/>
<path d="M467.2 510.9h0.9M476.6 506.8h0.9M474.2 509.3h0.9M474.6 508.8h0.9M478.3 512.0h0.9M484.0 508.1h0.9M469.2 511.0h0.9M471.9 505.6h0.9M485.2 511.5h0.9M471.7 507.4h0.9M476.6 509.2h0.9M477.0 508.1h0.9M480.3 509.3h0.9M475.9 511.0h0.9M474.0 509.6h0.9M468.5 502.8h0.9M472.3 508.9h0.9M471.6 502.9h0.9M470.7 505.9h0.9M478.4 504.2h0.9M467.2 506.2h0.9M474.8 512.3h0.9M476.7 503.4h0.9M467.2 513.8h0.9M475.0 507.6h0.9M476.5 510.6h0.9M484.8 509.0h0.9M469.1 505.0h0.9M480.1 508.4h0.9M475.0 510.1h0.9M467.3 514.1h0.9M472.2 507.7h0.9M472.1 508.9h0.9M471.6 507.3h0.9M478.0 513.0h0.9M478.6 504.3h0.9M471.5 513.4h0.9M473.9 508.9h0.9M472.5 513.8h0.9M471.0 506.9h0.9M480.6 502.9h0.9M471.0 517.3h0.9M473.8 509.8h0.9M467.4 505.9h0.9M468.7 508.7h0.9M472.0 511.9h0.9M478.4 509.7h0.9M482.9 506.7h0.9M480.3 510.2h0.9M465.7 502.2h0.9M486.1 512.3h0.9M474.7 505.7h0.9M474.4 513.9h0.9M471.6 508.0h0.9M473.1 512.1h0.9M484.0 515.0h0.9M474.0 511.0h0.9M467.5 506.0h0.9M471.6 511.3h0.9M486.6 512.2h0.9M483.1 506.5h0.9M476.1 505.3h0.9M484.4 507.2h0.9M471.3 505.0h0.9M475.8 513.8h0.9M473.9 508.1h0.9M471.0 512.5h0.9M474.8 510.3h0.9M474.4 509.1h0.9M478.7 510.9h0.9M464.7 508.5h0.9M472.8 510.2h0.9M482.1 506.1h0.9M469.7 503.7h0.9M470.2 512.7h0.9M470.0 513.1h0.9M474.5 507.9h0.9M474.9 506.8h0.9M476.6 508.6h0.9M477.4 507.6h0.9M483.2 504.2h0.9M474.1 511.3h0.9M477.0 510.7h0.9M464.4 512.0h0.9M471.9 506.7h0.9M477.1 512.0h0.9M479.7 506.0h0.9M476.4 503.3h0.9M479.5 505.7h0.9M468.8 511.2h0.9M475.7 505.8h0.9M478.3 514.7h0.9M464.8 509.1h0.9M474.9 509.4h0.9M475.1 512.2h0.9M479.1 509.1h0.9M480.5 507.2h0.9M485.7 508.7h0.9M472.7 510.5h0.9M467.8 504.6h0.9M469.4 513.4h0.9M478.2 506.3h0.9M473.3 508.5h0.9M469.5 506.9h0.9M467.7 503.7h0.9M468.8 512.9h0.9M477.7 507.7h0.9M476.2 504.7h0.9M476.4 508.0h0.9M471.1 509.9h0.9M473.2 515.8h0.9M468.0 507.9h0.9M476.1 508.2h0.9M485.0 509.2h0.9M471.7 510.7h0.9M480.0 505.6h0.9M474.9 508.6h0.9M484.5 509.1h0.9M472.0 507.2h0.9M477.2 502.7h0.9M468.2 505.1h0.9M464.9 510.7h0.9M465.8 505.7h0.9M470.9 508.1h0.9M475.3 511.1h0.9M473.3 511.0h0.9M477.1 504.5h0.9M480.7 510.6h0.9M473.5 507.7h0.9M474.4 509.1h0.9M471.8 505.2h0.9M478.9 508.7h0.9M477.0 512.7h0.9M467.9 510.1h0.9M473.1 509.4h0.9M469.7 512.9h0.9M465.6 507.4h0.9M475.0 509.4h0.9M474.8 503.0h0.9M464.9 501.0h0.9M470.3 513.8h0.9M471.9 513.1h0.9M480.0 506.4h0.9M469.2 508.7h0.9M483.3 507.0h0.9M471.6 511.0h0.9" stroke="#3228a0" stroke-width="0.9" opacity="0.8" fill="none"/>
<g>
<g filter="url(#bl10)" opacity="0.75">
<ellipse cx="456.00" cy="522.00" rx="5.00" ry="9.00" fill="#3a2fae"/>
<ellipse cx="456.00" cy="522.00" rx="2.75" ry="4.95" fill="#3a5ad0"/>
</g></g>
<g>
<g filter="url(#bl9)">
<ellipse cx="455.50" cy="510.80" rx="6.30" ry="6.80" fill="#3a2a9c"/>
<ellipse cx="455.50" cy="510.80" rx="4.79" ry="5.17" fill="#2f55d2"/>
<ellipse cx="455.50" cy="510.80" rx="3.47" ry="3.74" fill="#22aee0"/>
<ellipse cx="455.50" cy="510.80" rx="2.08" ry="2.24" fill="#2fbf55"/>
</g></g>
<g>
<g filter="url(#bl9)">
<ellipse cx="473.30" cy="508.40" rx="8.00" ry="5.60" fill="#3a2a9c"/>
<ellipse cx="473.38" cy="508.36" rx="6.40" ry="4.48" fill="#2f55d2"/>
<ellipse cx="473.46" cy="508.32" rx="4.80" ry="3.36" fill="#22aee0"/>
<ellipse cx="473.53" cy="508.28" rx="3.36" ry="2.35" fill="#2fbf55"/>
<ellipse cx="473.60" cy="508.25" rx="2.00" ry="1.40" fill="#d8e42a"/>
</g></g>
<g>
<g filter="url(#bl9)" transform="rotate(-25 457.50 539.20)">
<ellipse cx="457.50" cy="539.20" rx="9.00" ry="9.00" fill="#3a2a9c"/>
<ellipse cx="457.23" cy="539.38" rx="7.38" ry="7.38" fill="#2f55d2"/>
<ellipse cx="456.99" cy="539.54" rx="5.94" ry="5.94" fill="#22aee0"/>
<ellipse cx="456.78" cy="539.68" rx="4.68" ry="4.68" fill="#2fbf55"/>
<ellipse cx="456.58" cy="539.81" rx="3.51" ry="3.51" fill="#d8e42a"/>
<ellipse cx="456.40" cy="539.93" rx="2.43" ry="2.43" fill="#f08a1c"/>
<ellipse cx="456.23" cy="540.05" rx="1.35" ry="1.35" fill="#e2231c"/>
</g></g>
<rect x="444.50" y="499.20" width="19.00" height="28.50" fill="none" stroke="#8c8c8c" stroke-width="0.8"/>
<polyline points="464.5,514.6 464.5,497.7 489.7,497.7 480.2,514.6 465,515.5" fill="none" stroke="#8c8c8c" stroke-width="0.8"/>
<text x="443.40" y="495.50" font-size="6.6" fill="#2a2a2a">20%</text>
<text x="466.70" y="495.50" font-size="6.6" fill="#2a2a2a">30%</text>
<rect x="344.40" y="577.50" width="76.60" height="67.90" fill="none" stroke="#b0b0b0" stroke-width="0.9"/>
<line x1="344.40" y1="577.50" x2="344.40" y2="645.40" stroke="#888" stroke-width="0.9"/>
<line x1="344.40" y1="645.40" x2="421.00" y2="645.40" stroke="#888" stroke-width="0.9"/>
<rect x="342.90" y="630.60" width="1.60" height="2.80" fill="#333"/>
<rect x="358.60" y="645.30" width="3.20" height="1.60" fill="#333"/>
<line x1="342.90" y1="581.50" x2="344.40" y2="581.50" stroke="#666" stroke-width="0.6"/>
<line x1="342.90" y1="589.24" x2="344.40" y2="589.24" stroke="#666" stroke-width="0.6"/>
<line x1="342.90" y1="596.98" x2="344.40" y2="596.98" stroke="#666" stroke-width="0.6"/>
<line x1="342.90" y1="604.71" x2="344.40" y2="604.71" stroke="#666" stroke-width="0.6"/>
<line x1="342.90" y1="612.45" x2="344.40" y2="612.45" stroke="#666" stroke-width="0.6"/>
<line x1="342.90" y1="620.19" x2="344.40" y2="620.19" stroke="#666" stroke-width="0.6"/>
<line x1="342.90" y1="627.92" x2="344.40" y2="627.92" stroke="#666" stroke-width="0.6"/>
<line x1="342.90" y1="635.66" x2="344.40" y2="635.66" stroke="#666" stroke-width="0.6"/>
<line x1="342.90" y1="643.40" x2="344.40" y2="643.40" stroke="#666" stroke-width="0.6"/>
<line x1="348.40" y1="645.40" x2="348.40" y2="646.90" stroke="#666" stroke-width="0.6"/>
<line x1="357.22" y1="645.40" x2="357.22" y2="646.90" stroke="#666" stroke-width="0.6"/>
<line x1="366.05" y1="645.40" x2="366.05" y2="646.90" stroke="#666" stroke-width="0.6"/>
<line x1="374.88" y1="645.40" x2="374.88" y2="646.90" stroke="#666" stroke-width="0.6"/>
<line x1="383.70" y1="645.40" x2="383.70" y2="646.90" stroke="#666" stroke-width="0.6"/>
<line x1="392.52" y1="645.40" x2="392.52" y2="646.90" stroke="#666" stroke-width="0.6"/>
<line x1="401.35" y1="645.40" x2="401.35" y2="646.90" stroke="#666" stroke-width="0.6"/>
<line x1="410.18" y1="645.40" x2="410.18" y2="646.90" stroke="#666" stroke-width="0.6"/>
<line x1="419.00" y1="645.40" x2="419.00" y2="646.90" stroke="#666" stroke-width="0.6"/>
<path d="M381.8 622.0h0.9M388.9 626.6h0.9M372.3 630.6h0.9M382.4 621.9h0.9M389.2 629.2h0.9M371.9 606.7h0.9M375.1 630.2h0.9M362.4 620.9h0.9M363.9 601.4h0.9M364.7 625.8h0.9M365.0 598.4h0.9M364.8 628.4h0.9M381.7 624.9h0.9M371.4 615.3h0.9M369.9 623.4h0.9M365.4 630.0h0.9M368.3 597.2h0.9M394.1 616.6h0.9M378.8 625.2h0.9M367.9 622.1h0.9M372.5 609.7h0.9M380.8 616.8h0.9M372.4 628.0h0.9M365.5 623.1h0.9M365.1 614.5h0.9M374.6 610.4h0.9M386.7 623.9h0.9M362.1 627.4h0.9M367.8 610.2h0.9M370.8 624.9h0.9M376.8 610.6h0.9M380.8 623.3h0.9M386.3 630.5h0.9M381.6 612.1h0.9M376.3 622.4h0.9M367.3 609.6h0.9M377.9 616.4h0.9M393.3 615.6h0.9M375.3 606.6h0.9M392.5 625.7h0.9M377.4 605.9h0.9M366.4 621.9h0.9M365.2 606.0h0.9M372.3 622.4h0.9M378.1 625.3h0.9M374.6 622.2h0.9M364.6 596.8h0.9M390.0 606.5h0.9M369.2 608.9h0.9M365.2 607.0h0.9M364.6 610.9h0.9M368.4 611.8h0.9M367.2 626.7h0.9M380.1 617.8h0.9M380.8 611.8h0.9M363.6 619.4h0.9M373.8 626.3h0.9M394.7 626.8h0.9M369.7 600.4h0.9M368.1 603.2h0.9M372.6 631.8h0.9M366.8 615.0h0.9M397.5 620.2h0.9M369.0 602.0h0.9M362.2 610.5h0.9M381.2 611.5h0.9M373.8 606.7h0.9M364.8 617.9h0.9M383.1 625.6h0.9M388.2 624.4h0.9M381.8 629.2h0.9M371.0 613.3h0.9M389.3 595.1h0.9M391.3 612.5h0.9M377.4 626.4h0.9M362.7 614.3h0.9M392.8 632.0h0.9M375.7 621.1h0.9M385.8 593.8h0.9M362.3 624.7h0.9M367.9 608.3h0.9M379.0 631.3h0.9M393.4 629.4h0.9M368.7 612.3h0.9M365.3 619.4h0.9M362.9 617.3h0.9M392.1 624.8h0.9M381.9 622.4h0.9M368.0 606.5h0.9M364.5 602.1h0.9M378.2 613.8h0.9M367.7 621.2h0.9M383.4 618.8h0.9M381.8 613.0h0.9M364.1 627.7h0.9M378.0 614.5h0.9M382.6 629.3h0.9M362.1 623.0h0.9M384.4 615.9h0.9M367.7 620.0h0.9M364.7 612.3h0.9M372.0 603.5h0.9M367.5 604.3h0.9M365.3 597.4h0.9M379.9 630.2h0.9M381.4 627.5h0.9M380.4 620.9h0.9M375.5 611.9h0.9M374.9 625.3h0.9M368.4 622.4h0.9M382.4 629.9h0.9M362.3 628.5h0.9M381.6 612.1h0.9M362.6 610.7h0.9M377.5 608.3h0.9M378.8 613.8h0.9M372.0 626.8h0.9M364.8 600.1h0.9M375.7 616.4h0.9M363.0 611.6h0.9M362.1 621.0h0.9M383.6 629.3h0.9M373.4 607.2h0.9M394.5 623.0h0.9M375.8 623.0h0.9M368.3 628.3h0.9M369.1 600.3h0.9M370.2 618.3h0.9M366.5 607.1h0.9M362.6 602.1h0.9M398.0 608.7h0.9M372.8 612.8h0.9M367.7 631.9h0.9M368.1 619.2h0.9M369.1 628.8h0.9M367.5 598.1h0.9M363.1 606.6h0.9M365.5 612.5h0.9M368.0 613.3h0.9M364.7 598.8h0.9M370.2 599.1h0.9M378.8 625.6h0.9M365.3 596.2h0.9M382.8 629.1h0.9M370.4 628.2h0.9M397.0 593.2h0.9M379.5 612.9h0.9M365.0 626.1h0.9M374.9 624.4h0.9M378.5 622.7h0.9M392.1 625.9h0.9M374.4 611.5h0.9M374.6 622.0h0.9M386.1 599.5h0.9M374.8 594.8h0.9M366.6 629.1h0.9M379.2 618.0h0.9M365.3 618.5h0.9M381.9 629.7h0.9M370.9 625.4h0.9M370.1 631.5h0.9M366.2 599.2h0.9M385.5 627.6h0.9M364.0 603.7h0.9M371.4 620.7h0.9M375.4 627.8h0.9M367.3 620.7h0.9M388.5 605.6h0.9M378.0 621.6h0.9M362.6 604.9h0.9M366.2 604.1h0.9M365.3 607.8h0.9M363.2 603.8h0.9M375.4 618.6h0.9M364.4 595.7h0.9M371.1 608.6h0.9M379.0 624.0h0.9M377.7 618.4h0.9M366.0 631.2h0.9M395.0 628.4h0.9M374.4 618.9h0.9M382.7 616.4h0.9M369.2 610.5h0.9M373.0 609.4h0.9M364.5 593.8h0.9M378.4 631.8h0.9M366.4 605.9h0.9M388.6 623.7h0.9M364.3 601.5h0.9M371.4 624.0h0.9M382.8 597.6h0.9M396.0 599.0h0.9M377.2 610.6h0.9M364.2 608.5h0.9M370.0 612.6h0.9M370.2 603.2h0.9M383.7 622.7h0.9M376.2 610.9h0.9M365.6 630.8h0.9M374.7 607.2h0.9M376.9 611.6h0.9M383.6 626.9h0.9M373.3 605.3h0.9M374.7 626.1h0.9M396.0 607.9h0.9M397.9 618.0h0.9M385.6 627.1h0.9M362.3 623.9h0.9M371.5 615.2h0.9M386.8 624.1h0.9M366.0 592.4h0.9M384.0 616.6h0.9M372.5 622.0h0.9M365.7 613.0h0.9M377.4 615.9h0.9M375.7 625.7h0.9M369.7 601.3h0.9M377.7 631.6h0.9M385.5 623.4h0.9M364.4 611.8h0.9M371.0 612.0h0.9M365.8 604.8h0.9M370.3 612.7h0.9M395.4 599.6h0.9M385.1 629.3h0.9M395.2 629.6h0.9M365.2 620.0h0.9M368.4 620.1h0.9M383.7 623.4h0.9M362.2 612.4h0.9M386.3 629.0h0.9M367.9 625.4h0.9M368.8 629.4h0.9M362.0 619.1h0.9M377.3 608.4h0.9M363.0 631.1h0.9M396.0 613.2h0.9M382.6 615.0h0.9M387.3 618.6h0.9M369.3 608.6h0.9M385.8 629.3h0.9M364.7 618.9h0.9M367.5 604.9h0.9M388.4 627.1h0.9M366.6 612.1h0.9M376.0 614.2h0.9M371.7 611.9h0.9M380.4 592.4h0.9M372.5 623.3h0.9M386.8 619.6h0.9M389.6 624.6h0.9M383.8 620.9h0.9M372.8 618.5h0.9M375.4 620.1h0.9M371.6 606.8h0.9M389.8 627.3h0.9M388.8 625.6h0.9M379.1 623.8h0.9M371.4 608.8h0.9M378.5 619.6h0.9M390.6 622.7h0.9M393.8 631.9h0.9M373.2 625.8h0.9M364.6 622.5h0.9M366.6 611.2h0.9M378.4 629.8h0.9M364.0 601.3h0.9M362.3 616.2h0.9M375.4 615.2h0.9M388.7 631.6h0.9M368.5 598.2h0.9M372.5 621.0h0.9M362.1 600.4h0.9M391.4 628.3h0.9M380.1 613.6h0.9M384.9 616.6h0.9M369.4 620.6h0.9M386.7 629.4h0.9M369.6 624.2h0.9M370.6 628.3h0.9M382.0 624.5h0.9M362.8 603.3h0.9M376.2 609.5h0.9M368.6 605.3h0.9M367.4 598.6h0.9M378.2 618.7h0.9M373.9 610.6h0.9M375.2 615.5h0.9M379.1 623.2h0.9M374.9 618.7h0.9M374.0 604.9h0.9M374.6 623.4h0.9M380.4 625.2h0.9M386.6 611.3h0.9M366.3 614.7h0.9M380.6 594.6h0.9M384.3 621.1h0.9M385.5 622.3h0.9M374.7 631.8h0.9M390.7 629.0h0.9M372.4 628.8h0.9M364.2 594.3h0.9M362.5 605.1h0.9M377.4 599.8h0.9M381.9 625.2h0.9M368.7 605.7h0.9M366.7 612.8h0.9M366.2 605.6h0.9M370.4 622.7h0.9M370.8 620.7h0.9M365.0 593.7h0.9M371.9 601.4h0.9M368.8 604.1h0.9M363.0 627.5h0.9M364.7 620.2h0.9M381.4 623.5h0.9M380.1 623.5h0.9M374.1 614.7h0.9M367.4 622.1h0.9M389.2 622.8h0.9M365.6 618.6h0.9M376.9 616.6h0.9M370.7 625.1h0.9M372.7 605.8h0.9M365.8 626.0h0.9M370.9 627.8h0.9M374.8 623.8h0.9M374.8 627.6h0.9M385.6 623.0h0.9M380.7 597.9h0.9M372.8 612.5h0.9M388.7 629.2h0.9M364.6 593.6h0.9M367.6 630.3h0.9M387.0 624.2h0.9M368.2 615.2h0.9M394.7 629.4h0.9M377.9 615.8h0.9M389.6 631.6h0.9M367.5 602.2h0.9M366.0 630.8h0.9M381.9 623.5h0.9M385.9 615.4h0.9M373.3 625.1h0.9M387.6 626.0h0.9M373.9 625.4h0.9M369.2 599.3h0.9M372.8 629.3h0.9M368.9 619.5h0.9M376.2 629.6h0.9M374.4 612.5h0.9M363.2 604.7h0.9M363.0 622.6h0.9M370.1 602.0h0.9M376.8 621.1h0.9M370.4 604.0h0.9M369.7 611.9h0.9M367.9 605.7h0.9M378.4 615.9h0.9M383.4 616.7h0.9M365.5 605.3h0.9M362.4 614.9h0.9M380.2 631.7h0.9M387.0 620.9h0.9M384.9 611.1h0.9M379.3 631.9h0.9M364.4 606.5h0.9M365.7 628.2h0.9M365.5 626.9h0.9M365.5 628.9h0.9M372.4 604.7h0.9M369.6 619.9h0.9M371.1 614.7h0.9M377.2 625.7h0.9M378.4 595.9h0.9M377.3 615.9h0.9M367.0 607.5h0.9M385.5 630.2h0.9M383.5 629.4h0.9M391.1 629.8h0.9M385.6 612.1h0.9M365.4 602.1h0.9M362.8 618.9h0.9M366.2 631.5h0.9M369.7 614.0h0.9M371.9 620.6h0.9M392.9 612.8h0.9M371.3 629.0h0.9M382.7 624.0h0.9M384.1 628.5h0.9M364.6 625.2h0.9M364.9 607.1h0.9M363.6 628.1h0.9M371.7 610.5h0.9M362.9 619.1h0.9M367.4 629.8h0.9M387.3 627.6h0.9M379.6 614.6h0.9M388.8 629.7h0.9M364.9 607.7h0.9M370.8 602.6h0.9M381.7 618.1h0.9M370.1 626.3h0.9M369.2 612.8h0.9M373.4 608.2h0.9M364.7 606.9h0.9M376.5 630.2h0.9M379.3 626.9h0.9M371.5 600.6h0.9M372.4 623.0h0.9M396.2 608.1h0.9M372.9 615.6h0.9M386.6 627.7h0.9M381.2 617.7h0.9M387.7 624.8h0.9M367.3 617.5h0.9M378.7 619.4h0.9M368.1 620.9h0.9M365.8 603.8h0.9M386.7 604.3h0.9" stroke="#4a40b8" stroke-width="0.9" opacity="0.6" fill="none"/>
<path d="M385.5 605.0h0.9M379.9 602.8h0.9M389.0 603.4h0.9M383.4 604.2h0.9M384.2 605.8h0.9M383.8 602.9h0.9M385.4 608.4h0.9M385.9 603.3h0.9M397.9 604.3h0.9M387.3 605.1h0.9M389.6 606.9h0.9M381.8 609.0h0.9M389.0 603.2h0.9M382.5 603.5h0.9M391.7 606.6h0.9M387.4 608.5h0.9M392.9 606.2h0.9M387.7 605.5h0.9M385.4 605.7h0.9M384.7 607.2h0.9M390.9 602.9h0.9M388.8 604.9h0.9M384.9 602.2h0.9M376.3 605.6h0.9M383.7 604.6h0.9M385.2 603.2h0.9M387.7 609.4h0.9M391.0 606.8h0.9M386.0 605.9h0.9M385.1 605.1h0.9M383.9 604.2h0.9M403.2 607.8h0.9M388.7 606.6h0.9M382.9 605.9h0.9M381.3 605.5h0.9M381.3 604.6h0.9M385.4 607.7h0.9M384.7 603.5h0.9M376.4 605.3h0.9M389.9 606.1h0.9M384.9 605.7h0.9M386.4 603.5h0.9M385.1 607.5h0.9M387.7 605.8h0.9M389.3 602.5h0.9M391.9 603.7h0.9M383.0 608.6h0.9M387.4 605.7h0.9M390.3 603.0h0.9M390.1 612.2h0.9M386.2 606.2h0.9M385.7 609.0h0.9M392.2 606.6h0.9M382.5 606.8h0.9M386.5 602.5h0.9M395.2 604.9h0.9M393.0 601.5h0.9M389.4 603.7h0.9M390.8 607.1h0.9M377.6 601.5h0.9M383.0 603.3h0.9M391.9 607.9h0.9M388.7 606.3h0.9M393.3 607.1h0.9M391.9 604.8h0.9M392.6 608.1h0.9M389.5 609.5h0.9M381.5 600.6h0.9M388.0 607.6h0.9M385.5 606.9h0.9M392.2 604.8h0.9M390.3 607.8h0.9M395.7 609.7h0.9M386.1 606.1h0.9M386.1 603.8h0.9M381.7 602.5h0.9M391.3 607.4h0.9M389.4 605.4h0.9M386.3 609.7h0.9M394.1 607.6h0.9M389.8 600.3h0.9M389.3 603.1h0.9M380.9 606.8h0.9M378.2 600.8h0.9M389.3 608.4h0.9M383.1 606.6h0.9M390.4 609.7h0.9M380.4 604.1h0.9M386.1 608.9h0.9M387.7 607.2h0.9M390.6 608.7h0.9M389.7 603.3h0.9M386.6 605.0h0.9M383.8 605.8h0.9M382.9 605.7h0.9M386.1 611.6h0.9M383.1 605.4h0.9M382.6 606.1h0.9M387.6 603.6h0.9M389.6 603.2h0.9M382.7 603.2h0.9M384.9 605.5h0.9M387.9 602.7h0.9M387.2 608.9h0.9M392.5 604.9h0.9M381.1 605.0h0.9M391.1 607.2h0.9M380.4 607.5h0.9M384.7 607.1h0.9M388.3 604.5h0.9M387.0 608.6h0.9M392.8 604.7h0.9M387.6 606.9h0.9M384.7 606.0h0.9M386.6 607.2h0.9M392.5 602.1h0.9M390.8 603.3h0.9M389.8 606.5h0.9M386.9 605.4h0.9M378.3 606.0h0.9" stroke="#2c2496" stroke-width="0.9" opacity="0.85" fill="none"/>
<g>
<g filter="url(#bl9)" opacity="0.8">
<ellipse cx="386.30" cy="606.00" rx="5.00" ry="3.00" fill="#3a30a8"/>
<ellipse cx="386.30" cy="606.00" rx="3.00" ry="1.80" fill="#3050c8"/>
</g></g>
<path d="M361.1 638.8h0.9M389.3 631.1h0.9M376.0 627.6h0.9M383.2 632.5h0.9M372.2 636.5h0.9M362.7 633.8h0.9M361.9 631.6h0.9M382.6 626.3h0.9M363.8 636.2h0.9M378.1 630.9h0.9M378.7 634.6h0.9M372.9 629.5h0.9M377.0 636.1h0.9M364.5 637.2h0.9M377.3 635.4h0.9M354.6 637.3h0.9M382.6 636.4h0.9M365.3 633.7h0.9M374.4 635.3h0.9M382.2 631.2h0.9M372.8 635.5h0.9M368.1 630.8h0.9M375.4 632.4h0.9M372.5 634.2h0.9M373.4 633.3h0.9M372.5 634.9h0.9M381.3 631.3h0.9M366.8 630.9h0.9M377.0 635.3h0.9M371.5 631.5h0.9M368.8 631.1h0.9M369.2 630.3h0.9M374.6 633.6h0.9M374.6 629.5h0.9M386.9 635.3h0.9M370.9 634.5h0.9M378.8 632.5h0.9M356.1 630.5h0.9M369.2 635.3h0.9M382.7 634.3h0.9M369.6 634.8h0.9M370.1 637.1h0.9M376.3 632.3h0.9M368.4 632.9h0.9M372.0 627.0h0.9M380.5 635.2h0.9M369.1 635.1h0.9M364.9 631.4h0.9M367.9 630.7h0.9M364.5 632.6h0.9M368.1 633.1h0.9M369.6 633.4h0.9M366.0 630.7h0.9M357.1 635.1h0.9M377.5 635.1h0.9M363.3 630.3h0.9M372.5 630.2h0.9M382.6 630.8h0.9M381.7 634.0h0.9M353.4 631.9h0.9M370.2 628.8h0.9M366.5 629.0h0.9M363.2 633.5h0.9M370.4 632.4h0.9M363.6 632.3h0.9M362.7 633.9h0.9M367.4 630.5h0.9M366.8 631.7h0.9M383.7 631.9h0.9M367.9 628.6h0.9M376.9 632.8h0.9M365.8 634.4h0.9M364.3 634.3h0.9M362.8 629.5h0.9M369.1 630.1h0.9M380.5 628.8h0.9M373.3 632.4h0.9M367.6 631.8h0.9M384.4 627.9h0.9M368.5 630.6h0.9M378.7 630.4h0.9M370.3 631.0h0.9M383.9 635.5h0.9M376.9 630.6h0.9M377.8 633.6h0.9M376.8 631.6h0.9M372.0 630.3h0.9M378.8 631.7h0.9M381.0 631.6h0.9M380.0 632.6h0.9M367.9 633.1h0.9M380.8 634.1h0.9M370.1 628.5h0.9M369.7 633.9h0.9M359.7 633.5h0.9M375.9 637.6h0.9M379.2 632.2h0.9M378.2 635.0h0.9M381.7 636.9h0.9M365.0 631.1h0.9M380.5 629.1h0.9M371.8 631.4h0.9M366.8 634.1h0.9M376.0 631.0h0.9M378.7 634.2h0.9M368.0 635.9h0.9M369.2 633.4h0.9M362.8 627.4h0.9M368.4 629.5h0.9M376.8 633.2h0.9M362.2 627.3h0.9M377.1 633.8h0.9M368.9 636.2h0.9M364.3 635.2h0.9M383.2 633.8h0.9M371.0 630.9h0.9M376.2 634.7h0.9M363.1 633.1h0.9M376.1 632.1h0.9M365.4 630.3h0.9M367.3 631.1h0.9M372.9 627.9h0.9M379.3 632.8h0.9M382.7 632.6h0.9M372.0 630.0h0.9M385.6 631.7h0.9M370.0 631.5h0.9M367.7 636.9h0.9M366.3 632.8h0.9M385.1 632.5h0.9M371.6 633.7h0.9M359.4 632.5h0.9M371.2 632.4h0.9M379.0 631.3h0.9M367.0 631.2h0.9M369.8 633.5h0.9M372.9 631.1h0.9M360.6 630.4h0.9M373.7 632.4h0.9M370.3 630.4h0.9M382.2 632.8h0.9M364.7 634.0h0.9M373.9 633.8h0.9M378.7 634.6h0.9M389.0 633.5h0.9M362.7 627.4h0.9M369.8 627.9h0.9M381.6 629.5h0.9M371.3 629.8h0.9M380.6 628.3h0.9M363.4 627.2h0.9M373.8 630.9h0.9M377.6 632.3h0.9M376.6 636.0h0.9M384.8 632.0h0.9M375.6 634.5h0.9M363.6 635.7h0.9M381.7 635.4h0.9M372.3 633.1h0.9M385.7 630.5h0.9M375.3 627.8h0.9M355.1 631.7h0.9M365.3 630.6h0.9M372.7 628.1h0.9M367.6 630.6h0.9M367.3 632.3h0.9M361.9 634.5h0.9M371.5 629.5h0.9M356.2 633.0h0.9M362.6 631.5h0.9M381.8 635.6h0.9M387.1 626.9h0.9M372.2 631.7h0.9M367.7 633.7h0.9M368.9 631.3h0.9M353.3 630.8h0.9M370.4 630.2h0.9M375.3 630.2h0.9M372.0 630.7h0.9M378.9 630.8h0.9M378.1 633.0h0.9M366.9 633.3h0.9M367.8 631.3h0.9M358.3 632.5h0.9M366.0 632.2h0.9M368.8 629.2h0.9M365.8 630.6h0.9M358.2 634.8h0.9M366.3 634.4h0.9M386.0 632.0h0.9M382.3 635.7h0.9M359.5 632.9h0.9M364.9 632.2h0.9M368.8 635.3h0.9M376.8 631.8h0.9M378.9 636.5h0.9M364.1 633.0h0.9M364.5 631.2h0.9M381.5 633.7h0.9M360.2 634.1h0.9M372.4 633.8h0.9M356.4 626.5h0.9M367.4 629.2h0.9M374.2 631.8h0.9M386.6 628.8h0.9M372.6 633.7h0.9M383.0 628.2h0.9M365.3 631.4h0.9M385.9 630.4h0.9M376.5 633.4h0.9M373.7 630.5h0.9M380.6 631.7h0.9M374.6 631.5h0.9M380.2 633.1h0.9M380.5 629.7h0.9M388.8 634.4h0.9M375.9 631.9h0.9M362.5 626.9h0.9" stroke="#3228a0" stroke-width="0.9" opacity="0.85" fill="none"/>
<g>
<g filter="url(#bl9)">
<ellipse cx="372.00" cy="632.50" rx="9.00" ry="3.50" fill="#3a2fae"/>
<ellipse cx="372.00" cy="632.50" rx="5.40" ry="2.10" fill="#2f4fd0"/>
</g></g>
<g>
<g filter="url(#bl9)">
<ellipse cx="386.50" cy="633.00" rx="9.00" ry="4.70" fill="#3a2a9c"/>
<ellipse cx="386.79" cy="633.04" rx="7.02" ry="3.67" fill="#2f55d2"/>
<ellipse cx="387.05" cy="633.08" rx="5.22" ry="2.73" fill="#22aee0"/>
<ellipse cx="387.28" cy="633.12" rx="3.60" ry="1.88" fill="#2fbf55"/>
<ellipse cx="387.49" cy="633.15" rx="2.16" ry="1.13" fill="#d8e42a"/>
</g></g>
<g>
<g filter="url(#bl9)">
<ellipse cx="360.00" cy="621.00" rx="3.50" ry="4.00" fill="#3a2fae"/>
<ellipse cx="360.00" cy="621.00" rx="2.10" ry="2.40" fill="#2f4fd0"/>
</g></g>
<g>
<g filter="url(#bl9)">
<ellipse cx="360.10" cy="630.60" rx="6.00" ry="7.50" fill="#3a2a9c"/>
<ellipse cx="359.96" cy="630.60" rx="4.80" ry="6.00" fill="#2f55d2"/>
<ellipse cx="359.83" cy="630.60" rx="3.72" ry="4.65" fill="#22aee0"/>
<ellipse cx="359.71" cy="630.60" rx="2.70" ry="3.38" fill="#2fbf55"/>
<ellipse cx="359.61" cy="630.60" rx="1.80" ry="2.25" fill="#d8e42a"/>
<ellipse cx="359.52" cy="630.60" rx="1.02" ry="1.28" fill="#f08a1c"/>
</g></g>
<g>
<g filter="url(#bl9)">
<ellipse cx="360.10" cy="606.50" rx="6.00" ry="13.00" fill="#3a2a9c"/>
<ellipse cx="359.99" cy="606.31" rx="5.04" ry="10.92" fill="#2f55d2"/>
<ellipse cx="359.89" cy="606.14" rx="4.20" ry="9.10" fill="#22aee0"/>
<ellipse cx="359.79" cy="605.97" rx="3.36" ry="7.28" fill="#2fbf55"/>
<ellipse cx="359.69" cy="605.80" rx="2.52" ry="5.46" fill="#d8e42a"/>
<ellipse cx="359.61" cy="605.66" rx="1.80" ry="3.90" fill="#f08a1c"/>
<ellipse cx="359.54" cy="605.54" rx="1.20" ry="2.60" fill="#e2231c"/>
</g></g>
<g>
<g filter="url(#bl5)">
<ellipse cx="359.40" cy="603.00" rx="1.60" ry="1.60" fill="#d8201c"/>
</g></g>
<g>
<g filter="url(#bl5)">
<ellipse cx="359.40" cy="607.80" rx="1.60" ry="1.60" fill="#d8201c"/>
</g></g>
<rect x="349.40" y="587.50" width="19.50" height="28.80" fill="none" stroke="#8c8c8c" stroke-width="0.8"/>
<rect x="372.20" y="627.50" width="24.80" height="17.00" fill="none" stroke="#8c8c8c" stroke-width="0.8"/>
<text x="351.20" y="584.80" font-size="6.6" fill="#2a2a2a">53%</text>
<text x="399.60" y="640.40" font-size="6.6" fill="#2a2a2a">14%</text>
<rect x="433.70" y="577.40" width="76.30" height="68.00" fill="none" stroke="#b0b0b0" stroke-width="0.9"/>
<line x1="433.70" y1="577.40" x2="433.70" y2="645.40" stroke="#888" stroke-width="0.9"/>
<line x1="433.70" y1="645.40" x2="510.00" y2="645.40" stroke="#888" stroke-width="0.9"/>
<rect x="432.20" y="630.60" width="1.60" height="2.80" fill="#333"/>
<rect x="447.90" y="645.30" width="3.20" height="1.60" fill="#333"/>
<line x1="432.20" y1="581.40" x2="433.70" y2="581.40" stroke="#666" stroke-width="0.6"/>
<line x1="432.20" y1="589.15" x2="433.70" y2="589.15" stroke="#666" stroke-width="0.6"/>
<line x1="432.20" y1="596.90" x2="433.70" y2="596.90" stroke="#666" stroke-width="0.6"/>
<line x1="432.20" y1="604.65" x2="433.70" y2="604.65" stroke="#666" stroke-width="0.6"/>
<line x1="432.20" y1="612.40" x2="433.70" y2="612.40" stroke="#666" stroke-width="0.6"/>
<line x1="432.20" y1="620.15" x2="433.70" y2="620.15" stroke="#666" stroke-width="0.6"/>
<line x1="432.20" y1="627.90" x2="433.70" y2="627.90" stroke="#666" stroke-width="0.6"/>
<line x1="432.20" y1="635.65" x2="433.70" y2="635.65" stroke="#666" stroke-width="0.6"/>
<line x1="432.20" y1="643.40" x2="433.70" y2="643.40" stroke="#666" stroke-width="0.6"/>
<line x1="437.70" y1="645.40" x2="437.70" y2="646.90" stroke="#666" stroke-width="0.6"/>
<line x1="446.49" y1="645.40" x2="446.49" y2="646.90" stroke="#666" stroke-width="0.6"/>
<line x1="455.27" y1="645.40" x2="455.27" y2="646.90" stroke="#666" stroke-width="0.6"/>
<line x1="464.06" y1="645.40" x2="464.06" y2="646.90" stroke="#666" stroke-width="0.6"/>
<line x1="472.85" y1="645.40" x2="472.85" y2="646.90" stroke="#666" stroke-width="0.6"/>
<line x1="481.64" y1="645.40" x2="481.64" y2="646.90" stroke="#666" stroke-width="0.6"/>
<line x1="490.43" y1="645.40" x2="490.43" y2="646.90" stroke="#666" stroke-width="0.6"/>
<line x1="499.21" y1="645.40" x2="499.21" y2="646.90" stroke="#666" stroke-width="0.6"/>
<line x1="508.00" y1="645.40" x2="508.00" y2="646.90" stroke="#666" stroke-width="0.6"/>
<path d="M454.5 618.7h0.9M466.2 614.8h0.9M458.5 603.2h0.9M462.1 602.5h0.9M452.4 604.5h0.9M472.4 618.2h0.9M488.5 615.0h0.9M463.1 596.0h0.9M469.2 606.4h0.9M462.9 599.6h0.9M468.5 618.3h0.9M458.2 604.4h0.9M461.1 620.1h0.9M461.4 620.5h0.9M453.1 625.7h0.9M468.3 629.1h0.9M482.2 625.1h0.9M453.1 620.9h0.9M472.0 627.0h0.9M468.8 616.9h0.9M458.1 613.8h0.9M472.6 623.2h0.9M457.5 594.2h0.9M471.7 621.1h0.9M474.3 620.7h0.9M476.6 589.2h0.9M478.5 617.3h0.9M459.9 599.5h0.9M467.3 619.3h0.9M458.4 617.3h0.9M454.6 595.8h0.9M454.1 610.3h0.9M460.5 603.5h0.9M456.1 626.1h0.9M473.2 627.7h0.9M465.0 622.1h0.9M462.5 621.6h0.9M468.6 606.4h0.9M468.8 618.2h0.9M461.5 598.1h0.9M467.4 593.1h0.9M465.3 609.4h0.9M474.6 626.6h0.9M473.5 611.3h0.9M452.1 588.2h0.9M483.4 594.3h0.9M483.5 630.7h0.9M478.1 627.1h0.9M476.9 618.2h0.9M458.5 604.4h0.9M482.6 624.9h0.9M463.2 625.6h0.9M454.2 615.6h0.9M453.4 608.1h0.9M470.7 624.6h0.9M474.1 615.3h0.9M456.5 601.0h0.9M459.7 596.1h0.9M462.9 598.7h0.9M474.5 618.3h0.9M489.7 631.7h0.9M452.7 625.5h0.9M462.7 605.0h0.9M463.0 630.3h0.9M463.7 610.5h0.9M453.2 623.6h0.9M482.7 622.1h0.9M455.9 629.4h0.9M464.9 594.4h0.9M453.7 610.0h0.9M453.0 612.5h0.9M483.9 625.7h0.9M470.0 625.3h0.9M461.0 625.0h0.9M469.2 631.9h0.9M456.3 630.6h0.9M452.6 631.9h0.9M475.5 631.1h0.9M464.0 625.5h0.9M470.0 625.5h0.9M460.8 606.4h0.9M473.5 622.0h0.9M480.5 629.8h0.9M471.4 610.9h0.9M453.6 602.5h0.9M482.1 607.6h0.9M488.0 624.2h0.9M463.3 602.8h0.9M479.5 619.4h0.9M479.9 621.9h0.9M462.1 629.0h0.9M455.2 609.1h0.9M463.0 602.6h0.9M459.7 610.7h0.9M486.9 631.9h0.9M489.3 626.8h0.9M466.0 626.2h0.9M476.2 628.9h0.9M458.3 625.3h0.9M455.8 593.0h0.9M463.4 627.5h0.9M459.8 604.6h0.9M460.8 622.6h0.9M477.3 625.9h0.9M479.2 624.2h0.9M467.3 628.0h0.9M453.7 588.6h0.9M489.0 620.9h0.9M478.4 605.9h0.9M465.2 623.0h0.9M465.9 617.8h0.9M458.8 620.7h0.9M467.2 610.9h0.9M471.4 624.5h0.9M459.0 617.1h0.9M460.1 620.4h0.9M453.5 617.3h0.9M466.8 599.1h0.9M468.6 621.2h0.9M456.6 625.3h0.9M483.8 626.4h0.9M475.0 623.0h0.9M471.2 617.7h0.9M453.4 624.2h0.9M459.2 601.8h0.9M468.2 612.4h0.9M474.9 612.5h0.9M470.3 610.7h0.9M459.4 631.2h0.9M470.8 616.5h0.9M462.9 596.5h0.9M472.1 626.7h0.9M452.7 610.5h0.9M483.7 630.9h0.9M481.6 621.2h0.9M453.4 590.2h0.9M453.2 601.2h0.9M486.8 629.9h0.9M471.2 621.7h0.9M453.7 590.1h0.9M456.9 628.6h0.9M467.8 604.4h0.9M453.5 632.0h0.9M467.2 601.6h0.9M456.3 601.1h0.9M453.3 604.3h0.9M456.9 605.9h0.9M460.1 595.6h0.9M461.5 621.6h0.9M459.0 630.7h0.9M460.2 620.5h0.9M455.4 593.0h0.9M463.5 623.5h0.9M464.1 631.6h0.9M464.0 630.5h0.9M461.1 617.2h0.9M462.8 620.0h0.9M483.3 621.2h0.9M484.7 631.4h0.9M459.9 617.3h0.9M481.5 629.9h0.9M452.1 628.7h0.9M468.2 617.7h0.9M468.9 608.2h0.9M470.0 623.3h0.9M456.1 599.0h0.9M472.8 594.5h0.9M453.4 625.8h0.9M460.9 629.9h0.9M457.0 622.5h0.9M455.1 591.0h0.9M452.7 597.1h0.9M484.1 630.5h0.9M477.5 623.8h0.9M455.8 630.7h0.9M457.4 629.7h0.9M479.4 619.2h0.9M486.7 628.6h0.9M482.9 618.0h0.9M485.6 604.9h0.9M463.5 624.8h0.9M454.2 593.0h0.9M475.6 627.4h0.9M471.3 615.5h0.9M465.1 625.9h0.9M480.4 623.2h0.9M482.7 625.3h0.9M461.3 621.0h0.9M475.9 620.2h0.9M464.2 623.3h0.9M467.3 617.8h0.9M455.5 588.7h0.9M482.5 625.4h0.9M452.9 618.3h0.9M462.7 611.9h0.9M464.5 608.2h0.9M460.8 626.5h0.9M478.3 604.4h0.9M454.8 605.6h0.9M479.9 615.8h0.9M465.6 599.7h0.9M468.1 620.5h0.9M463.7 627.6h0.9M453.3 625.8h0.9M475.1 618.5h0.9M471.3 606.1h0.9M475.3 611.9h0.9M472.9 616.8h0.9M459.2 618.4h0.9M459.5 599.8h0.9M478.2 626.3h0.9M477.9 628.1h0.9M480.8 631.9h0.9M485.2 624.8h0.9M465.9 610.1h0.9M459.6 597.9h0.9M470.9 621.2h0.9M469.6 607.5h0.9M468.9 627.2h0.9M470.9 603.4h0.9M470.7 609.0h0.9M471.6 628.7h0.9M474.9 629.7h0.9M486.1 629.1h0.9M464.9 598.8h0.9M455.0 625.3h0.9M481.2 630.1h0.9M486.0 627.6h0.9M487.1 628.3h0.9M458.3 600.4h0.9M463.0 601.5h0.9M464.3 603.3h0.9M469.5 625.7h0.9M462.7 628.4h0.9M453.6 602.0h0.9M472.2 612.5h0.9M458.8 597.5h0.9M481.3 622.1h0.9M456.8 624.6h0.9M469.7 602.7h0.9M452.1 593.1h0.9M476.3 630.6h0.9M479.4 614.6h0.9M480.1 623.5h0.9M463.6 599.0h0.9M457.8 618.9h0.9M466.0 627.0h0.9M456.4 618.8h0.9M468.5 608.5h0.9M479.4 631.6h0.9M488.6 619.2h0.9M470.4 605.5h0.9M487.0 624.3h0.9M462.2 619.7h0.9M465.0 619.0h0.9M476.4 626.7h0.9M472.2 609.5h0.9M478.0 626.9h0.9M463.6 616.1h0.9M464.3 628.2h0.9M453.8 607.9h0.9M454.8 626.1h0.9M454.2 591.5h0.9M457.4 601.2h0.9M453.5 627.3h0.9M464.7 631.9h0.9M478.4 623.3h0.9M456.2 613.5h0.9M458.6 594.6h0.9M479.0 628.3h0.9M457.2 612.6h0.9M466.9 618.4h0.9M466.7 606.5h0.9M455.7 613.5h0.9M472.3 613.3h0.9M455.8 601.6h0.9M455.2 603.8h0.9M456.7 595.7h0.9M460.3 591.1h0.9M462.7 612.6h0.9M469.4 628.2h0.9M470.1 608.0h0.9M453.5 609.9h0.9M458.3 631.7h0.9M478.6 618.2h0.9M465.2 621.8h0.9M465.2 601.7h0.9M484.2 622.8h0.9M454.9 599.5h0.9M463.7 600.3h0.9M454.0 588.1h0.9M460.2 592.7h0.9M455.7 631.0h0.9M485.5 616.6h0.9M471.7 629.6h0.9M454.9 628.0h0.9M453.0 609.4h0.9M489.7 631.9h0.9M485.4 592.4h0.9M460.9 619.3h0.9M470.6 609.8h0.9M458.9 630.8h0.9M453.4 593.5h0.9M474.6 627.6h0.9M484.8 628.4h0.9M459.1 595.1h0.9M463.7 627.3h0.9M474.0 622.6h0.9M462.5 619.8h0.9M468.7 604.9h0.9M454.3 607.8h0.9M474.8 612.0h0.9M474.9 593.5h0.9M452.4 590.1h0.9M460.4 624.2h0.9M468.0 623.3h0.9M460.7 610.2h0.9M478.1 624.1h0.9M459.0 609.5h0.9M476.9 630.2h0.9M461.5 613.1h0.9M474.9 610.0h0.9M477.6 618.0h0.9M453.6 622.4h0.9M460.1 624.0h0.9M474.2 625.0h0.9M454.1 596.2h0.9M457.3 615.3h0.9M454.3 617.2h0.9M455.7 602.5h0.9M484.2 628.7h0.9M475.2 631.8h0.9M464.0 600.7h0.9M457.7 618.8h0.9M463.2 629.1h0.9M464.4 605.1h0.9M452.0 627.7h0.9M457.2 596.5h0.9M456.0 605.9h0.9M465.3 617.0h0.9M477.8 614.4h0.9M475.6 622.1h0.9M466.2 616.7h0.9M458.6 598.5h0.9M465.3 601.2h0.9M473.1 607.6h0.9M459.7 622.6h0.9M464.7 610.7h0.9M463.8 622.3h0.9M476.3 630.0h0.9M478.2 608.4h0.9M478.2 608.0h0.9M471.3 626.1h0.9M456.8 601.5h0.9M457.4 600.5h0.9M476.9 626.1h0.9M469.9 624.4h0.9M456.2 601.2h0.9M486.9 631.3h0.9M464.9 601.7h0.9M469.8 618.6h0.9M483.0 628.1h0.9M480.3 623.0h0.9M469.6 616.9h0.9M453.0 615.0h0.9M459.4 626.9h0.9M456.0 613.4h0.9M467.0 610.1h0.9M468.1 610.6h0.9M462.2 601.2h0.9M455.2 616.0h0.9M454.7 622.9h0.9M475.8 617.4h0.9M471.9 631.3h0.9M461.0 613.4h0.9M482.6 620.2h0.9M469.4 605.8h0.9M452.5 618.6h0.9M470.7 603.8h0.9M475.7 627.7h0.9M472.1 615.0h0.9M468.5 607.9h0.9M471.7 604.7h0.9M480.3 616.2h0.9M463.6 630.5h0.9M458.8 623.8h0.9M462.9 611.4h0.9M471.0 605.6h0.9M473.3 611.6h0.9M465.0 599.7h0.9M478.1 627.3h0.9M486.7 629.1h0.9M472.8 599.9h0.9M488.3 624.0h0.9M452.1 628.7h0.9M475.6 616.9h0.9M461.2 611.2h0.9M471.7 630.3h0.9M457.1 629.2h0.9M467.6 626.2h0.9M469.8 604.9h0.9M456.8 590.5h0.9M469.3 630.6h0.9M468.5 616.0h0.9M468.6 607.6h0.9M474.0 630.9h0.9M469.9 606.6h0.9M481.6 625.9h0.9M459.8 617.9h0.9M459.3 589.5h0.9M482.1 627.6h0.9M483.6 618.0h0.9M468.8 626.5h0.9M470.6 610.7h0.9M468.7 621.0h0.9M459.9 611.8h0.9M471.2 618.7h0.9M466.2 588.0h0.9M460.0 594.5h0.9M469.6 630.8h0.9M461.9 612.1h0.9M464.6 623.5h0.9M454.1 599.7h0.9M464.0 615.6h0.9M467.9 600.1h0.9M452.9 611.4h0.9M479.0 618.4h0.9M471.4 628.6h0.9M479.6 596.4h0.9M478.3 629.5h0.9M454.4 593.8h0.9M479.1 622.1h0.9M468.6 628.1h0.9M476.3 620.8h0.9M463.7 624.7h0.9M457.3 596.5h0.9M453.2 621.7h0.9M486.7 623.9h0.9M452.5 603.6h0.9M482.2 619.2h0.9M459.5 630.0h0.9M454.2 593.7h0.9M455.1 594.9h0.9M460.0 626.0h0.9M461.6 594.4h0.9M482.2 622.9h0.9M460.5 628.2h0.9M476.8 626.4h0.9M469.5 615.3h0.9M481.8 630.6h0.9M466.9 607.9h0.9M462.9 608.7h0.9M468.1 631.4h0.9M462.4 605.4h0.9M485.0 588.7h0.9M460.1 611.4h0.9M456.7 602.3h0.9M452.7 593.2h0.9M464.8 623.6h0.9M466.9 603.1h0.9M463.5 608.6h0.9M484.3 608.4h0.9M481.9 624.8h0.9M487.2 629.3h0.9M452.2 624.1h0.9M471.8 622.1h0.9M452.0 600.1h0.9M463.6 601.3h0.9M468.5 608.7h0.9M458.0 610.3h0.9M475.3 630.1h0.9M486.9 621.1h0.9M453.6 625.7h0.9M473.6 607.7h0.9M484.6 624.9h0.9M456.8 606.2h0.9M488.2 627.6h0.9M464.9 596.8h0.9M452.2 616.1h0.9M476.1 600.6h0.9M464.6 595.4h0.9M463.3 600.6h0.9M467.6 613.2h0.9M475.7 627.9h0.9M452.2 589.5h0.9M452.6 621.7h0.9M474.2 617.1h0.9M487.2 627.5h0.9M461.1 625.8h0.9M454.0 602.2h0.9M452.1 601.1h0.9M482.7 618.8h0.9M470.9 612.4h0.9M463.7 620.6h0.9M480.0 623.2h0.9M457.6 618.8h0.9M453.1 590.0h0.9M460.2 619.5h0.9M478.7 618.0h0.9M461.0 603.7h0.9M457.7 605.2h0.9M474.6 622.5h0.9M470.3 619.3h0.9M457.9 611.0h0.9M469.3 628.5h0.9M480.3 617.8h0.9M474.8 630.6h0.9M477.3 612.1h0.9M454.6 624.0h0.9M471.5 624.3h0.9M459.6 592.3h0.9M477.8 621.1h0.9M457.8 628.4h0.9M475.9 599.9h0.9M469.6 622.4h0.9M466.0 623.0h0.9M480.1 631.6h0.9M458.6 615.1h0.9M481.9 618.3h0.9M486.4 622.2h0.9M486.2 624.9h0.9M461.1 614.9h0.9M463.7 606.7h0.9M452.2 617.9h0.9M462.0 624.7h0.9M453.2 605.0h0.9M472.6 606.0h0.9M460.4 608.5h0.9M477.3 612.8h0.9M460.8 624.5h0.9M457.4 599.1h0.9M485.4 625.2h0.9M456.8 628.3h0.9M459.0 627.7h0.9M460.4 604.5h0.9M465.1 628.0h0.9M464.5 631.0h0.9M456.6 628.4h0.9M452.5 593.4h0.9M452.9 597.0h0.9M460.7 591.1h0.9M452.3 622.3h0.9M457.7 604.8h0.9M452.2 609.5h0.9M486.4 606.7h0.9M459.7 618.3h0.9M458.9 599.7h0.9M471.3 625.4h0.9M464.0 600.4h0.9M459.9 608.8h0.9M482.8 622.9h0.9M455.9 618.3h0.9M460.8 619.4h0.9M468.1 614.9h0.9M479.6 616.0h0.9M484.0 627.3h0.9M455.3 593.0h0.9M471.6 624.7h0.9M485.4 628.2h0.9M470.2 623.9h0.9M463.3 607.9h0.9M468.0 613.3h0.9M477.7 620.0h0.9M463.6 608.1h0.9M476.3 620.7h0.9M466.0 617.2h0.9M459.7 598.1h0.9M479.0 622.8h0.9M454.4 596.6h0.9M454.2 622.0h0.9M463.8 606.2h0.9M458.5 623.2h0.9M457.1 607.4h0.9M476.5 618.0h0.9M473.3 631.4h0.9M471.2 611.2h0.9M466.8 609.8h0.9M462.5 617.7h0.9M453.2 615.7h0.9M457.8 615.5h0.9M468.2 603.5h0.9M456.5 616.8h0.9M457.0 627.7h0.9M477.3 588.9h0.9M455.5 590.6h0.9M470.2 618.4h0.9M465.6 604.9h0.9M483.8 615.6h0.9M473.6 618.0h0.9M483.5 629.4h0.9M452.4 600.9h0.9M456.2 630.6h0.9M486.0 624.5h0.9M481.4 622.7h0.9M468.0 627.0h0.9M463.8 603.5h0.9M462.6 595.9h0.9M468.9 622.0h0.9M464.7 611.9h0.9M479.7 627.2h0.9M487.0 593.7h0.9M464.6 611.9h0.9M469.6 626.8h0.9M475.2 616.2h0.9M472.0 627.8h0.9M488.8 617.5h0.9M463.5 629.5h0.9M460.9 621.0h0.9M470.5 609.6h0.9M469.3 605.6h0.9M488.0 629.0h0.9M452.3 588.4h0.9M464.5 604.2h0.9M474.1 612.6h0.9M458.9 597.0h0.9M479.4 617.3h0.9M475.9 613.1h0.9M453.2 618.1h0.9M460.9 592.5h0.9M464.5 616.9h0.9M474.1 630.9h0.9M473.8 612.5h0.9M467.2 631.0h0.9M459.1 616.8h0.9M458.7 619.6h0.9M456.5 602.0h0.9M452.9 619.4h0.9M460.1 591.9h0.9M467.4 614.6h0.9M485.5 622.6h0.9M471.2 610.3h0.9M462.5 631.2h0.9M470.3 606.6h0.9M467.2 624.9h0.9M475.1 608.5h0.9M466.0 627.1h0.9M454.2 602.8h0.9M461.3 625.2h0.9M458.8 603.2h0.9M465.9 614.5h0.9M489.0 630.0h0.9M460.0 595.2h0.9M457.0 626.8h0.9M452.9 628.7h0.9M457.6 625.3h0.9M470.2 628.4h0.9M480.9 624.0h0.9M456.5 598.1h0.9M467.4 608.7h0.9M466.2 631.8h0.9M475.9 620.4h0.9M483.7 629.2h0.9M458.5 613.2h0.9M468.8 616.2h0.9M463.2 617.0h0.9M483.6 622.4h0.9M472.8 620.5h0.9M476.6 628.1h0.9M471.6 623.3h0.9M453.5 620.9h0.9M454.1 603.7h0.9M470.8 611.1h0.9M489.7 628.3h0.9M455.8 601.7h0.9M456.3 631.1h0.9M465.3 631.5h0.9M463.4 603.1h0.9M474.8 618.2h0.9M462.8 602.4h0.9M464.2 603.7h0.9M472.3 607.5h0.9M475.8 629.4h0.9M486.5 631.2h0.9M472.9 622.0h0.9M470.1 621.0h0.9M468.3 626.8h0.9M460.2 617.6h0.9M470.1 614.3h0.9M484.1 620.1h0.9M468.3 603.7h0.9M477.8 616.9h0.9M453.8 627.2h0.9M467.2 629.7h0.9M468.7 604.9h0.9M452.3 612.3h0.9M461.7 598.6h0.9M459.6 603.1h0.9M458.6 622.4h0.9M469.2 609.6h0.9M454.5 590.2h0.9M467.5 624.0h0.9M488.8 594.4h0.9M468.3 612.8h0.9M483.5 627.5h0.9M464.3 615.1h0.9M468.3 611.5h0.9M452.9 612.0h0.9M455.4 620.7h0.9M470.6 629.9h0.9M465.1 616.1h0.9" stroke="#5a50c0" stroke-width="0.9" opacity="0.55" fill="none"/>
<path d="M467.7 606.6h0.9M481.6 605.5h0.9M484.8 603.9h0.9M480.8 607.0h0.9M481.5 602.8h0.9M488.1 606.1h0.9M482.5 608.1h0.9M473.5 602.7h0.9M480.6 604.6h0.9M475.7 604.1h0.9M480.3 604.6h0.9M468.2 604.5h0.9M479.3 604.1h0.9M484.5 601.0h0.9M474.2 609.6h0.9M478.0 606.7h0.9M479.8 607.2h0.9M480.2 602.0h0.9M488.2 604.6h0.9M478.9 608.1h0.9M483.7 606.6h0.9M472.5 602.5h0.9M483.4 607.2h0.9M484.9 608.7h0.9M475.4 605.3h0.9M489.5 604.0h0.9M471.9 611.0h0.9M476.3 608.6h0.9M469.7 602.7h0.9M478.8 605.4h0.9M480.5 607.4h0.9M479.9 600.4h0.9M483.9 608.1h0.9M478.0 605.6h0.9M466.7 605.9h0.9M482.1 603.2h0.9M478.6 603.1h0.9M484.4 611.4h0.9M476.1 603.4h0.9M473.1 609.4h0.9M480.6 605.7h0.9M478.8 602.9h0.9M473.0 606.5h0.9M473.3 605.4h0.9M477.7 610.4h0.9M478.3 597.7h0.9M480.4 605.5h0.9M480.2 602.9h0.9M478.7 602.5h0.9M471.8 607.8h0.9M472.1 606.6h0.9M487.2 606.3h0.9M474.8 603.4h0.9M470.6 605.7h0.9M478.6 604.7h0.9M483.6 603.2h0.9M482.2 605.7h0.9M477.2 603.6h0.9M472.2 603.0h0.9M476.6 604.7h0.9M490.4 605.9h0.9M479.2 606.7h0.9M476.7 604.8h0.9M476.7 599.9h0.9M474.1 608.5h0.9M470.0 605.5h0.9M478.1 605.7h0.9M487.2 608.9h0.9M481.5 604.8h0.9M477.1 602.8h0.9M473.6 603.3h0.9M467.4 602.6h0.9M485.7 600.0h0.9M480.4 602.0h0.9M480.5 610.4h0.9M475.9 603.7h0.9M476.3 605.6h0.9M479.5 598.0h0.9M484.6 605.3h0.9M486.0 601.2h0.9M477.3 603.5h0.9M473.4 604.0h0.9M473.5 603.6h0.9M479.2 608.9h0.9M479.6 606.1h0.9M471.6 601.6h0.9M479.0 605.8h0.9M475.6 605.6h0.9M481.5 604.1h0.9M483.3 605.3h0.9" stroke="#3a30a8" stroke-width="0.9" opacity="0.7" fill="none"/>
<path d="M464.2 634.9h0.9M465.1 634.8h0.9M450.0 630.3h0.9M461.8 634.8h0.9M469.2 637.0h0.9M456.9 638.0h0.9M463.1 632.2h0.9M453.6 633.4h0.9M462.3 626.0h0.9M454.4 631.8h0.9M459.9 628.7h0.9M461.6 634.6h0.9M476.1 632.0h0.9M467.6 632.5h0.9M452.9 629.1h0.9M452.6 629.1h0.9M468.8 625.1h0.9M470.7 631.4h0.9M459.1 633.3h0.9M457.0 632.8h0.9M475.8 630.0h0.9M463.3 636.6h0.9M460.7 630.7h0.9M467.3 627.5h0.9M440.7 633.2h0.9M464.0 632.4h0.9M459.8 627.6h0.9M474.3 632.1h0.9M454.6 630.4h0.9M473.6 636.0h0.9M470.9 629.6h0.9M464.0 635.7h0.9M455.4 629.1h0.9M464.1 630.0h0.9M472.6 628.8h0.9M464.6 633.0h0.9M463.4 629.4h0.9M478.8 627.9h0.9M459.1 636.8h0.9M464.1 635.5h0.9M468.0 637.0h0.9M474.6 637.2h0.9M457.2 633.9h0.9M468.0 632.5h0.9M467.9 632.8h0.9M475.0 631.4h0.9M465.2 632.9h0.9M444.2 633.6h0.9M453.9 632.8h0.9M459.6 630.7h0.9M466.4 635.4h0.9M467.1 629.1h0.9M459.3 635.6h0.9M463.9 630.1h0.9M468.2 634.8h0.9M459.3 633.4h0.9M466.2 637.8h0.9M464.4 634.6h0.9M470.2 631.0h0.9M478.0 629.9h0.9M452.1 632.4h0.9M470.9 632.3h0.9M476.9 634.6h0.9M480.1 630.4h0.9M448.5 631.4h0.9M460.7 632.6h0.9M449.3 634.6h0.9M470.7 633.8h0.9M466.5 632.6h0.9M463.4 631.3h0.9M457.0 630.3h0.9M457.9 638.9h0.9M451.1 633.4h0.9M472.4 629.3h0.9M467.4 633.9h0.9M465.6 629.7h0.9M468.0 633.6h0.9M460.0 635.4h0.9M472.4 636.6h0.9M468.0 631.8h0.9M455.6 631.6h0.9M457.4 630.2h0.9M463.6 632.0h0.9M469.4 632.3h0.9M460.0 628.6h0.9M458.3 633.3h0.9M475.5 626.7h0.9M467.5 634.1h0.9M454.2 632.9h0.9M475.3 634.3h0.9M460.5 631.8h0.9M475.6 632.3h0.9M454.1 633.2h0.9M463.2 631.4h0.9M481.1 630.9h0.9M452.6 632.2h0.9M470.3 635.5h0.9M454.2 631.0h0.9M460.1 630.9h0.9M446.8 637.3h0.9M472.1 640.7h0.9M452.7 636.0h0.9M464.7 630.8h0.9M466.8 631.1h0.9M460.6 635.4h0.9M469.6 635.3h0.9M465.2 632.6h0.9M466.5 636.0h0.9M451.7 637.4h0.9M445.1 632.7h0.9M468.5 634.0h0.9M471.0 634.2h0.9M457.9 626.4h0.9M462.7 629.0h0.9M466.5 627.8h0.9M457.6 634.2h0.9M469.0 633.0h0.9M470.8 637.6h0.9M446.7 630.9h0.9M471.2 628.2h0.9M475.1 633.1h0.9M458.3 634.0h0.9M461.0 633.0h0.9M465.8 631.3h0.9M464.7 639.3h0.9M471.2 630.3h0.9M464.2 638.4h0.9M472.8 633.0h0.9M479.4 633.2h0.9M461.0 629.5h0.9M466.1 632.0h0.9M459.4 634.3h0.9M471.4 627.6h0.9M477.6 640.6h0.9M455.3 630.4h0.9M459.9 632.0h0.9M472.2 633.1h0.9M471.8 632.1h0.9M455.1 631.4h0.9M462.1 632.2h0.9M466.9 630.4h0.9M472.5 629.2h0.9M474.2 631.8h0.9M463.9 628.2h0.9M474.3 634.4h0.9M471.5 626.4h0.9M454.0 634.9h0.9M465.0 630.8h0.9M460.0 631.4h0.9M446.6 630.6h0.9M459.7 633.0h0.9M464.1 637.4h0.9M473.0 631.4h0.9M461.0 628.0h0.9M475.6 630.2h0.9M464.0 630.8h0.9M467.2 630.4h0.9M456.0 631.5h0.9M460.8 635.7h0.9M462.0 627.4h0.9M463.8 627.9h0.9M456.2 632.8h0.9M461.3 634.3h0.9M456.0 631.8h0.9M452.9 628.4h0.9M465.5 631.3h0.9M466.8 631.2h0.9M446.6 632.3h0.9M476.9 635.7h0.9M456.6 635.2h0.9M459.1 632.3h0.9M456.7 633.5h0.9M469.9 633.1h0.9M442.8 630.3h0.9M471.5 632.8h0.9M475.4 628.8h0.9M469.8 632.1h0.9M462.1 634.3h0.9M460.7 633.9h0.9M452.4 627.6h0.9M463.0 633.7h0.9M469.5 636.4h0.9M469.6 629.2h0.9M461.5 630.7h0.9M461.9 632.0h0.9M467.4 633.5h0.9M449.8 632.8h0.9M463.9 631.9h0.9M450.8 635.2h0.9M454.0 628.2h0.9M469.8 633.2h0.9M466.6 636.0h0.9M464.1 637.2h0.9M479.8 633.1h0.9M460.1 632.7h0.9M461.6 628.7h0.9M472.4 636.1h0.9M446.1 630.8h0.9M455.0 633.2h0.9M463.5 629.4h0.9M458.7 628.4h0.9M471.5 633.3h0.9M464.1 633.4h0.9M461.9 626.9h0.9M466.8 630.1h0.9M463.7 639.1h0.9M459.9 633.1h0.9M462.3 633.6h0.9M456.9 625.2h0.9M468.0 629.4h0.9M460.8 635.7h0.9M458.5 633.7h0.9M449.1 627.1h0.9M454.6 631.3h0.9M458.8 632.4h0.9M458.9 627.7h0.9M473.6 629.0h0.9M465.7 634.9h0.9M457.5 634.1h0.9M464.4 629.2h0.9M457.1 630.9h0.9M452.0 627.3h0.9M456.0 630.0h0.9M455.0 631.6h0.9M442.7 635.5h0.9M474.2 633.0h0.9M459.6 631.2h0.9M486.3 637.1h0.9M460.5 633.6h0.9M458.2 634.7h0.9M456.1 633.2h0.9M455.0 630.2h0.9M461.0 629.1h0.9M459.1 634.3h0.9M453.9 632.8h0.9M442.1 631.7h0.9M466.4 629.7h0.9M444.9 630.9h0.9M460.6 636.3h0.9M477.0 632.1h0.9M467.7 634.2h0.9M447.7 634.0h0.9M457.9 635.0h0.9M458.8 636.5h0.9M466.7 639.7h0.9M452.5 634.3h0.9M460.8 631.9h0.9M464.8 633.0h0.9M459.0 630.0h0.9M461.0 632.3h0.9M455.3 632.1h0.9M448.1 635.4h0.9" stroke="#3228a0" stroke-width="0.9" opacity="0.85" fill="none"/>
<g>
<g filter="url(#bl9)">
<ellipse cx="463.00" cy="632.50" rx="9.00" ry="3.80" fill="#3a2fae"/>
<ellipse cx="463.00" cy="632.50" rx="5.40" ry="2.28" fill="#2f4fd0"/>
</g></g>
<g>
<g filter="url(#bl9)">
<ellipse cx="476.50" cy="633.00" rx="8.50" ry="4.50" fill="#3a2a9c"/>
<ellipse cx="476.76" cy="633.05" rx="6.46" ry="3.42" fill="#2f55d2"/>
<ellipse cx="477.00" cy="633.09" rx="4.68" ry="2.48" fill="#22aee0"/>
<ellipse cx="477.22" cy="633.13" rx="2.97" ry="1.57" fill="#2fbf55"/>
</g></g>
<g>
<g filter="url(#bl9)">
<ellipse cx="449.20" cy="620.00" rx="4.00" ry="4.00" fill="#3a2fae"/>
<ellipse cx="449.20" cy="620.00" rx="2.40" ry="2.40" fill="#2f4fd0"/>
</g></g>
<g>
<g filter="url(#bl9)">
<ellipse cx="450.00" cy="630.60" rx="6.50" ry="7.20" fill="#3a2a9c"/>
<ellipse cx="449.88" cy="630.60" rx="5.52" ry="6.12" fill="#2f55d2"/>
<ellipse cx="449.78" cy="630.60" rx="4.68" ry="5.18" fill="#22aee0"/>
<ellipse cx="449.66" cy="630.60" rx="3.77" ry="4.18" fill="#2fbf55"/>
<ellipse cx="449.57" cy="630.60" rx="2.99" ry="3.31" fill="#d8e42a"/>
<ellipse cx="449.47" cy="630.60" rx="2.21" ry="2.45" fill="#f08a1c"/>
<ellipse cx="449.38" cy="630.60" rx="1.43" ry="1.58" fill="#e2231c"/>
</g></g>
<g>
<g filter="url(#bl9)">
<ellipse cx="449.20" cy="604.00" rx="5.00" ry="10.50" fill="#3a2a9c"/>
<ellipse cx="449.04" cy="603.94" rx="4.00" ry="8.40" fill="#2f55d2"/>
<ellipse cx="448.88" cy="603.88" rx="3.00" ry="6.30" fill="#22aee0"/>
<ellipse cx="448.74" cy="603.83" rx="2.10" ry="4.41" fill="#2fbf55"/>
<ellipse cx="448.59" cy="603.77" rx="1.20" ry="2.52" fill="#d8e42a"/>
</g></g>
<rect x="438.40" y="588.30" width="19.50" height="28.00" fill="none" stroke="#8c8c8c" stroke-width="0.8"/>
<rect x="461.20" y="627.50" width="24.10" height="17.00" fill="none" stroke="#8c8c8c" stroke-width="0.8"/>
<text x="439.70" y="585.10" font-size="6.6" fill="#2a2a2a">35%</text>
<text x="488.50" y="640.80" font-size="6.6" fill="#2a2a2a">16%</text>
<polyline points="333.80,531.70 333.80,561.20 364.30,561.20" fill="none" stroke="#000" stroke-width="1.4"/>
<polygon points="333.80,522.20 328.60,534.70 333.80,532.20 339.00,534.70" fill="#000"/>
<polygon points="373.80,561.20 361.30,556.00 363.80,561.20 361.30,566.40" fill="#000"/>
<polyline points="334.00,630.10 334.00,659.30 365.70,659.30" fill="none" stroke="#000" stroke-width="1.4"/>
<polygon points="334.00,620.60 328.80,633.10 334.00,630.60 339.20,633.10" fill="#000"/>
<polygon points="375.20,659.30 362.70,654.10 365.20,659.30 362.70,664.50" fill="#000"/>
<text x="336.40" y="515.70" font-size="10.9" class="c2" textLength="17.9" lengthAdjust="spacingAndGlyphs" transform="rotate(-90 336.40 515.70)">Mac1</text>
<text x="378.90" y="565.90" font-size="10.9" class="c2" textLength="12.3" lengthAdjust="spacingAndGlyphs">Gr1</text>
<text x="335.80" y="608.40" font-size="10.6" class="c2" textLength="17.7" lengthAdjust="spacingAndGlyphs" transform="rotate(-90 335.80 608.40)">B220</text>
<text x="377.80" y="661.90" font-size="11" class="c2" textLength="14.4" lengthAdjust="spacingAndGlyphs">CD3</text>
<path d="M10.9,678.4 H13.6 V684.8 C13.6,687.6 12.4,688.8 10.7,688.8 C8.9,688.8 8.1,687.6 8.2,685.4 H10.4 C10.4,686.4 10.6,686.8 10.9,686.8 C11.2,686.8 10.9,686.3 10.9,685.6 Z" fill="#000"/>
<line x1="50.70" y1="721.20" x2="50.70" y2="821.20" stroke="#231f20" stroke-width="1.4"/>
<line x1="46.70" y1="821.20" x2="50.70" y2="821.20" stroke="#231f20" stroke-width="1.4"/>
<text x="43.30" y="824.60" font-size="9.2" text-anchor="end" textLength="5.6" lengthAdjust="spacingAndGlyphs">0</text>
<line x1="46.70" y1="801.87" x2="50.70" y2="801.87" stroke="#231f20" stroke-width="1.4"/>
<text x="43.30" y="805.27" font-size="9.2" text-anchor="end" textLength="11.2" lengthAdjust="spacingAndGlyphs">20</text>
<line x1="46.70" y1="782.54" x2="50.70" y2="782.54" stroke="#231f20" stroke-width="1.4"/>
<text x="43.30" y="785.94" font-size="9.2" text-anchor="end" textLength="11.2" lengthAdjust="spacingAndGlyphs">40</text>
<line x1="46.70" y1="763.21" x2="50.70" y2="763.21" stroke="#231f20" stroke-width="1.4"/>
<text x="43.30" y="766.61" font-size="9.2" text-anchor="end" textLength="11.2" lengthAdjust="spacingAndGlyphs">60</text>
<line x1="46.70" y1="743.88" x2="50.70" y2="743.88" stroke="#231f20" stroke-width="1.4"/>
<text x="43.30" y="747.28" font-size="9.2" text-anchor="end" textLength="11.2" lengthAdjust="spacingAndGlyphs">80</text>
<line x1="46.70" y1="724.55" x2="50.70" y2="724.55" stroke="#231f20" stroke-width="1.4"/>
<text x="43.30" y="727.95" font-size="9.2" text-anchor="end" textLength="16.8" lengthAdjust="spacingAndGlyphs">100</text>
<rect x="56.10" y="747.17" width="11.70" height="74.03" fill="#d3d6da"/>
<rect x="74.20" y="734.22" width="10.80" height="86.99" fill="#8fd2ef"/>
<rect x="102.50" y="819.27" width="11.00" height="1.93" fill="#d3d6da"/>
<rect x="149.00" y="804.19" width="10.90" height="17.01" fill="#d3d6da"/>
<rect x="166.80" y="817.04" width="8.70" height="4.16" fill="#8fd2ef"/>
<line x1="49.50" y1="821.20" x2="184.80" y2="821.20" stroke="#231f20" stroke-width="1.3"/>
<line x1="70.40" y1="821.20" x2="70.40" y2="824.50" stroke="#231f20" stroke-width="1"/>
<line x1="116.60" y1="821.20" x2="116.60" y2="824.50" stroke="#231f20" stroke-width="1"/>
<line x1="162.80" y1="821.20" x2="162.80" y2="824.50" stroke="#231f20" stroke-width="1"/>
<line x1="61.90" y1="729.20" x2="61.90" y2="768.80" stroke="#3c4350" stroke-width="1.1"/>
<circle cx="61.90" cy="729.20" r="2.3" fill="#3c4350"/>
<circle cx="58.50" cy="734.50" r="2.3" fill="#3c4350"/>
<circle cx="65.30" cy="735.00" r="2.3" fill="#3c4350"/>
<circle cx="61.90" cy="751.50" r="2.3" fill="#3c4350"/>
<circle cx="61.90" cy="761.50" r="2.3" fill="#3c4350"/>
<circle cx="61.90" cy="768.80" r="2.3" fill="#3c4350"/>
<line x1="79.20" y1="728.80" x2="79.20" y2="740.40" stroke="#1e9cd8" stroke-width="1.1"/>
<line x1="76.45" y1="740.40" x2="81.95" y2="740.40" stroke="#1e9cd8" stroke-width="1.1"/>
<circle cx="79.20" cy="728.80" r="2.3" fill="#1e9cd8"/>
<circle cx="75.80" cy="733.50" r="2.3" fill="#1e9cd8"/>
<circle cx="82.70" cy="733.80" r="2.3" fill="#1e9cd8"/>
<circle cx="79.20" cy="731.00" r="2.3" fill="#1e9cd8"/>
<circle cx="77.50" cy="729.50" r="2.3" fill="#1e9cd8"/>
<circle cx="81.00" cy="729.50" r="2.3" fill="#1e9cd8"/>
<circle cx="79.20" cy="750.40" r="2.3" fill="#1e9cd8"/>
<circle cx="108.00" cy="813.30" r="2.3" fill="#3c4350"/>
<circle cx="104.50" cy="820.20" r="2.3" fill="#3c4350"/>
<circle cx="110.60" cy="820.50" r="2.3" fill="#3c4350"/>
<circle cx="107.50" cy="820.80" r="2.3" fill="#3c4350"/>
<circle cx="121.50" cy="821.00" r="2.3" fill="#1e9cd8"/>
<circle cx="124.00" cy="821.00" r="2.3" fill="#1e9cd8"/>
<circle cx="127.00" cy="821.00" r="2.3" fill="#1e9cd8"/>
<circle cx="130.00" cy="821.00" r="2.3" fill="#1e9cd8"/>
<line x1="154.70" y1="787.80" x2="154.70" y2="820.00" stroke="#3c4350" stroke-width="1.1"/>
<circle cx="151.20" cy="787.80" r="2.3" fill="#3c4350"/>
<circle cx="157.70" cy="787.00" r="2.3" fill="#3c4350"/>
<circle cx="154.70" cy="796.00" r="2.3" fill="#3c4350"/>
<circle cx="154.70" cy="812.40" r="2.3" fill="#3c4350"/>
<circle cx="151.20" cy="820.50" r="2.3" fill="#3c4350"/>
<circle cx="157.70" cy="818.50" r="2.3" fill="#3c4350"/>
<line x1="171.20" y1="811.50" x2="171.20" y2="820.00" stroke="#1e9cd8" stroke-width="1.1"/>
<line x1="169.05" y1="811.50" x2="173.35" y2="811.50" stroke="#1e9cd8" stroke-width="1.1"/>
<circle cx="171.20" cy="804.30" r="2.3" fill="#1e9cd8"/>
<circle cx="169.00" cy="818.00" r="2.3" fill="#1e9cd8"/>
<circle cx="172.00" cy="816.50" r="2.3" fill="#1e9cd8"/>
<circle cx="174.50" cy="819.00" r="2.3" fill="#1e9cd8"/>
<circle cx="168.00" cy="821.00" r="2.3" fill="#1e9cd8"/>
<circle cx="171.00" cy="821.00" r="2.3" fill="#1e9cd8"/>
<circle cx="131.40" cy="732.10" r="3.3" fill="#3c4350"/>
<circle cx="131.40" cy="746.20" r="3.3" fill="#8fd2ef"/>
<text x="138.80" y="734.80" font-size="9.5" textLength="27.2" lengthAdjust="spacingAndGlyphs">EV ctrl</text>
<text x="138.80" y="749.60" font-size="9.5" textLength="44.2" lengthAdjust="spacingAndGlyphs">GBP2 OE</text>
<text x="56.00" y="837.20" font-size="9.6" textLength="29.5" lengthAdjust="spacingAndGlyphs">B cells</text>
<text x="103.30" y="837.20" font-size="9.6" textLength="26.7" lengthAdjust="spacingAndGlyphs">T cells</text>
<text x="146.60" y="837.20" font-size="9.6" textLength="32.7" lengthAdjust="spacingAndGlyphs">Myeloid</text>
<text x="19.00" y="801.30" font-size="10" class="c" textLength="60.6" lengthAdjust="spacingAndGlyphs" transform="rotate(-90 19.00 801.30)">% of GFP+ cells</text>
<text x="202.60" y="688.50" font-size="15" font-weight="bold" fill="#000">K</text>
<line x1="238.80" y1="697.00" x2="238.80" y2="820.60" stroke="#231f20" stroke-width="1.4"/>
<line x1="234.80" y1="820.60" x2="238.80" y2="820.60" stroke="#231f20" stroke-width="1.4"/>
<text x="231.40" y="824.08" font-size="9.4" text-anchor="end" textLength="6.0" lengthAdjust="spacingAndGlyphs">0</text>
<line x1="234.80" y1="780.80" x2="238.80" y2="780.80" stroke="#231f20" stroke-width="1.4"/>
<text x="231.40" y="784.28" font-size="9.4" text-anchor="end" textLength="12.0" lengthAdjust="spacingAndGlyphs">20</text>
<line x1="234.80" y1="741.00" x2="238.80" y2="741.00" stroke="#231f20" stroke-width="1.4"/>
<text x="231.40" y="744.48" font-size="9.4" text-anchor="end" textLength="12.0" lengthAdjust="spacingAndGlyphs">40</text>
<line x1="234.80" y1="701.20" x2="238.80" y2="701.20" stroke="#231f20" stroke-width="1.4"/>
<text x="231.40" y="704.68" font-size="9.4" text-anchor="end" textLength="12.0" lengthAdjust="spacingAndGlyphs">60</text>
<rect x="282.60" y="790.15" width="21.10" height="30.45" fill="#8fd2ef"/>
<rect x="250.00" y="816.22" width="21.00" height="4.38" fill="#a3a8b1"/>
<line x1="237.50" y1="820.60" x2="316.00" y2="820.60" stroke="#231f20" stroke-width="1.3"/>
<line x1="260.50" y1="820.60" x2="260.50" y2="823.90" stroke="#231f20" stroke-width="1"/>
<line x1="293.40" y1="820.60" x2="293.40" y2="823.90" stroke="#231f20" stroke-width="1"/>
<circle cx="252.50" cy="816.50" r="2.6" fill="#3c4350"/>
<circle cx="256.00" cy="815.50" r="2.6" fill="#3c4350"/>
<circle cx="259.50" cy="816.00" r="2.6" fill="#3c4350"/>
<circle cx="263.00" cy="815.50" r="2.6" fill="#3c4350"/>
<circle cx="266.50" cy="816.00" r="2.6" fill="#3c4350"/>
<circle cx="269.00" cy="816.80" r="2.6" fill="#3c4350"/>
<circle cx="254.00" cy="818.50" r="2.6" fill="#3c4350"/>
<circle cx="258.00" cy="818.50" r="2.6" fill="#3c4350"/>
<circle cx="262.00" cy="818.50" r="2.6" fill="#3c4350"/>
<circle cx="266.00" cy="818.50" r="2.6" fill="#3c4350"/>
<line x1="293.40" y1="758.70" x2="293.40" y2="820.00" stroke="#1e9cd8" stroke-width="1.2"/>
<line x1="288.20" y1="758.70" x2="298.60" y2="758.70" stroke="#1e9cd8" stroke-width="1.2"/>
<circle cx="293.40" cy="765.90" r="2.7" fill="#1e9cd8"/>
<circle cx="293.40" cy="776.00" r="2.7" fill="#1e9cd8"/>
<circle cx="293.40" cy="786.00" r="2.7" fill="#1e9cd8"/>
<circle cx="293.40" cy="802.80" r="2.7" fill="#1e9cd8"/>
<circle cx="290.40" cy="809.70" r="2.7" fill="#1e9cd8"/>
<circle cx="285.60" cy="815.40" r="2.7" fill="#1e9cd8"/>
<circle cx="296.00" cy="814.40" r="2.7" fill="#1e9cd8"/>
<circle cx="301.20" cy="813.70" r="2.7" fill="#1e9cd8"/>
<circle cx="293.40" cy="817.00" r="2.7" fill="#1e9cd8"/>
<rect x="281.30" y="714.80" width="22.40" height="19.00" fill="#fcebcf"/>
<circle cx="293.10" cy="723.30" r="2.9" fill="#3aa0b4" stroke="#2a7e92" stroke-width="0.6"/>
<line x1="303.50" y1="724.50" x2="347.00" y2="724.50" stroke="#ecc030" stroke-width="0.9"/>
<polygon points="351.00,724.50 345.00,721.90 346.50,724.50 345.00,727.10" fill="#ecc030"/>
<text x="213.00" y="782.00" font-size="10.5" class="c" textLength="44.5" lengthAdjust="spacingAndGlyphs" transform="rotate(-90 213.00 782.00)">WBC (K/&#956;l)</text>
<text x="253.50" y="837.30" font-size="9.6" textLength="14.2" lengthAdjust="spacingAndGlyphs">WT</text>
<text x="278.40" y="837.30" font-size="9.6" textLength="29.6" lengthAdjust="spacingAndGlyphs">E&#956;Myc</text>
<text x="271.20" y="848.90" font-size="9.6" textLength="45" lengthAdjust="spacingAndGlyphs">GBP2 OE</text>
<rect x="361.80" y="723.00" width="96.60" height="85.30" fill="none" stroke="#b0b0b0" stroke-width="0.9"/>
<line x1="361.80" y1="723.00" x2="361.80" y2="808.30" stroke="#888" stroke-width="0.9"/>
<line x1="361.80" y1="808.30" x2="458.40" y2="808.30" stroke="#888" stroke-width="0.9"/>
<rect x="360.30" y="790.60" width="1.60" height="2.80" fill="#333"/>
<rect x="376.90" y="808.20" width="3.20" height="1.60" fill="#333"/>
<line x1="360.30" y1="727.00" x2="361.80" y2="727.00" stroke="#666" stroke-width="0.6"/>
<line x1="360.30" y1="736.91" x2="361.80" y2="736.91" stroke="#666" stroke-width="0.6"/>
<line x1="360.30" y1="746.83" x2="361.80" y2="746.83" stroke="#666" stroke-width="0.6"/>
<line x1="360.30" y1="756.74" x2="361.80" y2="756.74" stroke="#666" stroke-width="0.6"/>
<line x1="360.30" y1="766.65" x2="361.80" y2="766.65" stroke="#666" stroke-width="0.6"/>
<line x1="360.30" y1="776.56" x2="361.80" y2="776.56" stroke="#666" stroke-width="0.6"/>
<line x1="360.30" y1="786.47" x2="361.80" y2="786.47" stroke="#666" stroke-width="0.6"/>
<line x1="360.30" y1="796.39" x2="361.80" y2="796.39" stroke="#666" stroke-width="0.6"/>
<line x1="360.30" y1="806.30" x2="361.80" y2="806.30" stroke="#666" stroke-width="0.6"/>
<line x1="365.80" y1="808.30" x2="365.80" y2="809.80" stroke="#666" stroke-width="0.6"/>
<line x1="377.12" y1="808.30" x2="377.12" y2="809.80" stroke="#666" stroke-width="0.6"/>
<line x1="388.45" y1="808.30" x2="388.45" y2="809.80" stroke="#666" stroke-width="0.6"/>
<line x1="399.77" y1="808.30" x2="399.77" y2="809.80" stroke="#666" stroke-width="0.6"/>
<line x1="411.10" y1="808.30" x2="411.10" y2="809.80" stroke="#666" stroke-width="0.6"/>
<line x1="422.43" y1="808.30" x2="422.43" y2="809.80" stroke="#666" stroke-width="0.6"/>
<line x1="433.75" y1="808.30" x2="433.75" y2="809.80" stroke="#666" stroke-width="0.6"/>
<line x1="445.07" y1="808.30" x2="445.07" y2="809.80" stroke="#666" stroke-width="0.6"/>
<line x1="456.40" y1="808.30" x2="456.40" y2="809.80" stroke="#666" stroke-width="0.6"/>
<path d="M404.2 791.1h0.9M408.9 792.5h0.9M404.7 791.4h0.9M408.5 785.4h0.9M411.9 785.9h0.9M397.3 785.5h0.9M399.9 785.3h0.9M409.1 786.9h0.9M413.7 786.3h0.9M407.8 787.5h0.9M394.9 787.9h0.9M407.0 791.3h0.9M398.1 791.6h0.9M411.6 784.4h0.9M406.9 792.5h0.9M395.2 789.5h0.9M393.3 788.4h0.9M413.3 786.4h0.9M408.3 781.3h0.9M401.4 785.8h0.9M409.6 786.7h0.9M409.3 787.4h0.9M401.1 788.2h0.9M406.4 786.6h0.9M409.2 784.5h0.9M406.0 790.0h0.9M401.6 787.5h0.9M404.6 781.9h0.9M413.4 786.3h0.9M410.5 784.9h0.9M398.1 786.0h0.9M408.4 779.7h0.9M408.6 781.1h0.9M409.1 787.6h0.9M409.7 789.4h0.9M398.4 784.8h0.9M406.2 785.1h0.9M403.1 782.4h0.9M407.2 796.4h0.9M409.3 788.3h0.9M397.4 786.0h0.9M410.3 786.5h0.9M407.2 785.1h0.9M401.2 787.2h0.9M400.7 784.2h0.9M404.5 785.3h0.9M411.3 787.4h0.9M400.5 781.9h0.9M398.5 785.5h0.9M407.9 786.3h0.9M401.9 782.0h0.9M403.2 783.0h0.9M412.6 787.6h0.9M402.4 793.0h0.9M412.6 786.5h0.9M395.9 791.0h0.9M400.7 789.0h0.9M397.4 784.8h0.9" stroke="#5a58c0" stroke-width="0.9" opacity="0.6" fill="none"/>
<rect x="366.50" y="755.40" width="22.40" height="28.10" fill="none" stroke="#8c8c8c" stroke-width="0.8"/>
<path d="M379.7 782.6h1.0M377.1 772.8h1.0M382.8 779.7h1.0M380.6 780.4h1.0M383.2 782.7h1.0M379.9 790.6h1.0M377.1 781.3h1.0M377.4 783.9h1.0M380.8 785.3h1.0M378.5 790.2h1.0M378.9 773.8h1.0M384.7 768.0h1.0M387.6 769.6h1.0M371.4 776.8h1.0M382.6 775.4h1.0M381.8 791.5h1.0M374.9 781.9h1.0M380.7 786.2h1.0M375.0 767.4h1.0M375.1 775.1h1.0M378.5 783.1h1.0M374.5 773.9h1.0M375.0 784.5h1.0M380.3 787.0h1.0M382.7 791.8h1.0M375.8 793.7h1.0M372.3 787.9h1.0M377.7 767.3h1.0M385.5 801.4h1.0M383.6 769.7h1.0M366.2 789.5h1.0M379.4 776.9h1.0M374.2 766.9h1.0M378.2 763.7h1.0M370.7 780.6h1.0M384.6 789.1h1.0M382.9 794.5h1.0M381.9 778.0h1.0M379.3 784.1h1.0M375.1 782.5h1.0M377.5 770.7h1.0M370.5 783.0h1.0M381.2 791.1h1.0M384.0 786.2h1.0M378.8 778.0h1.0M376.5 788.5h1.0M377.9 800.0h1.0M385.6 790.5h1.0M377.4 798.1h1.0M385.4 771.6h1.0M380.2 793.6h1.0M373.8 799.8h1.0M377.2 788.3h1.0M376.2 785.1h1.0M379.3 796.8h1.0M376.5 788.1h1.0M381.6 780.2h1.0M380.1 769.9h1.0M371.2 778.5h1.0M369.6 774.6h1.0M376.6 776.3h1.0M374.7 774.1h1.0M380.2 780.9h1.0M385.3 789.0h1.0M383.5 775.7h1.0M386.1 788.5h1.0M377.5 793.8h1.0M379.8 775.9h1.0M378.1 787.5h1.0M376.7 786.5h1.0M374.8 767.1h1.0M383.8 786.8h1.0M380.3 767.9h1.0M377.4 794.0h1.0M375.5 773.1h1.0M389.0 782.9h1.0M380.5 782.0h1.0M384.6 784.9h1.0M374.5 779.6h1.0M378.4 798.8h1.0M378.2 781.6h1.0M383.7 793.0h1.0M375.4 785.4h1.0M382.2 780.5h1.0M382.6 787.3h1.0M372.0 790.2h1.0M378.2 779.3h1.0M367.4 786.4h1.0M367.6 784.6h1.0M385.3 773.5h1.0M376.6 779.5h1.0M382.2 782.2h1.0M376.0 793.0h1.0M369.6 779.6h1.0M367.1 778.0h1.0M379.6 770.3h1.0M376.9 795.6h1.0M369.6 782.9h1.0M376.6 798.8h1.0M377.3 777.5h1.0M383.3 779.1h1.0M373.8 785.9h1.0M371.2 793.5h1.0M383.0 778.2h1.0M372.5 781.0h1.0M385.5 796.1h1.0M377.0 784.0h1.0M378.4 790.6h1.0M378.7 777.5h1.0M384.0 799.2h1.0M374.1 802.6h1.0M380.2 783.2h1.0M379.2 791.7h1.0M373.7 781.1h1.0M389.7 778.1h1.0M386.8 764.3h1.0M376.0 780.8h1.0M376.6 781.8h1.0M372.0 791.4h1.0M385.5 778.7h1.0M373.6 790.3h1.0M384.3 794.0h1.0M375.4 776.6h1.0M369.1 790.2h1.0M381.4 784.9h1.0M371.9 771.6h1.0M371.2 779.7h1.0M384.5 783.7h1.0M376.2 781.8h1.0M374.2 781.7h1.0M373.0 796.2h1.0M378.4 781.8h1.0M384.1 789.6h1.0M384.3 777.1h1.0M373.5 795.5h1.0M379.6 781.2h1.0M383.2 785.2h1.0M376.6 772.3h1.0M375.1 783.8h1.0M378.8 785.3h1.0M374.2 784.5h1.0M373.1 778.1h1.0M374.4 796.8h1.0M375.1 791.6h1.0M370.5 786.8h1.0M386.2 781.2h1.0M386.3 783.0h1.0M370.9 781.1h1.0M378.9 783.3h1.0M380.5 783.4h1.0M383.9 792.3h1.0M378.5 773.8h1.0M379.1 792.4h1.0M380.8 787.5h1.0M368.0 789.5h1.0M377.6 778.6h1.0M380.3 779.5h1.0M367.7 771.8h1.0M377.9 794.8h1.0M369.3 766.3h1.0M380.6 774.0h1.0M375.2 779.7h1.0M379.6 776.9h1.0M376.6 778.7h1.0M376.6 766.9h1.0M381.9 788.8h1.0M381.3 792.3h1.0M379.1 803.9h1.0M378.9 780.2h1.0M378.1 790.1h1.0M382.1 791.7h1.0M376.9 772.7h1.0M375.0 782.7h1.0M368.7 787.6h1.0M381.1 786.1h1.0M372.2 781.5h1.0M380.9 797.2h1.0M383.7 782.0h1.0M389.8 781.5h1.0M378.0 775.4h1.0M367.0 775.2h1.0M381.3 774.7h1.0M378.1 789.9h1.0M371.0 793.0h1.0M372.9 788.7h1.0M379.8 792.1h1.0M378.9 785.4h1.0M379.6 793.9h1.0M373.2 770.7h1.0M372.1 791.3h1.0M379.3 781.8h1.0M374.6 780.9h1.0M380.7 781.7h1.0M375.8 790.6h1.0M378.3 769.5h1.0M383.4 786.1h1.0M376.4 787.2h1.0M383.6 784.8h1.0M378.7 790.3h1.0M373.6 774.2h1.0M376.0 786.8h1.0M380.4 775.4h1.0M376.5 793.4h1.0M382.8 788.6h1.0M381.4 788.2h1.0M372.6 772.1h1.0M385.5 781.1h1.0M383.9 790.0h1.0M377.5 789.4h1.0M375.6 776.2h1.0M382.6 775.9h1.0M379.4 787.1h1.0M389.0 789.1h1.0M383.0 778.5h1.0M385.0 775.6h1.0M376.8 770.0h1.0M377.8 779.4h1.0M374.5 775.2h1.0M375.4 786.7h1.0M372.5 771.0h1.0M377.1 780.3h1.0M384.9 787.0h1.0M376.8 779.9h1.0M387.8 788.2h1.0M388.2 782.0h1.0M376.6 780.8h1.0M376.4 789.9h1.0M367.7 790.7h1.0M380.8 780.7h1.0M368.1 778.2h1.0M384.2 782.7h1.0M380.5 796.1h1.0M385.0 791.4h1.0M384.3 768.6h1.0M378.1 777.1h1.0M374.4 782.1h1.0M386.9 787.2h1.0M384.2 787.9h1.0M375.5 794.4h1.0M374.0 793.7h1.0M380.4 781.2h1.0M375.8 773.1h1.0M381.8 779.2h1.0M384.4 779.0h1.0M380.9 783.8h1.0M371.3 781.3h1.0M383.0 777.4h1.0M382.2 774.0h1.0M369.0 792.5h1.0M375.5 778.7h1.0M375.9 785.5h1.0M384.2 765.3h1.0M384.0 781.9h1.0M377.9 796.5h1.0M367.7 766.7h1.0M370.9 795.8h1.0M371.9 786.2h1.0M377.4 772.5h1.0M381.1 784.1h1.0M374.6 771.0h1.0M374.8 789.5h1.0M379.4 776.3h1.0M379.8 787.8h1.0M373.1 778.2h1.0M386.1 785.9h1.0M376.5 791.0h1.0M378.4 790.4h1.0M380.2 783.9h1.0M366.4 792.0h1.0M384.8 787.8h1.0M377.3 792.0h1.0M379.1 795.0h1.0M376.7 790.3h1.0M381.5 791.0h1.0M378.3 776.4h1.0M374.6 780.3h1.0M374.3 785.2h1.0M378.5 778.7h1.0M378.3 780.5h1.0M376.0 776.6h1.0M375.3 786.6h1.0M372.9 791.8h1.0M373.0 773.3h1.0M379.2 793.6h1.0M381.6 775.1h1.0M382.8 769.4h1.0M383.1 789.2h1.0M372.3 792.8h1.0M385.6 786.8h1.0M387.7 778.6h1.0M380.7 782.3h1.0M374.4 787.6h1.0M377.3 778.8h1.0M383.1 782.1h1.0M376.4 795.7h1.0M371.6 771.4h1.0M375.7 794.9h1.0M373.3 786.5h1.0M369.4 769.9h1.0M390.2 787.0h1.0M377.2 793.3h1.0M372.8 775.4h1.0M380.2 777.5h1.0M370.8 784.1h1.0M380.9 790.5h1.0M377.3 780.8h1.0M381.9 787.4h1.0M373.0 779.2h1.0M374.6 774.2h1.0M371.7 767.0h1.0M378.4 777.9h1.0M381.4 790.7h1.0M380.6 791.1h1.0M382.4 788.9h1.0M377.8 792.3h1.0M383.5 764.9h1.0M383.5 789.9h1.0M379.3 776.6h1.0M381.8 778.1h1.0M382.7 781.6h1.0M371.6 775.6h1.0M370.5 794.2h1.0M383.7 794.0h1.0M380.4 763.2h1.0M370.4 774.1h1.0M382.0 797.0h1.0M387.2 795.7h1.0M379.2 782.3h1.0M384.4 776.9h1.0M370.3 783.2h1.0M379.1 772.0h1.0M381.6 765.3h1.0M376.7 781.0h1.0M384.8 793.8h1.0M376.6 765.0h1.0M377.0 795.3h1.0M381.3 767.7h1.0M387.8 773.6h1.0M383.9 790.9h1.0M372.5 789.8h1.0M381.8 789.7h1.0M385.1 780.9h1.0M376.4 767.6h1.0M377.7 779.1h1.0M370.7 780.9h1.0M379.5 774.3h1.0M381.8 786.6h1.0M378.4 775.7h1.0M389.2 786.5h1.0M379.3 777.2h1.0M378.2 771.3h1.0M378.6 778.9h1.0M377.3 764.2h1.0M376.0 795.5h1.0M379.0 784.5h1.0M381.5 797.5h1.0M390.0 777.3h1.0M377.7 780.1h1.0M379.7 767.4h1.0M379.7 787.6h1.0M382.4 802.0h1.0M379.1 795.3h1.0M381.7 784.9h1.0M384.6 777.2h1.0M369.3 793.4h1.0M379.1 784.0h1.0M377.5 774.7h1.0M368.6 786.6h1.0M383.7 800.4h1.0M378.0 776.0h1.0M383.5 780.6h1.0M379.4 783.7h1.0M381.9 779.3h1.0M379.4 762.2h1.0M377.8 780.3h1.0M383.4 779.4h1.0M378.3 783.9h1.0M378.0 777.8h1.0M377.7 788.6h1.0M380.9 781.2h1.0M377.0 781.4h1.0M372.3 783.3h1.0M385.3 778.2h1.0M374.4 781.4h1.0M381.1 791.5h1.0M375.6 788.6h1.0M378.6 791.4h1.0M378.2 783.9h1.0M382.8 803.8h1.0M382.2 778.7h1.0M382.5 787.6h1.0M376.5 782.2h1.0M374.3 789.2h1.0M379.1 792.5h1.0M378.5 786.1h1.0M379.9 785.5h1.0M380.5 787.1h1.0M372.0 793.5h1.0M375.2 788.7h1.0M372.5 780.8h1.0M376.3 793.0h1.0M373.1 790.3h1.0M376.5 781.8h1.0M381.3 780.9h1.0M381.1 778.7h1.0M372.0 779.6h1.0M384.5 781.2h1.0M386.1 784.4h1.0M376.7 784.6h1.0M387.1 792.5h1.0M376.0 782.9h1.0M379.5 772.1h1.0M370.4 777.6h1.0M386.1 776.0h1.0M382.1 781.9h1.0M377.3 778.0h1.0M376.1 797.8h1.0M377.1 784.9h1.0M390.2 775.7h1.0M378.8 772.8h1.0M384.6 771.0h1.0M380.4 782.9h1.0M375.7 785.3h1.0M375.1 789.0h1.0M376.7 787.3h1.0M378.6 781.3h1.0M378.8 787.8h1.0M381.2 780.1h1.0M374.0 789.7h1.0M378.3 781.4h1.0M382.3 778.2h1.0M383.6 781.9h1.0M385.6 764.5h1.0M375.1 787.4h1.0M380.9 779.1h1.0M376.2 788.7h1.0M378.3 790.6h1.0M382.8 793.1h1.0M389.2 782.6h1.0M377.9 781.3h1.0M387.5 788.0h1.0M383.6 785.5h1.0M368.6 770.1h1.0M376.1 794.3h1.0M387.6 793.5h1.0M368.6 779.9h1.0M385.1 801.6h1.0M372.0 783.0h1.0M379.6 779.4h1.0M381.7 773.5h1.0M372.5 783.5h1.0M372.8 781.9h1.0M379.5 786.9h1.0M384.5 784.3h1.0M371.3 788.3h1.0M370.7 764.5h1.0M378.9 795.2h1.0M382.4 789.0h1.0M377.8 773.4h1.0M367.6 783.2h1.0M384.1 796.4h1.0M375.1 787.0h1.0M379.7 777.0h1.0M375.0 783.8h1.0M378.3 778.6h1.0M377.8 774.8h1.0M381.2 783.7h1.0M386.4 789.4h1.0M377.4 772.4h1.0M371.6 781.8h1.0M379.8 769.0h1.0M377.1 782.5h1.0M375.2 791.7h1.0M374.3 775.1h1.0M377.1 789.4h1.0M385.5 789.2h1.0M370.5 802.6h1.0M383.1 779.8h1.0M377.8 779.2h1.0M381.4 801.6h1.0M368.5 791.7h1.0M385.0 769.9h1.0M382.1 783.4h1.0M377.4 774.6h1.0M367.6 778.1h1.0" stroke="#2a1f9a" stroke-width="1.0" opacity="0.85" fill="none"/>
<g filter="url(#bl8)"><path d="M378,764.5 C385,764.5 389.5,770 389.5,777 C389.5,786 385,795 382.5,800.5 C380.5,803 375.5,803 373.5,800.5 C371,795 366.5,786 366.5,777 C366.5,770 371,764.5 378,764.5 Z" fill="#2c2198"/></g>
<g>
<g filter="url(#bl8)">
<ellipse cx="377.80" cy="776.80" rx="8.60" ry="9.20" fill="#2e3cc0"/>
<ellipse cx="377.75" cy="776.72" rx="7.22" ry="7.73" fill="#2f62d8"/>
<ellipse cx="377.70" cy="776.64" rx="5.85" ry="6.26" fill="#22b0e0"/>
<ellipse cx="377.66" cy="776.57" rx="4.64" ry="4.97" fill="#2fc055"/>
<ellipse cx="377.62" cy="776.50" rx="3.53" ry="3.77" fill="#dce42a"/>
<ellipse cx="377.59" cy="776.44" rx="2.49" ry="2.67" fill="#f08a1c"/>
<ellipse cx="377.55" cy="776.38" rx="1.46" ry="1.56" fill="#e2231c"/>
</g></g>
<rect x="391.60" y="778.90" width="34.60" height="19.00" fill="none" stroke="#8c8c8c" stroke-width="0.8"/>
<text x="368.80" y="748.50" font-size="10" textLength="20.7" lengthAdjust="spacingAndGlyphs">95%</text>
<polyline points="349.00,786.80 349.00,818.90 385.10,818.90" fill="none" stroke="#000" stroke-width="1.4"/>
<polygon points="349.00,777.30 343.80,789.80 349.00,787.30 354.20,789.80" fill="#000"/>
<polygon points="394.60,818.90 382.10,813.70 384.60,818.90 382.10,824.10" fill="#000"/>
<text x="354.40" y="772.00" font-size="11.2" class="c2" textLength="18.5" lengthAdjust="spacingAndGlyphs" transform="rotate(-90 354.40 772.00)">B220</text>
<text x="399.20" y="823.60" font-size="10.6" class="c2" textLength="15" lengthAdjust="spacingAndGlyphs">CD3</text>
<rect x="0.5" y="0.5" width="519" height="859" fill="none" stroke="#222" stroke-width="1.2"/></g></svg></body></html>
